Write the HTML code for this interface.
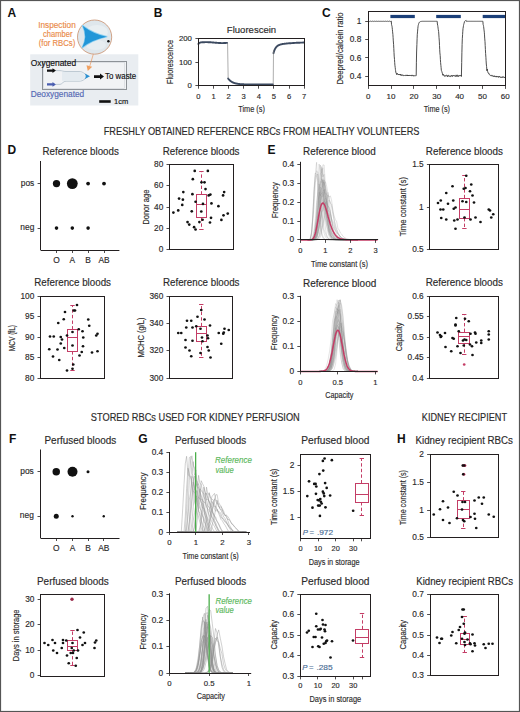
<!DOCTYPE html>
<html><head><meta charset="utf-8"><title>Figure</title>
<style>
html,body{margin:0;padding:0;background:#fff;}
body{width:520px;height:712px;overflow:hidden;}
svg{display:block;}
text{font-family:"Liberation Sans", sans-serif;}
</style></head><body>
<svg width="520" height="712" viewBox="0 0 520 712">
<rect x="0" y="0" width="520" height="712" fill="#fff"/>
<g fill="#2b2a2a">
<rect x="0.5" y="0.5" width="519" height="711" fill="none" stroke="#555" stroke-width="1.2"/>
<text x="7.60" y="16.80" font-size="12" font-weight="bold" fill="#111">A</text>
<text x="57.00" y="28.00" font-size="8.4" text-anchor="middle" fill="#ea8a48" stroke="#ea8a48" stroke-width="0.15" textLength="37.50" lengthAdjust="spacingAndGlyphs">Inspection</text>
<text x="57.70" y="37.20" font-size="8.4" text-anchor="middle" fill="#ea8a48" stroke="#ea8a48" stroke-width="0.15" textLength="29.40" lengthAdjust="spacingAndGlyphs">chamber</text>
<text x="57.00" y="45.80" font-size="8.4" text-anchor="middle" fill="#ea8a48" stroke="#ea8a48" stroke-width="0.15" textLength="36.70" lengthAdjust="spacingAndGlyphs">(for RBCs)</text>
<rect x="30.20" y="54.30" width="108.10" height="51.20" stroke="none" stroke-width="0" fill="#e9edf1"/>
<rect x="42.50" y="61.50" width="84.00" height="28.00" stroke="#8d9297" stroke-width="1.0" fill="#f1f3f5"/>
<rect x="43.50" y="62.50" width="81.00" height="26.00" stroke="#c9ced3" stroke-width="0.5" fill="none"/>
<path d="M56,70.6 L60,70.6 C62,70.6 63,71.5 66,71.5 L79,71.5 C84,71.5 85,75 88,76.3" stroke="#8aa0b0" stroke-width="0.5" fill="none"/>
<path d="M56,84.4 L60,84.4 C62,84.4 63,81.2 66,81.2 L79,81.2 C84,81.2 85,78 88,76.3" stroke="#8aa0b0" stroke-width="0.5" fill="none"/>
<path d="M62,72 L79,72 C83,72 84,76 86,76 C84,77 83,80.8 79,80.8 L62,80.8 Z" stroke="none" stroke-width="0" fill="#e4ebf0"/>
<path d="M84.5,73.3 Q87,76 84.5,79.3 L90,76.3 Z" stroke="none" stroke-width="0" fill="#2a8fd0"/>
<line x1="93.50" y1="53.50" x2="89.80" y2="66.00" stroke="#ea8a48" stroke-width="0.6"/>
<path d="M86.5,65.2 L92.2,66.8 L87.8,71 Z" stroke="none" stroke-width="0" fill="#f0a060"/>
<path d="M47,69.4 L52.5,69.4 L52.5,68.2 L56,70.6 L52.5,73 L52.5,71.8 L47,71.8 Z" stroke="none" stroke-width="0" fill="#111"/>
<path d="M47,83.2 L52.5,83.2 L52.5,82 L56,84.4 L52.5,86.8 L52.5,85.6 L47,85.6 Z" stroke="none" stroke-width="0" fill="#4a5eb0"/>
<path d="M94,75.3 L100,75.3 L100,73.6 L104,76.6 L100,79.6 L100,77.9 L94,77.9 Z" stroke="none" stroke-width="0" fill="#111"/>
<text x="105.00" y="78.90" font-size="8.2" fill="#111" stroke="#111" stroke-width="0.15" textLength="31.20" lengthAdjust="spacingAndGlyphs">To waste</text>
<text x="30.70" y="66.30" font-size="8.8" fill="#111" stroke="#111" stroke-width="0.15" textLength="45.40" lengthAdjust="spacingAndGlyphs">Oxygenated</text>
<text x="30.70" y="96.80" font-size="8.8" fill="#5468b4" stroke="#5468b4" stroke-width="0.15" textLength="53.50" lengthAdjust="spacingAndGlyphs">Deoxygenated</text>
<rect x="99.20" y="100.20" width="11.50" height="2.60" stroke="none" stroke-width="0" fill="#111"/>
<text x="114.00" y="103.50" font-size="7.6" fill="#111" stroke="#111" stroke-width="0.15" textLength="14.20" lengthAdjust="spacingAndGlyphs">1cm</text>
<circle cx="94.6" cy="37.1" r="17.1" fill="#dfe7ec" stroke="#c98f6c" stroke-width="0.8"/>
<ellipse cx="97" cy="32" rx="11" ry="7" fill="#e9eff2" stroke="none"/>
<ellipse cx="96" cy="45" rx="10" ry="5" fill="#e7edf1" stroke="none"/>
<path d="M82.2,25.2 Q93,33.5 107.2,36.6 Q93,39.5 82.0,48.0 Q88,36.5 82.2,25.2 Z" stroke="#8fd0f0" stroke-width="1.2" fill="#8fd0f0"/>
<path d="M82.6,25.8 Q93,34 106.7,36.8 Q93,39.5 82.2,47.4 Q88,36.5 82.6,25.8 Z" stroke="none" stroke-width="0" fill="#2196d8"/>
<circle cx="108.40" cy="41.30" r="1.25" fill="#111"/>
<text x="153.80" y="16.90" font-size="12" font-weight="bold" fill="#111">B</text>
<text x="226.80" y="32.80" font-size="9.3" stroke="#2b2a2a" stroke-width="0.15" textLength="49.40" lengthAdjust="spacingAndGlyphs">Fluorescein</text>
<path d="M198.4,44.0 L198.7,43.5 L199.0,43.2 L199.3,42.9 L199.6,42.8 L199.9,42.7 L200.2,42.6 L200.5,42.5 L200.8,42.4 L201.1,42.4 L201.4,42.4 L201.7,42.3 L202.0,42.3 L202.3,42.3 L202.6,42.3 L202.9,42.2 L203.2,42.2 L203.5,42.2 L203.8,42.2 L204.1,42.2 L204.4,42.2 L204.7,42.2 L205.1,42.1 L205.4,42.1 L205.7,42.1 L206.0,42.1 L206.3,42.1 L206.6,42.1 L206.9,42.1 L207.2,42.1 L207.5,42.1 L207.8,42.2 L208.1,42.2 L208.4,42.2 L208.7,42.2 L209.0,42.2 L209.3,42.2 L209.6,42.2 L209.9,42.2 L210.2,42.3 L210.5,42.3 L210.8,42.3 L211.1,42.3 L211.4,42.4 L211.7,42.4 L212.0,42.4 L212.3,42.4 L212.6,42.5 L212.9,42.5 L213.2,42.5 L213.5,42.5 L213.8,42.6 L214.1,42.6 L214.4,42.6 L214.7,42.6 L215.0,42.7 L215.3,42.7 L215.6,42.7 L215.9,42.8 L216.2,42.8 L216.5,42.8 L216.8,42.8 L217.1,42.9 L217.4,42.9 L217.7,42.9 L218.0,42.9 L218.4,42.9 L218.7,43.0 L219.0,43.0 L219.3,43.0 L219.6,43.0 L219.9,43.0 L220.2,43.0 L220.5,43.0 L220.8,43.1 L221.1,43.1 L221.4,43.1 L221.7,43.1 L222.0,43.1 L222.3,43.1 L222.6,43.1 L222.9,43.1 L223.2,43.1 L223.5,43.1 L223.8,43.0 L224.1,43.0 L224.4,43.0 L224.7,43.0 L225.0,43.0 L225.3,43.0 L225.6,43.0 L225.9,42.9 L226.2,42.9 L226.5,42.9 L226.8,42.9 L227.1,42.9" stroke="#3c4a60" stroke-width="1.9" fill="none" stroke-linejoin="round" stroke-linecap="round"/>
<path d="M228.2,78.6 L228.5,79.0 L228.8,79.4 L229.1,79.7 L229.4,80.0 L229.7,80.3 L230.0,80.6 L230.3,80.8 L230.6,81.1 L230.9,81.3 L231.2,81.5 L231.5,81.7 L231.8,81.9 L232.1,82.0 L232.4,82.2 L232.7,82.4 L233.0,82.5 L233.3,82.6 L233.6,82.7 L233.9,82.9 L234.2,83.0 L234.5,83.1 L234.8,83.2 L235.1,83.3 L235.4,83.3 L235.7,83.4 L236.0,83.5 L236.3,83.5 L236.6,83.6 L236.9,83.7 L237.2,83.7 L237.5,83.8 L237.8,83.8 L238.2,83.9 L238.5,83.9 L238.8,84.0 L239.1,84.0 L239.4,84.0 L239.7,84.1 L240.0,84.1 L240.3,84.1 L240.6,84.1 L240.9,84.2 L241.2,84.2 L241.5,84.2 L241.8,84.2 L242.1,84.2 L242.4,84.3 L242.7,84.3 L243.0,84.3 L243.3,84.3 L243.6,84.3 L243.9,84.3 L244.2,84.4 L244.5,84.4 L244.8,84.4 L245.1,84.4 L245.4,84.4 L245.7,84.4 L246.0,84.4 L246.3,84.4 L246.6,84.4 L246.9,84.4 L247.2,84.4 L247.5,84.4 L247.8,84.4 L248.1,84.5 L248.4,84.5 L248.7,84.5 L249.0,84.5 L249.3,84.5 L249.6,84.5 L249.9,84.5 L250.2,84.5 L250.5,84.5 L250.8,84.5 L251.1,84.5 L251.5,84.5 L251.8,84.5 L252.1,84.5 L252.4,84.5 L252.7,84.5 L253.0,84.5 L253.3,84.5 L253.6,84.5 L253.9,84.5 L254.2,84.5 L254.5,84.5 L254.8,84.5 L255.1,84.5 L255.4,84.5 L255.7,84.5 L256.0,84.5 L256.3,84.5 L256.6,84.5 L256.9,84.5 L257.2,84.5 L257.5,84.5 L257.8,84.5 L258.1,84.5 L258.4,84.5 L258.7,84.5 L259.0,84.5 L259.3,84.5 L259.6,84.5 L259.9,84.5 L260.2,84.5 L260.5,84.5 L260.8,84.5 L261.1,84.5 L261.4,84.5 L261.7,84.5 L262.0,84.5 L262.3,84.5 L262.6,84.5 L262.9,84.5 L263.2,84.5 L263.5,84.5 L263.8,84.5 L264.1,84.5 L264.4,84.5 L264.8,84.5 L265.1,84.5 L265.4,84.5 L265.7,84.5 L266.0,84.5 L266.3,84.5 L266.6,84.5 L266.9,84.5 L267.2,84.5 L267.5,84.5 L267.8,84.5 L268.1,84.5 L268.4,84.5 L268.7,84.5 L269.0,84.5 L269.3,84.5 L269.6,84.5 L269.9,84.5 L270.2,84.5 L270.5,84.5 L270.8,84.5 L271.1,84.5 L271.4,84.5 L271.7,84.5 L272.0,84.5 L272.3,84.5 L272.6,84.5 L272.9,84.5" stroke="#3c4a60" stroke-width="1.9" fill="none" stroke-linejoin="round" stroke-linecap="round"/>
<path d="M273.5,53.2 L273.8,52.1 L274.1,51.2 L274.4,50.4 L274.7,49.7 L275.0,49.0 L275.3,48.5 L275.6,48.0 L275.9,47.5 L276.2,47.1 L276.5,46.8 L276.8,46.5 L277.1,46.2 L277.4,46.0 L277.7,45.7 L278.1,45.5 L278.4,45.4 L278.7,45.2 L279.0,45.1 L279.3,44.9 L279.6,44.8 L279.9,44.7 L280.2,44.6 L280.5,44.5 L280.8,44.4 L281.1,44.4 L281.4,44.3 L281.7,44.2 L282.0,44.2 L282.3,44.1 L282.6,44.0 L282.9,44.0 L283.2,43.9 L283.5,43.9 L283.8,43.9 L284.1,43.8 L284.4,43.8 L284.7,43.7 L285.0,43.7 L285.3,43.7 L285.6,43.6 L285.9,43.6 L286.2,43.6 L286.5,43.5 L286.8,43.5 L287.1,43.5 L287.4,43.4 L287.7,43.4 L288.0,43.4 L288.3,43.4 L288.6,43.3 L288.9,43.3 L289.2,43.3 L289.5,43.3 L289.8,43.2 L290.1,43.2 L290.4,43.2 L290.7,43.2 L291.1,43.2 L291.4,43.1 L291.7,43.1 L292.0,43.1 L292.3,43.1 L292.6,43.1 L292.9,43.0 L293.2,43.0 L293.5,43.0 L293.8,43.0 L294.1,43.0 L294.4,42.9 L294.7,42.9 L295.0,42.9 L295.3,42.9 L295.6,42.9 L295.9,42.9 L296.2,42.8 L296.5,42.8 L296.8,42.8 L297.1,42.8 L297.4,42.8 L297.7,42.8 L298.0,42.8 L298.3,42.7 L298.6,42.7 L298.9,42.7 L299.2,42.7 L299.5,42.7 L299.8,42.7 L300.1,42.7 L300.4,42.6 L300.7,42.6 L301.0,42.6 L301.3,42.6 L301.6,42.6 L301.9,42.6 L302.2,42.6 L302.5,42.6 L302.8,42.6 L303.1,42.5 L303.4,42.5 L303.7,42.5 L304.0,42.5" stroke="#3c4a60" stroke-width="1.9" fill="none" stroke-linejoin="round" stroke-linecap="round"/>
<line x1="227.57" y1="43.31" x2="228.18" y2="78.64" stroke="#777" stroke-width="0.6"/>
<line x1="273.22" y1="84.52" x2="273.52" y2="50.38" stroke="#777" stroke-width="0.6"/>
<rect x="198.50" y="38.50" width="106.00" height="47.00" stroke="#231f20" stroke-width="1.0" fill="none"/>
<line x1="195.40" y1="38.50" x2="198.40" y2="38.50" stroke="#231f20" stroke-width="0.8"/>
<text x="191.90" y="41.10" font-size="7.8" text-anchor="end" stroke="#2b2a2a" stroke-width="0.15">200</text>
<line x1="195.40" y1="62.50" x2="198.40" y2="62.50" stroke="#231f20" stroke-width="0.8"/>
<text x="191.90" y="64.65" font-size="7.8" text-anchor="end" stroke="#2b2a2a" stroke-width="0.15">100</text>
<line x1="195.40" y1="85.50" x2="198.40" y2="85.50" stroke="#231f20" stroke-width="0.8"/>
<text x="191.90" y="88.20" font-size="7.8" text-anchor="end" stroke="#2b2a2a" stroke-width="0.15">0</text>
<line x1="198.50" y1="85.70" x2="198.50" y2="88.70" stroke="#231f20" stroke-width="0.8"/>
<text x="198.40" y="98.90" font-size="7.6" text-anchor="middle" stroke="#2b2a2a" stroke-width="0.15">0</text>
<line x1="213.50" y1="85.70" x2="213.50" y2="88.70" stroke="#231f20" stroke-width="0.8"/>
<text x="213.51" y="98.90" font-size="7.6" text-anchor="middle" stroke="#2b2a2a" stroke-width="0.15">1</text>
<line x1="228.50" y1="85.70" x2="228.50" y2="88.70" stroke="#231f20" stroke-width="0.8"/>
<text x="228.63" y="98.90" font-size="7.6" text-anchor="middle" stroke="#2b2a2a" stroke-width="0.15">2</text>
<line x1="243.50" y1="85.70" x2="243.50" y2="88.70" stroke="#231f20" stroke-width="0.8"/>
<text x="243.74" y="98.90" font-size="7.6" text-anchor="middle" stroke="#2b2a2a" stroke-width="0.15">3</text>
<line x1="258.50" y1="85.70" x2="258.50" y2="88.70" stroke="#231f20" stroke-width="0.8"/>
<text x="258.86" y="98.90" font-size="7.6" text-anchor="middle" stroke="#2b2a2a" stroke-width="0.15">4</text>
<line x1="273.50" y1="85.70" x2="273.50" y2="88.70" stroke="#231f20" stroke-width="0.8"/>
<text x="273.97" y="98.90" font-size="7.6" text-anchor="middle" stroke="#2b2a2a" stroke-width="0.15">5</text>
<line x1="289.50" y1="85.70" x2="289.50" y2="88.70" stroke="#231f20" stroke-width="0.8"/>
<text x="289.09" y="98.90" font-size="7.6" text-anchor="middle" stroke="#2b2a2a" stroke-width="0.15">6</text>
<line x1="304.50" y1="85.70" x2="304.50" y2="88.70" stroke="#231f20" stroke-width="0.8"/>
<text x="304.20" y="98.90" font-size="7.6" text-anchor="middle" stroke="#2b2a2a" stroke-width="0.15">7</text>
<text x="238.20" y="111.80" font-size="9.4" stroke="#2b2a2a" stroke-width="0.15" textLength="26.80" lengthAdjust="spacingAndGlyphs">Time (s)</text>
<text x="173.10" y="62.00" font-size="8.4" text-anchor="middle" stroke="#2b2a2a" stroke-width="0.15" textLength="44.00" lengthAdjust="spacingAndGlyphs" transform="rotate(-90 173.10 62.00)">Fluorescence</text>
<text x="321.90" y="16.80" font-size="12" font-weight="bold" fill="#111">C</text>
<path d="M368.2,21.3 L368.4,21.2 L368.7,21.1 L368.9,21.1 L369.1,21.2 L369.3,21.4 L369.6,21.5 L369.8,21.5 L370.0,21.4 L370.3,21.3 L370.5,21.2 L370.7,21.1 L370.9,21.1 L371.2,21.2 L371.4,21.4 L371.6,21.5 L371.9,21.5 L372.1,21.4 L372.3,21.3 L372.5,21.2 L372.8,21.1 L373.0,21.1 L373.2,21.2 L373.5,21.4 L373.7,21.5 L373.9,21.5 L374.1,21.4 L374.4,21.3 L374.6,21.2 L374.8,21.1 L375.1,21.1 L375.3,21.2 L375.5,21.4 L375.7,21.5 L376.0,21.5 L376.2,21.4 L376.4,21.3 L376.7,21.2 L376.9,21.1 L377.1,21.1 L377.3,21.3 L377.6,21.4 L377.8,21.5 L378.0,21.5 L378.3,21.4 L378.5,21.3 L378.7,21.2 L378.9,21.1 L379.2,21.2 L379.4,21.3 L379.6,21.4 L379.9,21.5 L380.1,21.5 L380.3,21.4 L380.5,21.3 L380.8,21.2 L381.0,21.1 L381.2,21.2 L381.5,21.3 L381.7,21.4 L381.9,21.5 L382.1,21.5 L382.4,21.4 L382.6,21.3 L382.8,21.2 L383.1,21.1 L383.3,21.2 L383.5,21.3 L383.7,21.4 L384.0,21.5 L384.2,21.5 L384.4,21.4 L384.7,21.3 L384.9,21.2 L385.1,21.1 L385.3,21.2 L385.6,21.3 L385.8,21.4 L386.0,21.5 L386.3,21.5 L386.5,21.4 L386.7,21.3 L386.9,21.2 L387.2,21.1 L387.4,21.2 L387.6,21.3 L387.9,21.4 L388.1,21.5 L388.3,21.5 L388.5,21.4 L388.8,21.3 L389.0,21.2 L389.2,21.1 L389.5,21.2 L389.7,21.3 L389.9,21.4 L390.1,21.5 L390.4,21.5 L390.6,21.4 L390.8,21.3 L391.1,21.2 L391.3,21.1 L391.5,24.3 L391.7,25.2 L392.0,26.3 L392.2,27.8 L392.4,29.6 L392.6,31.8 L392.9,34.5 L393.1,37.5 L393.3,40.9 L393.6,44.7 L393.8,48.5 L394.0,52.4 L394.2,56.1 L394.5,59.5 L394.7,62.6 L394.9,65.2 L395.2,67.4 L395.4,69.3 L395.6,70.7 L395.8,72.1 L396.1,73.2 L396.3,73.3 L396.5,74.5 L396.8,74.4 L397.0,73.2 L397.2,73.8 L397.4,73.6 L397.7,74.3 L397.9,74.0 L398.1,74.5 L398.4,74.6 L398.6,74.4 L398.8,74.0 L399.0,74.9 L399.3,74.8 L399.5,74.4 L399.7,74.1 L400.0,74.6 L400.2,74.8 L400.4,74.2 L400.6,75.3 L400.9,74.5 L401.1,75.1 L401.3,75.3 L401.6,75.4 L401.8,75.2 L402.0,74.7 L402.2,75.4 L402.5,75.0 L402.7,74.9 L402.9,75.3 L403.2,75.1 L403.4,75.6 L403.6,75.7 L403.8,75.5 L404.1,75.0 L404.3,75.3 L404.5,75.5 L404.8,75.2 L405.0,75.4 L405.2,75.5 L405.4,75.0 L405.7,75.1 L405.9,75.7 L406.1,75.3 L406.4,75.4 L406.6,75.0 L406.8,75.2 L407.0,75.7 L407.3,74.9 L407.5,75.9 L407.7,75.6 L408.0,75.2 L408.2,75.9 L408.4,75.5 L408.6,76.0 L408.9,75.3 L409.1,75.2 L409.3,75.5 L409.6,75.1 L409.8,75.8 L410.0,75.3 L410.2,75.5 L410.5,75.5 L410.7,75.6 L410.9,75.2 L411.2,75.1 L411.4,75.6 L411.6,75.4 L411.8,76.1 L412.1,75.4 L412.3,75.5 L412.5,75.1 L412.8,75.3 L413.0,75.9 L413.2,75.8 L413.4,75.5 L413.7,76.2 L413.9,75.7 L414.1,75.7 L414.4,75.7 L414.6,75.7 L414.8,75.7 L415.0,75.7 L415.3,75.7 L415.5,75.7 L415.7,75.7 L416.0,75.7 L416.2,75.7 L416.4,62.2 L416.6,52.0 L416.9,44.4 L417.1,38.7 L417.3,34.3 L417.6,31.1 L417.8,28.7 L418.0,26.8 L418.2,25.5 L418.5,24.4 L418.7,23.6 L418.9,23.1 L419.2,22.6 L419.4,22.3 L419.6,22.0 L419.8,21.9 L420.1,21.7 L420.3,21.6 L420.5,21.5 L420.8,21.5 L421.0,21.4 L421.2,21.4 L421.4,21.4 L421.7,21.4 L421.9,21.3 L422.1,21.3 L422.4,21.3 L422.6,21.3 L422.8,21.3 L423.0,21.3 L423.3,21.3 L423.5,21.3 L423.7,21.3 L424.0,21.3 L424.2,21.3 L424.4,21.3 L424.6,21.3 L424.9,21.3 L425.1,21.3 L425.3,21.3 L425.6,21.3 L425.8,21.3 L426.0,21.3 L426.2,21.3 L426.5,21.3 L426.7,21.3 L426.9,21.3 L427.2,21.3 L427.4,21.3 L427.6,21.3 L427.8,21.3 L428.1,21.3 L428.3,21.3 L428.5,21.3 L428.8,21.3 L429.0,21.3 L429.2,21.3 L429.4,21.3 L429.7,21.3 L429.9,21.3 L430.1,21.3 L430.4,21.3 L430.6,21.3 L430.8,21.3 L431.0,21.3 L431.3,21.3 L431.5,21.3 L431.7,21.3 L432.0,21.3 L432.2,21.3 L432.4,21.3 L432.6,21.3 L432.9,21.3 L433.1,21.3 L433.3,21.3 L433.6,21.3 L433.8,21.3 L434.0,21.3 L434.2,21.3 L434.5,21.3 L434.7,21.3 L434.9,21.3 L435.2,21.3 L435.4,21.3 L435.6,21.3 L435.8,21.3 L436.1,21.3 L436.3,21.3 L436.5,21.3 L436.8,21.3 L437.0,21.3 L437.2,21.3 L437.4,24.0 L437.7,25.3 L437.9,26.7 L438.1,28.2 L438.3,29.7 L438.6,31.5 L438.8,34.0 L439.0,37.3 L439.3,41.1 L439.5,45.4 L439.7,49.3 L439.9,52.9 L440.2,55.5 L440.4,59.5 L440.6,62.6 L440.9,65.5 L441.1,67.5 L441.3,70.1 L441.5,70.8 L441.8,71.5 L442.0,71.9 L442.2,72.9 L442.5,73.8 L442.7,75.1 L442.9,75.2 L443.1,75.2 L443.4,74.4 L443.6,74.4 L443.8,75.6 L444.1,76.0 L444.3,76.3 L444.5,76.3 L444.7,75.7 L445.0,75.2 L445.2,75.5 L445.4,76.0 L445.7,76.0 L445.9,76.3 L446.1,76.0 L446.3,75.3 L446.6,75.2 L446.8,75.3 L447.0,75.4 L447.3,75.7 L447.5,76.7 L447.7,75.7 L447.9,75.5 L448.2,75.0 L448.4,75.0 L448.6,75.6 L448.9,76.0 L449.1,76.6 L449.3,76.0 L449.5,76.2 L449.8,75.9 L450.0,75.6 L450.2,75.9 L450.5,76.1 L450.7,76.7 L450.9,76.7 L451.1,76.1 L451.4,75.8 L451.6,75.4 L451.8,76.1 L452.1,75.5 L452.3,76.1 L452.5,76.5 L452.7,76.0 L453.0,75.6 L453.2,75.4 L453.4,76.0 L453.7,75.6 L453.9,75.6 L454.1,76.1 L454.3,75.8 L454.6,75.8 L454.8,75.7 L455.0,75.7 L455.3,76.2 L455.5,75.8 L455.7,76.5 L455.9,76.3 L456.2,74.9 L456.4,75.3 L456.6,75.9 L456.9,75.9 L457.1,76.7 L457.3,76.1 L457.5,75.2 L457.8,75.0 L458.0,75.1 L458.2,75.8 L458.5,76.1 L458.7,76.6 L458.9,75.8 L459.1,75.7 L459.4,75.1 L459.6,75.5 L459.8,75.9 L460.1,75.6 L460.3,75.7 L460.5,75.7 L460.7,75.4 L461.0,75.0 L461.2,75.0 L461.4,76.5 L461.7,62.5 L461.9,52.3 L462.1,44.6 L462.3,38.8 L462.6,34.5 L462.8,31.2 L463.0,28.7 L463.3,26.9 L463.5,25.5 L463.7,24.5 L463.9,23.7 L464.2,23.1 L464.4,21.7 L464.6,21.4 L464.9,21.1 L465.1,21.0 L465.3,20.8 L465.5,20.7 L465.8,20.6 L466.0,20.6 L466.2,20.5 L466.5,21.4 L466.7,21.4 L466.9,21.4 L467.1,21.3 L467.4,21.3 L467.6,21.3 L467.8,21.3 L468.1,21.3 L468.3,21.3 L468.5,21.3 L468.7,21.3 L469.0,21.3 L469.2,21.3 L469.4,21.3 L469.7,21.3 L469.9,21.3 L470.1,21.3 L470.3,21.3 L470.6,21.3 L470.8,21.3 L471.0,21.3 L471.3,21.3 L471.5,21.3 L471.7,21.3 L471.9,21.3 L472.2,21.3 L472.4,21.3 L472.6,21.3 L472.9,21.3 L473.1,21.3 L473.3,21.3 L473.5,21.3 L473.8,21.3 L474.0,21.3 L474.2,21.3 L474.5,21.3 L474.7,21.3 L474.9,21.3 L475.1,21.3 L475.4,21.3 L475.6,21.3 L475.8,21.3 L476.1,21.3 L476.3,21.3 L476.5,21.3 L476.7,21.3 L477.0,21.3 L477.2,21.3 L477.4,21.3 L477.7,21.3 L477.9,21.3 L478.1,21.3 L478.3,21.3 L478.6,21.3 L478.8,21.3 L479.0,21.3 L479.3,21.3 L479.5,21.3 L479.7,21.3 L479.9,21.3 L480.2,21.3 L480.4,21.3 L480.6,21.3 L480.9,21.3 L481.1,21.3 L481.3,21.3 L481.5,21.3 L481.8,21.3 L482.0,21.3 L482.2,21.3 L482.4,21.3 L482.7,21.3 L482.9,21.3 L483.1,24.4 L483.4,25.3 L483.6,26.5 L483.8,28.0 L484.0,29.9 L484.3,32.2 L484.5,34.9 L484.7,38.1 L485.0,41.6 L485.2,45.4 L485.4,49.4 L485.6,53.4 L485.9,57.3 L486.1,60.8 L486.3,64.0 L486.6,66.7 L486.8,69.0 L487.0,70.9 L487.2,69.0 L487.5,70.7 L487.7,71.7 L487.9,72.3 L488.2,73.0 L488.4,73.0 L488.6,73.2 L488.8,74.1 L489.1,73.8 L489.3,74.0 L489.5,74.2 L489.8,75.0 L490.0,75.3 L490.2,75.4 L490.4,75.6 L490.7,75.7 L490.9,75.3 L491.1,75.1 L491.4,75.2 L491.6,75.7 L491.8,75.6 L492.0,75.5 L492.3,76.3 L492.5,75.7 L492.7,75.5 L493.0,75.7 L493.2,75.8 L493.4,76.2 L493.6,76.5 L493.9,75.9 L494.1,76.5 L494.3,76.0 L494.6,75.8 L494.8,76.5 L495.0,76.5 L495.2,76.0 L495.5,76.3 L495.7,76.9 L495.9,77.0 L496.2,77.0 L496.4,76.2 L496.6,76.3 L496.8,77.1 L497.1,76.4 L497.3,76.2 L497.5,76.6 L497.8,77.0 L498.0,76.8 L498.2,77.3 L498.4,77.4 L498.7,76.4 L498.9,76.8 L499.1,76.9 L499.4,76.5 L499.6,77.1 L499.8,76.6 L500.0,76.7 L500.3,77.4 L500.5,77.3 L500.7,77.3 L501.0,77.4 L501.2,77.0 L501.4,77.4 L501.6,77.2 L501.9,77.6 L502.1,76.7 L502.3,77.3 L502.6,77.2 L502.8,77.1 L503.0,76.8 L503.2,77.3 L503.5,76.8 L503.7,77.2 L503.9,77.2 L504.2,77.2 L504.4,77.8 L504.6,77.4 L504.8,77.6 L505.1,77.9 L505.3,77.0" stroke="#3a3a3a" stroke-width="0.9" fill="none"/>
<rect x="390.40" y="14.90" width="24.40" height="3.20" stroke="none" stroke-width="0" fill="#1b3f78"/>
<rect x="436.20" y="14.90" width="24.60" height="3.20" stroke="none" stroke-width="0" fill="#1b3f78"/>
<rect x="482.70" y="14.90" width="22.60" height="3.20" stroke="none" stroke-width="0" fill="#1b3f78"/>
<rect x="368.50" y="11.50" width="137.00" height="74.00" stroke="#231f20" stroke-width="1.0" fill="none"/>
<line x1="365.20" y1="21.50" x2="368.20" y2="21.50" stroke="#231f20" stroke-width="0.8"/>
<text x="361.30" y="23.90" font-size="8.3" text-anchor="end" stroke="#2b2a2a" stroke-width="0.15">1</text>
<line x1="365.20" y1="39.50" x2="368.20" y2="39.50" stroke="#231f20" stroke-width="0.8"/>
<text x="361.30" y="42.20" font-size="8.3" text-anchor="end" stroke="#2b2a2a" stroke-width="0.15">0.8</text>
<line x1="365.20" y1="57.50" x2="368.20" y2="57.50" stroke="#231f20" stroke-width="0.8"/>
<text x="361.30" y="60.50" font-size="8.3" text-anchor="end" stroke="#2b2a2a" stroke-width="0.15">0.6</text>
<line x1="365.20" y1="76.50" x2="368.20" y2="76.50" stroke="#231f20" stroke-width="0.8"/>
<text x="361.30" y="78.80" font-size="8.3" text-anchor="end" stroke="#2b2a2a" stroke-width="0.15">0.4</text>
<line x1="368.50" y1="85.90" x2="368.50" y2="88.90" stroke="#231f20" stroke-width="0.8"/>
<text x="368.20" y="98.90" font-size="8.0" text-anchor="middle" stroke="#2b2a2a" stroke-width="0.15">0</text>
<line x1="391.50" y1="85.90" x2="391.50" y2="88.90" stroke="#231f20" stroke-width="0.8"/>
<text x="391.05" y="98.90" font-size="8.0" text-anchor="middle" stroke="#2b2a2a" stroke-width="0.15">10</text>
<line x1="413.50" y1="85.90" x2="413.50" y2="88.90" stroke="#231f20" stroke-width="0.8"/>
<text x="413.90" y="98.90" font-size="8.0" text-anchor="middle" stroke="#2b2a2a" stroke-width="0.15">20</text>
<line x1="436.50" y1="85.90" x2="436.50" y2="88.90" stroke="#231f20" stroke-width="0.8"/>
<text x="436.75" y="98.90" font-size="8.0" text-anchor="middle" stroke="#2b2a2a" stroke-width="0.15">30</text>
<line x1="459.50" y1="85.90" x2="459.50" y2="88.90" stroke="#231f20" stroke-width="0.8"/>
<text x="459.60" y="98.90" font-size="8.0" text-anchor="middle" stroke="#2b2a2a" stroke-width="0.15">40</text>
<line x1="482.50" y1="85.90" x2="482.50" y2="88.90" stroke="#231f20" stroke-width="0.8"/>
<text x="482.45" y="98.90" font-size="8.0" text-anchor="middle" stroke="#2b2a2a" stroke-width="0.15">50</text>
<line x1="505.50" y1="85.90" x2="505.50" y2="88.90" stroke="#231f20" stroke-width="0.8"/>
<text x="505.30" y="98.90" font-size="8.0" text-anchor="middle" stroke="#2b2a2a" stroke-width="0.15">60</text>
<text x="423.70" y="111.80" font-size="9.4" stroke="#2b2a2a" stroke-width="0.15" textLength="26.30" lengthAdjust="spacingAndGlyphs">Time (s)</text>
<text x="343.02" y="48.45" font-size="9.3" text-anchor="middle" stroke="#2b2a2a" stroke-width="0.15" textLength="71.90" lengthAdjust="spacingAndGlyphs" transform="rotate(-90 343.02 48.45)">Deepred/calcein ratio</text>
<text x="103.70" y="135.40" font-size="10.4" stroke="#2b2a2a" stroke-width="0.15" textLength="315.80" lengthAdjust="spacingAndGlyphs">FRESHLY OBTAINED REFERENCE RBCs FROM HEALTHY VOLUNTEERS</text>
<text x="7.60" y="154.30" font-size="12" font-weight="bold" fill="#111">D</text>
<text x="42.50" y="155.00" font-size="10" stroke="#2b2a2a" stroke-width="0.15" textLength="76.30" lengthAdjust="spacingAndGlyphs">Reference bloods</text>
<line x1="40.50" y1="161.00" x2="40.50" y2="250.00" stroke="#231f20" stroke-width="1.0"/>
<line x1="40.60" y1="250.50" x2="119.40" y2="250.50" stroke="#231f20" stroke-width="1.0"/>
<line x1="37.60" y1="183.50" x2="40.60" y2="183.50" stroke="#231f20" stroke-width="0.8"/>
<text x="34.30" y="185.60" font-size="8.4" text-anchor="end" stroke="#2b2a2a" stroke-width="0.15">pos</text>
<line x1="37.60" y1="228.50" x2="40.60" y2="228.50" stroke="#231f20" stroke-width="0.8"/>
<text x="34.30" y="230.10" font-size="8.4" text-anchor="end" stroke="#2b2a2a" stroke-width="0.15">neg</text>
<line x1="56.50" y1="250.00" x2="56.50" y2="253.00" stroke="#231f20" stroke-width="0.8"/>
<text x="56.50" y="263.20" font-size="8.4" text-anchor="middle" stroke="#2b2a2a" stroke-width="0.15">O</text>
<line x1="72.50" y1="250.00" x2="72.50" y2="253.00" stroke="#231f20" stroke-width="0.8"/>
<text x="72.30" y="263.20" font-size="8.4" text-anchor="middle" stroke="#2b2a2a" stroke-width="0.15">A</text>
<line x1="88.50" y1="250.00" x2="88.50" y2="253.00" stroke="#231f20" stroke-width="0.8"/>
<text x="88.10" y="263.20" font-size="8.4" text-anchor="middle" stroke="#2b2a2a" stroke-width="0.15">B</text>
<line x1="104.50" y1="250.00" x2="104.50" y2="253.00" stroke="#231f20" stroke-width="0.8"/>
<text x="104.00" y="263.20" font-size="8.4" text-anchor="middle" stroke="#2b2a2a" stroke-width="0.15">AB</text>
<circle cx="56.50" cy="183.60" r="3.65" fill="#111"/>
<circle cx="72.30" cy="183.60" r="5.4" fill="#111"/>
<circle cx="88.10" cy="183.60" r="1.9" fill="#111"/>
<circle cx="104.00" cy="183.60" r="1.9" fill="#111"/>
<circle cx="56.50" cy="228.10" r="1.8" fill="#111"/>
<circle cx="72.30" cy="228.10" r="1.8" fill="#111"/>
<circle cx="88.10" cy="228.10" r="1.8" fill="#111"/>
<text x="162.80" y="154.80" font-size="10" stroke="#2b2a2a" stroke-width="0.15" textLength="76.70" lengthAdjust="spacingAndGlyphs">Reference bloods</text>
<rect x="196.50" y="194.50" width="10.00" height="23.00" stroke="#c43d66" stroke-width="1.0" fill="none"/>
<line x1="196.60" y1="204.50" x2="206.20" y2="204.50" stroke="#c43d66" stroke-width="1.0"/>
<line x1="201.50" y1="194.60" x2="201.50" y2="171.30" stroke="#c43d66" stroke-width="1.0" stroke-dasharray="3.4,2.2"/>
<line x1="201.50" y1="217.80" x2="201.50" y2="229.30" stroke="#c43d66" stroke-width="1.0" stroke-dasharray="3.4,2.2"/>
<line x1="199.20" y1="171.50" x2="203.60" y2="171.50" stroke="#c43d66" stroke-width="1.0"/>
<line x1="199.20" y1="229.50" x2="203.60" y2="229.50" stroke="#c43d66" stroke-width="1.0"/>
<circle cx="173.37" cy="212.56" r="1.35" fill="#111"/>
<circle cx="178.23" cy="210.45" r="1.35" fill="#111"/>
<circle cx="179.08" cy="198.60" r="1.35" fill="#111"/>
<circle cx="182.89" cy="199.66" r="1.35" fill="#111"/>
<circle cx="182.25" cy="204.95" r="1.35" fill="#111"/>
<circle cx="183.31" cy="192.04" r="1.35" fill="#111"/>
<circle cx="187.54" cy="222.08" r="1.35" fill="#111"/>
<circle cx="189.23" cy="224.62" r="1.35" fill="#111"/>
<circle cx="191.77" cy="211.29" r="1.35" fill="#111"/>
<circle cx="192.41" cy="194.16" r="1.35" fill="#111"/>
<circle cx="192.83" cy="179.14" r="1.35" fill="#111"/>
<circle cx="194.73" cy="170.89" r="1.35" fill="#111"/>
<circle cx="194.10" cy="227.16" r="1.35" fill="#111"/>
<circle cx="195.58" cy="229.49" r="1.35" fill="#111"/>
<circle cx="195.58" cy="201.77" r="1.35" fill="#111"/>
<circle cx="199.39" cy="222.08" r="1.35" fill="#111"/>
<circle cx="201.29" cy="211.50" r="1.35" fill="#111"/>
<circle cx="201.50" cy="182.31" r="1.35" fill="#111"/>
<circle cx="202.56" cy="219.75" r="1.35" fill="#111"/>
<circle cx="202.98" cy="203.89" r="1.35" fill="#111"/>
<circle cx="204.47" cy="182.31" r="1.35" fill="#111"/>
<circle cx="205.52" cy="189.08" r="1.35" fill="#111"/>
<circle cx="207.85" cy="170.89" r="1.35" fill="#111"/>
<circle cx="208.70" cy="195.43" r="1.35" fill="#111"/>
<circle cx="210.39" cy="194.58" r="1.35" fill="#111"/>
<circle cx="211.02" cy="217.85" r="1.35" fill="#111"/>
<circle cx="211.45" cy="203.47" r="1.35" fill="#111"/>
<circle cx="209.97" cy="222.50" r="1.35" fill="#111"/>
<circle cx="218.43" cy="206.22" r="1.35" fill="#111"/>
<circle cx="221.39" cy="219.97" r="1.35" fill="#111"/>
<circle cx="223.08" cy="195.43" r="1.35" fill="#111"/>
<circle cx="224.14" cy="192.04" r="1.35" fill="#111"/>
<circle cx="223.51" cy="215.31" r="1.35" fill="#111"/>
<circle cx="227.74" cy="213.62" r="1.35" fill="#111"/>
<rect x="169.50" y="164.50" width="64.00" height="85.00" stroke="#231f20" stroke-width="1.0" fill="none"/>
<line x1="166.50" y1="164.50" x2="169.50" y2="164.50" stroke="#231f20" stroke-width="0.8"/>
<text x="163.30" y="166.90" font-size="8.3" text-anchor="end" stroke="#2b2a2a" stroke-width="0.15">80</text>
<line x1="166.50" y1="185.50" x2="169.50" y2="185.50" stroke="#231f20" stroke-width="0.8"/>
<text x="163.30" y="188.28" font-size="8.3" text-anchor="end" stroke="#2b2a2a" stroke-width="0.15">60</text>
<line x1="166.50" y1="207.50" x2="169.50" y2="207.50" stroke="#231f20" stroke-width="0.8"/>
<text x="163.30" y="209.65" font-size="8.3" text-anchor="end" stroke="#2b2a2a" stroke-width="0.15">40</text>
<line x1="166.50" y1="228.50" x2="169.50" y2="228.50" stroke="#231f20" stroke-width="0.8"/>
<text x="163.30" y="231.03" font-size="8.3" text-anchor="end" stroke="#2b2a2a" stroke-width="0.15">20</text>
<line x1="166.50" y1="249.50" x2="169.50" y2="249.50" stroke="#231f20" stroke-width="0.8"/>
<text x="163.30" y="252.40" font-size="8.3" text-anchor="end" stroke="#2b2a2a" stroke-width="0.15">0</text>
<text x="148.72" y="207.15" font-size="9.3" text-anchor="middle" stroke="#2b2a2a" stroke-width="0.15" textLength="34.90" lengthAdjust="spacingAndGlyphs" transform="rotate(-90 148.72 207.15)">Donor age</text>
<text x="267.60" y="154.30" font-size="12" font-weight="bold" fill="#111">E</text>
<text x="303.10" y="154.80" font-size="10" stroke="#2b2a2a" stroke-width="0.15" textLength="72.60" lengthAdjust="spacingAndGlyphs">Reference blood</text>
<path d="M307.8,239.9 L309.1,239.9 L310.3,239.9 L311.6,239.9 L312.8,239.9 L314.1,239.5 L315.3,237.9 L316.6,233.2 L317.8,225.6 L319.1,213.7 L320.4,192.1 L321.6,188.4 L322.9,185.8 L324.1,179.9 L325.4,195.7 L326.6,203.5 L327.9,216.6 L329.1,224.2 L330.4,231.4 L331.6,234.3 L332.9,236.6 L334.1,238.3 L335.4,239.1 L336.7,239.5 L337.9,239.7 L339.2,239.8 L340.4,239.9 L341.7,239.9 L342.9,239.9 L344.2,239.9 L345.4,239.9 L346.7,239.9 L347.9,239.9 L349.2,239.9 L350.4,239.9 L351.7,239.9 L352.9,239.9 L354.2,239.9 L355.5,239.9 L356.7,239.9 L358.0,239.9" stroke="#8a8a8a" stroke-width="0.5" fill="none" stroke-opacity="0.5"/>
<path d="M307.8,239.9 L309.1,239.9 L310.3,239.9 L311.6,239.9 L312.8,239.9 L314.1,239.9 L315.3,239.8 L316.6,239.5 L317.8,238.4 L319.1,235.6 L320.4,230.8 L321.6,225.8 L322.9,214.1 L324.1,206.4 L325.4,202.2 L326.6,201.4 L327.9,192.3 L329.1,199.2 L330.4,201.9 L331.6,207.2 L332.9,214.9 L334.1,220.0 L335.4,227.1 L336.7,229.9 L337.9,233.6 L339.2,235.2 L340.4,236.9 L341.7,238.1 L342.9,238.8 L344.2,239.2 L345.4,239.5 L346.7,239.7 L347.9,239.8 L349.2,239.8 L350.4,239.9 L351.7,239.9 L352.9,239.9 L354.2,239.9 L355.5,239.9 L356.7,239.9 L358.0,239.9" stroke="#8a8a8a" stroke-width="0.5" fill="none" stroke-opacity="0.5"/>
<path d="M307.8,239.9 L309.1,239.9 L310.3,239.9 L311.6,239.9 L312.8,239.9 L314.1,239.9 L315.3,239.6 L316.6,238.4 L317.8,233.9 L319.1,226.0 L320.4,211.2 L321.6,198.6 L322.9,184.4 L324.1,181.7 L325.4,185.9 L326.6,192.5 L327.9,204.5 L329.1,214.0 L330.4,224.4 L331.6,230.3 L332.9,234.6 L334.1,237.1 L335.4,238.6 L336.7,239.3 L337.9,239.6 L339.2,239.8 L340.4,239.8 L341.7,239.9 L342.9,239.9 L344.2,239.9 L345.4,239.9 L346.7,239.9 L347.9,239.9 L349.2,239.9 L350.4,239.9 L351.7,239.9 L352.9,239.9 L354.2,239.9 L355.5,239.9 L356.7,239.9 L358.0,239.9" stroke="#8a8a8a" stroke-width="0.5" fill="none" stroke-opacity="0.5"/>
<path d="M307.8,239.9 L309.1,239.9 L310.3,239.9 L311.6,239.9 L312.8,239.8 L314.1,239.2 L315.3,237.6 L316.6,232.7 L317.8,224.6 L319.1,214.3 L320.4,205.9 L321.6,195.9 L322.9,196.6 L324.1,189.2 L325.4,195.5 L326.6,204.1 L327.9,212.5 L329.1,214.3 L330.4,220.5 L331.6,228.8 L332.9,230.9 L334.1,234.4 L335.4,236.6 L336.7,237.7 L337.9,238.5 L339.2,239.0 L340.4,239.4 L341.7,239.6 L342.9,239.7 L344.2,239.8 L345.4,239.8 L346.7,239.9 L347.9,239.9 L349.2,239.9 L350.4,239.9 L351.7,239.9 L352.9,239.9 L354.2,239.9 L355.5,239.9 L356.7,239.9 L358.0,239.9" stroke="#8a8a8a" stroke-width="0.5" fill="none" stroke-opacity="0.5"/>
<path d="M307.8,239.9 L309.1,239.9 L310.3,239.9 L311.6,239.9 L312.8,239.9 L314.1,239.9 L315.3,239.7 L316.6,238.5 L317.8,233.4 L319.1,223.5 L320.4,200.4 L321.6,184.8 L322.9,164.8 L324.1,165.0 L325.4,184.8 L326.6,196.4 L327.9,216.9 L329.1,227.8 L330.4,232.9 L331.6,237.1 L332.9,238.5 L334.1,239.3 L335.4,239.7 L336.7,239.8 L337.9,239.9 L339.2,239.9 L340.4,239.9 L341.7,239.9 L342.9,239.9 L344.2,239.9 L345.4,239.9 L346.7,239.9 L347.9,239.9 L349.2,239.9 L350.4,239.9 L351.7,239.9 L352.9,239.9 L354.2,239.9 L355.5,239.9 L356.7,239.9 L358.0,239.9" stroke="#8a8a8a" stroke-width="0.5" fill="none" stroke-opacity="0.5"/>
<path d="M307.8,239.9 L309.1,239.9 L310.3,239.4 L311.6,235.0 L312.8,217.0 L314.1,192.4 L315.3,174.5 L316.6,162.3 L317.8,190.9 L319.1,207.6 L320.4,224.9 L321.6,234.6 L322.9,238.0 L324.1,239.3 L325.4,239.7 L326.6,239.8 L327.9,239.9 L329.1,239.9 L330.4,239.9 L331.6,239.9 L332.9,239.9 L334.1,239.9 L335.4,239.9 L336.7,239.9 L337.9,239.9 L339.2,239.9 L340.4,239.9 L341.7,239.9 L342.9,239.9 L344.2,239.9 L345.4,239.9 L346.7,239.9 L347.9,239.9 L349.2,239.9 L350.4,239.9 L351.7,239.9 L352.9,239.9 L354.2,239.9 L355.5,239.9 L356.7,239.9 L358.0,239.9" stroke="#8a8a8a" stroke-width="0.5" fill="none" stroke-opacity="0.5"/>
<path d="M307.8,239.9 L309.1,239.8 L310.3,238.6 L311.6,232.6 L312.8,217.4 L314.1,191.9 L315.3,177.2 L316.6,170.9 L317.8,172.0 L319.1,192.5 L320.4,206.6 L321.6,215.6 L322.9,227.3 L324.1,233.1 L325.4,236.9 L326.6,238.3 L327.9,239.2 L329.1,239.6 L330.4,239.8 L331.6,239.8 L332.9,239.9 L334.1,239.9 L335.4,239.9 L336.7,239.9 L337.9,239.9 L339.2,239.9 L340.4,239.9 L341.7,239.9 L342.9,239.9 L344.2,239.9 L345.4,239.9 L346.7,239.9 L347.9,239.9 L349.2,239.9 L350.4,239.9 L351.7,239.9 L352.9,239.9 L354.2,239.9 L355.5,239.9 L356.7,239.9 L358.0,239.9" stroke="#8a8a8a" stroke-width="0.5" fill="none" stroke-opacity="0.5"/>
<path d="M307.8,239.9 L309.1,239.9 L310.3,239.9 L311.6,239.9 L312.8,239.7 L314.1,238.6 L315.3,234.8 L316.6,227.8 L317.8,211.7 L319.1,195.6 L320.4,190.8 L321.6,178.8 L322.9,184.7 L324.1,191.5 L325.4,206.1 L326.6,214.4 L327.9,223.3 L329.1,231.5 L330.4,235.0 L331.6,236.8 L332.9,238.3 L334.1,239.1 L335.4,239.5 L336.7,239.7 L337.9,239.8 L339.2,239.9 L340.4,239.9 L341.7,239.9 L342.9,239.9 L344.2,239.9 L345.4,239.9 L346.7,239.9 L347.9,239.9 L349.2,239.9 L350.4,239.9 L351.7,239.9 L352.9,239.9 L354.2,239.9 L355.5,239.9 L356.7,239.9 L358.0,239.9" stroke="#8a8a8a" stroke-width="0.5" fill="none" stroke-opacity="0.5"/>
<path d="M307.8,239.9 L309.1,239.9 L310.3,239.9 L311.6,239.9 L312.8,239.9 L314.1,239.8 L315.3,239.6 L316.6,238.5 L317.8,235.5 L319.1,230.2 L320.4,221.4 L321.6,211.3 L322.9,201.1 L324.1,191.8 L325.4,192.9 L326.6,194.3 L327.9,196.0 L329.1,210.1 L330.4,213.7 L331.6,220.2 L332.9,227.6 L334.1,231.9 L335.4,234.0 L336.7,236.7 L337.9,238.0 L339.2,238.7 L340.4,239.2 L341.7,239.5 L342.9,239.7 L344.2,239.8 L345.4,239.8 L346.7,239.9 L347.9,239.9 L349.2,239.9 L350.4,239.9 L351.7,239.9 L352.9,239.9 L354.2,239.9 L355.5,239.9 L356.7,239.9 L358.0,239.9" stroke="#8a8a8a" stroke-width="0.5" fill="none" stroke-opacity="0.5"/>
<path d="M307.8,239.9 L309.1,239.9 L310.3,239.9 L311.6,239.9 L312.8,239.7 L314.1,238.6 L315.3,234.5 L316.6,227.5 L317.8,213.8 L319.1,199.2 L320.4,181.5 L321.6,182.3 L322.9,180.0 L324.1,197.2 L325.4,206.0 L326.6,214.2 L327.9,222.2 L329.1,230.1 L330.4,234.5 L331.6,237.0 L332.9,238.2 L334.1,239.0 L335.4,239.4 L336.7,239.7 L337.9,239.8 L339.2,239.8 L340.4,239.9 L341.7,239.9 L342.9,239.9 L344.2,239.9 L345.4,239.9 L346.7,239.9 L347.9,239.9 L349.2,239.9 L350.4,239.9 L351.7,239.9 L352.9,239.9 L354.2,239.9 L355.5,239.9 L356.7,239.9 L358.0,239.9" stroke="#8a8a8a" stroke-width="0.5" fill="none" stroke-opacity="0.5"/>
<path d="M307.8,239.9 L309.1,239.9 L310.3,239.8 L311.6,239.0 L312.8,235.8 L314.1,230.2 L315.3,219.6 L316.6,203.0 L317.8,192.7 L319.1,184.0 L320.4,189.4 L321.6,196.5 L322.9,202.1 L324.1,206.8 L325.4,218.5 L326.6,224.8 L327.9,229.6 L329.1,233.3 L330.4,235.8 L331.6,237.1 L332.9,238.4 L334.1,239.0 L335.4,239.4 L336.7,239.6 L337.9,239.7 L339.2,239.8 L340.4,239.9 L341.7,239.9 L342.9,239.9 L344.2,239.9 L345.4,239.9 L346.7,239.9 L347.9,239.9 L349.2,239.9 L350.4,239.9 L351.7,239.9 L352.9,239.9 L354.2,239.9 L355.5,239.9 L356.7,239.9 L358.0,239.9" stroke="#8a8a8a" stroke-width="0.5" fill="none" stroke-opacity="0.5"/>
<path d="M307.8,239.9 L309.1,239.9 L310.3,239.9 L311.6,239.9 L312.8,239.9 L314.1,239.6 L315.3,238.1 L316.6,233.1 L317.8,216.7 L319.1,195.6 L320.4,173.7 L321.6,172.5 L322.9,167.8 L324.1,182.0 L325.4,205.6 L326.6,215.6 L327.9,226.0 L329.1,233.0 L330.4,236.7 L331.6,238.5 L332.9,239.3 L334.1,239.7 L335.4,239.8 L336.7,239.9 L337.9,239.9 L339.2,239.9 L340.4,239.9 L341.7,239.9 L342.9,239.9 L344.2,239.9 L345.4,239.9 L346.7,239.9 L347.9,239.9 L349.2,239.9 L350.4,239.9 L351.7,239.9 L352.9,239.9 L354.2,239.9 L355.5,239.9 L356.7,239.9 L358.0,239.9" stroke="#8a8a8a" stroke-width="0.5" fill="none" stroke-opacity="0.5"/>
<path d="M307.8,239.9 L309.1,239.9 L310.3,239.9 L311.6,239.9 L312.8,239.8 L314.1,239.3 L315.3,236.8 L316.6,227.9 L317.8,213.9 L319.1,189.6 L320.4,184.6 L321.6,166.6 L322.9,176.7 L324.1,188.0 L325.4,204.4 L326.6,217.9 L327.9,228.3 L329.1,234.6 L330.4,236.8 L331.6,238.5 L332.9,239.3 L334.1,239.6 L335.4,239.8 L336.7,239.9 L337.9,239.9 L339.2,239.9 L340.4,239.9 L341.7,239.9 L342.9,239.9 L344.2,239.9 L345.4,239.9 L346.7,239.9 L347.9,239.9 L349.2,239.9 L350.4,239.9 L351.7,239.9 L352.9,239.9 L354.2,239.9 L355.5,239.9 L356.7,239.9 L358.0,239.9" stroke="#8a8a8a" stroke-width="0.5" fill="none" stroke-opacity="0.5"/>
<path d="M307.8,239.9 L309.1,239.9 L310.3,239.9 L311.6,239.9 L312.8,239.9 L314.1,239.9 L315.3,239.9 L316.6,239.7 L317.8,238.7 L319.1,235.9 L320.4,228.2 L321.6,217.0 L322.9,203.7 L324.1,185.0 L325.4,181.7 L326.6,185.8 L327.9,193.4 L329.1,197.3 L330.4,211.7 L331.6,219.7 L332.9,228.5 L334.1,233.5 L335.4,236.0 L336.7,237.7 L337.9,238.9 L339.2,239.4 L340.4,239.7 L341.7,239.8 L342.9,239.9 L344.2,239.9 L345.4,239.9 L346.7,239.9 L347.9,239.9 L349.2,239.9 L350.4,239.9 L351.7,239.9 L352.9,239.9 L354.2,239.9 L355.5,239.9 L356.7,239.9 L358.0,239.9" stroke="#8a8a8a" stroke-width="0.5" fill="none" stroke-opacity="0.5"/>
<path d="M307.8,239.9 L309.1,239.9 L310.3,239.9 L311.6,239.9 L312.8,239.8 L314.1,239.5 L315.3,238.5 L316.6,236.2 L317.8,232.1 L319.1,228.7 L320.4,219.9 L321.6,211.2 L322.9,211.0 L324.1,205.3 L325.4,203.6 L326.6,201.6 L327.9,205.0 L329.1,208.3 L330.4,210.7 L331.6,219.9 L332.9,223.6 L334.1,226.9 L335.4,229.9 L336.7,232.6 L337.9,233.2 L339.2,235.2 L340.4,237.1 L341.7,237.7 L342.9,238.4 L344.2,238.9 L345.4,239.2 L346.7,239.4 L347.9,239.6 L349.2,239.7 L350.4,239.8 L351.7,239.8 L352.9,239.8 L354.2,239.9 L355.5,239.9 L356.7,239.9 L358.0,239.9" stroke="#8a8a8a" stroke-width="0.5" fill="none" stroke-opacity="0.5"/>
<path d="M307.8,239.9 L309.1,239.9 L310.3,239.9 L311.6,239.9 L312.8,239.9 L314.1,239.9 L315.3,239.9 L316.6,239.9 L317.8,239.6 L319.1,238.8 L320.4,236.9 L321.6,232.6 L322.9,224.7 L324.1,215.4 L325.4,207.2 L326.6,201.0 L327.9,195.2 L329.1,197.1 L330.4,195.8 L331.6,200.5 L332.9,210.5 L334.1,219.2 L335.4,224.6 L336.7,228.8 L337.9,232.1 L339.2,234.7 L340.4,237.0 L341.7,238.1 L342.9,238.8 L344.2,239.3 L345.4,239.6 L346.7,239.7 L347.9,239.8 L349.2,239.8 L350.4,239.9 L351.7,239.9 L352.9,239.9 L354.2,239.9 L355.5,239.9 L356.7,239.9 L358.0,239.9" stroke="#8a8a8a" stroke-width="0.5" fill="none" stroke-opacity="0.5"/>
<path d="M307.8,239.9 L309.1,239.9 L310.3,239.9 L311.6,239.9 L312.8,239.9 L314.1,239.8 L315.3,239.1 L316.6,237.0 L317.8,231.7 L319.1,221.8 L320.4,211.3 L321.6,197.0 L322.9,190.8 L324.1,190.5 L325.4,189.5 L326.6,194.7 L327.9,209.0 L329.1,214.7 L330.4,222.3 L331.6,226.9 L332.9,231.6 L334.1,235.4 L335.4,236.9 L336.7,238.4 L337.9,239.0 L339.2,239.4 L340.4,239.7 L341.7,239.8 L342.9,239.8 L344.2,239.9 L345.4,239.9 L346.7,239.9 L347.9,239.9 L349.2,239.9 L350.4,239.9 L351.7,239.9 L352.9,239.9 L354.2,239.9 L355.5,239.9 L356.7,239.9 L358.0,239.9" stroke="#8a8a8a" stroke-width="0.5" fill="none" stroke-opacity="0.5"/>
<path d="M307.8,239.9 L309.1,239.7 L310.3,238.2 L311.6,233.0 L312.8,220.3 L314.1,206.2 L315.3,182.8 L316.6,176.0 L317.8,174.0 L319.1,184.5 L320.4,198.5 L321.6,210.2 L322.9,221.2 L324.1,229.6 L325.4,233.1 L326.6,236.6 L327.9,238.0 L329.1,238.8 L330.4,239.3 L331.6,239.6 L332.9,239.8 L334.1,239.8 L335.4,239.9 L336.7,239.9 L337.9,239.9 L339.2,239.9 L340.4,239.9 L341.7,239.9 L342.9,239.9 L344.2,239.9 L345.4,239.9 L346.7,239.9 L347.9,239.9 L349.2,239.9 L350.4,239.9 L351.7,239.9 L352.9,239.9 L354.2,239.9 L355.5,239.9 L356.7,239.9 L358.0,239.9" stroke="#8a8a8a" stroke-width="0.5" fill="none" stroke-opacity="0.5"/>
<path d="M307.8,239.9 L309.1,239.9 L310.3,239.9 L311.6,239.9 L312.8,239.9 L314.1,239.8 L315.3,239.2 L316.6,236.6 L317.8,226.1 L319.1,212.6 L320.4,195.3 L321.6,168.6 L322.9,176.9 L324.1,174.4 L325.4,192.8 L326.6,208.0 L327.9,220.9 L329.1,230.7 L330.4,235.2 L331.6,238.2 L332.9,239.1 L334.1,239.6 L335.4,239.8 L336.7,239.9 L337.9,239.9 L339.2,239.9 L340.4,239.9 L341.7,239.9 L342.9,239.9 L344.2,239.9 L345.4,239.9 L346.7,239.9 L347.9,239.9 L349.2,239.9 L350.4,239.9 L351.7,239.9 L352.9,239.9 L354.2,239.9 L355.5,239.9 L356.7,239.9 L358.0,239.9" stroke="#8a8a8a" stroke-width="0.5" fill="none" stroke-opacity="0.5"/>
<path d="M307.8,239.9 L309.1,239.9 L310.3,239.9 L311.6,239.6 L312.8,238.6 L314.1,235.3 L315.3,228.1 L316.6,220.5 L317.8,204.8 L319.1,192.1 L320.4,195.8 L321.6,191.9 L322.9,192.9 L324.1,197.3 L325.4,210.3 L326.6,218.0 L327.9,223.9 L329.1,227.9 L330.4,231.7 L331.6,235.0 L332.9,236.9 L334.1,238.0 L335.4,238.8 L336.7,239.2 L337.9,239.5 L339.2,239.7 L340.4,239.8 L341.7,239.8 L342.9,239.9 L344.2,239.9 L345.4,239.9 L346.7,239.9 L347.9,239.9 L349.2,239.9 L350.4,239.9 L351.7,239.9 L352.9,239.9 L354.2,239.9 L355.5,239.9 L356.7,239.9 L358.0,239.9" stroke="#8a8a8a" stroke-width="0.5" fill="none" stroke-opacity="0.5"/>
<path d="M307.8,239.9 L309.1,239.9 L310.3,239.9 L311.6,239.9 L312.8,239.7 L314.1,238.2 L315.3,231.1 L316.6,210.4 L317.8,189.1 L319.1,164.0 L320.4,171.6 L321.6,176.1 L322.9,196.3 L324.1,215.4 L325.4,228.1 L326.6,234.7 L327.9,237.7 L329.1,239.1 L330.4,239.6 L331.6,239.8 L332.9,239.9 L334.1,239.9 L335.4,239.9 L336.7,239.9 L337.9,239.9 L339.2,239.9 L340.4,239.9 L341.7,239.9 L342.9,239.9 L344.2,239.9 L345.4,239.9 L346.7,239.9 L347.9,239.9 L349.2,239.9 L350.4,239.9 L351.7,239.9 L352.9,239.9 L354.2,239.9 L355.5,239.9 L356.7,239.9 L358.0,239.9" stroke="#8a8a8a" stroke-width="0.5" fill="none" stroke-opacity="0.5"/>
<path d="M307.8,239.9 L309.1,239.9 L310.3,239.9 L311.6,239.9 L312.8,239.8 L314.1,239.5 L315.3,238.6 L316.6,236.8 L317.8,233.5 L319.1,226.6 L320.4,218.6 L321.6,213.4 L322.9,207.7 L324.1,201.0 L325.4,204.0 L326.6,203.6 L327.9,206.6 L329.1,207.2 L330.4,213.6 L331.6,218.7 L332.9,220.9 L334.1,224.2 L335.4,229.7 L336.7,231.5 L337.9,234.2 L339.2,235.3 L340.4,236.9 L341.7,237.9 L342.9,238.5 L344.2,238.9 L345.4,239.2 L346.7,239.5 L347.9,239.6 L349.2,239.7 L350.4,239.8 L351.7,239.8 L352.9,239.8 L354.2,239.9 L355.5,239.9 L356.7,239.9 L358.0,239.9" stroke="#8a8a8a" stroke-width="0.5" fill="none" stroke-opacity="0.5"/>
<path d="M307.8,239.9 L309.1,239.9 L310.3,239.9 L311.6,239.9 L312.8,239.8 L314.1,239.1 L315.3,236.9 L316.6,231.7 L317.8,221.4 L319.1,209.0 L320.4,192.0 L321.6,191.4 L322.9,178.8 L324.1,189.9 L325.4,197.0 L326.6,208.0 L327.9,215.1 L329.1,223.3 L330.4,229.9 L331.6,233.9 L332.9,236.2 L334.1,237.7 L335.4,238.8 L336.7,239.3 L337.9,239.6 L339.2,239.7 L340.4,239.8 L341.7,239.9 L342.9,239.9 L344.2,239.9 L345.4,239.9 L346.7,239.9 L347.9,239.9 L349.2,239.9 L350.4,239.9 L351.7,239.9 L352.9,239.9 L354.2,239.9 L355.5,239.9 L356.7,239.9 L358.0,239.9" stroke="#8a8a8a" stroke-width="0.5" fill="none" stroke-opacity="0.5"/>
<path d="M307.8,239.9 L309.1,239.9 L310.3,239.9 L311.6,239.9 L312.8,239.9 L314.1,239.6 L315.3,238.4 L316.6,234.5 L317.8,225.5 L319.1,215.1 L320.4,203.7 L321.6,193.1 L322.9,181.6 L324.1,183.6 L325.4,187.6 L326.6,199.2 L327.9,214.1 L329.1,222.5 L330.4,228.5 L331.6,233.0 L332.9,235.3 L334.1,237.2 L335.4,238.6 L336.7,239.2 L337.9,239.5 L339.2,239.7 L340.4,239.8 L341.7,239.9 L342.9,239.9 L344.2,239.9 L345.4,239.9 L346.7,239.9 L347.9,239.9 L349.2,239.9 L350.4,239.9 L351.7,239.9 L352.9,239.9 L354.2,239.9 L355.5,239.9 L356.7,239.9 L358.0,239.9" stroke="#8a8a8a" stroke-width="0.5" fill="none" stroke-opacity="0.5"/>
<path d="M307.8,239.9 L309.1,239.9 L310.3,239.9 L311.6,239.9 L312.8,239.8 L314.1,239.3 L315.3,238.1 L316.6,235.2 L317.8,229.6 L319.1,225.0 L320.4,218.0 L321.6,205.6 L322.9,204.4 L324.1,200.8 L325.4,198.4 L326.6,199.8 L327.9,209.5 L329.1,211.6 L330.4,216.1 L331.6,220.8 L332.9,226.2 L334.1,228.7 L335.4,231.0 L336.7,234.3 L337.9,235.8 L339.2,237.4 L340.4,238.0 L341.7,238.6 L342.9,239.1 L344.2,239.3 L345.4,239.5 L346.7,239.7 L347.9,239.8 L349.2,239.8 L350.4,239.8 L351.7,239.9 L352.9,239.9 L354.2,239.9 L355.5,239.9 L356.7,239.9 L358.0,239.9" stroke="#8a8a8a" stroke-width="0.5" fill="none" stroke-opacity="0.5"/>
<path d="M307.8,239.9 L309.1,239.9 L310.3,239.9 L311.6,239.9 L312.8,239.6 L314.1,237.8 L315.3,232.4 L316.6,215.8 L317.8,194.2 L319.1,186.1 L320.4,165.0 L321.6,178.0 L322.9,185.2 L324.1,201.4 L325.4,218.2 L326.6,226.2 L327.9,232.7 L329.1,236.2 L330.4,238.3 L331.6,239.2 L332.9,239.6 L334.1,239.8 L335.4,239.9 L336.7,239.9 L337.9,239.9 L339.2,239.9 L340.4,239.9 L341.7,239.9 L342.9,239.9 L344.2,239.9 L345.4,239.9 L346.7,239.9 L347.9,239.9 L349.2,239.9 L350.4,239.9 L351.7,239.9 L352.9,239.9 L354.2,239.9 L355.5,239.9 L356.7,239.9 L358.0,239.9" stroke="#8a8a8a" stroke-width="0.5" fill="none" stroke-opacity="0.5"/>
<path d="M307.8,239.9 L309.1,239.9 L310.3,239.8 L311.6,239.5 L312.8,238.3 L314.1,235.0 L315.3,229.3 L316.6,222.8 L317.8,211.6 L319.1,204.2 L320.4,194.8 L321.6,193.0 L322.9,195.6 L324.1,203.5 L325.4,205.1 L326.6,211.8 L327.9,220.3 L329.1,222.5 L330.4,227.9 L331.6,232.4 L332.9,233.6 L334.1,236.4 L335.4,237.4 L336.7,238.2 L337.9,238.8 L339.2,239.2 L340.4,239.5 L341.7,239.6 L342.9,239.7 L344.2,239.8 L345.4,239.8 L346.7,239.9 L347.9,239.9 L349.2,239.9 L350.4,239.9 L351.7,239.9 L352.9,239.9 L354.2,239.9 L355.5,239.9 L356.7,239.9 L358.0,239.9" stroke="#8a8a8a" stroke-width="0.5" fill="none" stroke-opacity="0.5"/>
<path d="M307.8,239.9 L309.1,239.9 L310.3,239.9 L311.6,239.9 L312.8,239.9 L314.1,239.9 L315.3,239.8 L316.6,239.6 L317.8,238.8 L319.1,237.2 L320.4,234.2 L321.6,229.5 L322.9,224.2 L324.1,218.6 L325.4,213.6 L326.6,209.9 L327.9,201.5 L329.1,200.2 L330.4,203.2 L331.6,204.4 L332.9,211.2 L334.1,216.0 L335.4,219.6 L336.7,221.7 L337.9,228.3 L339.2,230.0 L340.4,233.0 L341.7,234.2 L342.9,236.2 L344.2,237.3 L345.4,238.0 L346.7,238.6 L347.9,239.0 L349.2,239.3 L350.4,239.5 L351.7,239.6 L352.9,239.7 L354.2,239.8 L355.5,239.8 L356.7,239.9 L358.0,239.9" stroke="#8a8a8a" stroke-width="0.5" fill="none" stroke-opacity="0.5"/>
<path d="M307.8,239.9 L309.1,239.8 L310.3,238.7 L311.6,231.1 L312.8,214.8 L314.1,187.6 L315.3,173.1 L316.6,174.6 L317.8,181.3 L319.1,203.6 L320.4,222.8 L321.6,231.8 L322.9,236.3 L324.1,238.4 L325.4,239.4 L326.6,239.7 L327.9,239.8 L329.1,239.9 L330.4,239.9 L331.6,239.9 L332.9,239.9 L334.1,239.9 L335.4,239.9 L336.7,239.9 L337.9,239.9 L339.2,239.9 L340.4,239.9 L341.7,239.9 L342.9,239.9 L344.2,239.9 L345.4,239.9 L346.7,239.9 L347.9,239.9 L349.2,239.9 L350.4,239.9 L351.7,239.9 L352.9,239.9 L354.2,239.9 L355.5,239.9 L356.7,239.9 L358.0,239.9" stroke="#8a8a8a" stroke-width="0.5" fill="none" stroke-opacity="0.5"/>
<path d="M307.8,239.9 L309.1,239.9 L310.3,239.9 L311.6,239.5 L312.8,237.9 L314.1,233.3 L315.3,225.0 L316.6,215.7 L317.8,202.0 L319.1,195.1 L320.4,187.2 L321.6,188.4 L322.9,198.5 L324.1,205.8 L325.4,210.4 L326.6,222.3 L327.9,225.3 L329.1,230.1 L330.4,233.6 L331.6,236.5 L332.9,237.8 L334.1,238.7 L335.4,239.2 L336.7,239.5 L337.9,239.7 L339.2,239.8 L340.4,239.8 L341.7,239.9 L342.9,239.9 L344.2,239.9 L345.4,239.9 L346.7,239.9 L347.9,239.9 L349.2,239.9 L350.4,239.9 L351.7,239.9 L352.9,239.9 L354.2,239.9 L355.5,239.9 L356.7,239.9 L358.0,239.9" stroke="#8a8a8a" stroke-width="0.5" fill="none" stroke-opacity="0.5"/>
<path d="M300.8,239.9 L301.3,239.9 L301.8,239.9 L302.2,239.9 L302.7,239.9 L303.2,239.9 L303.7,239.9 L304.2,239.9 L304.6,239.9 L305.1,239.9 L305.6,239.9 L306.1,239.9 L306.6,239.9 L307.0,239.9 L307.5,239.9 L308.0,239.9 L308.5,239.9 L309.0,239.9 L309.4,239.9 L309.9,239.9 L310.4,239.9 L310.9,239.8 L311.3,239.7 L311.8,239.6 L312.3,239.3 L312.8,238.9 L313.3,238.4 L313.7,237.6 L314.2,236.6 L314.7,235.3 L315.2,233.7 L315.7,231.9 L316.1,229.8 L316.6,227.4 L317.1,224.9 L317.6,222.2 L318.1,219.5 L318.5,216.8 L319.0,214.2 L319.5,211.7 L320.0,209.5 L320.5,207.6 L320.9,205.9 L321.4,204.7 L321.9,203.8 L322.4,203.2 L322.9,203.0 L323.3,203.2 L323.8,203.7 L324.3,204.5 L324.8,205.5 L325.3,206.7 L325.7,208.1 L326.2,209.7 L326.7,211.3 L327.2,213.0 L327.7,214.8 L328.1,216.5 L328.6,218.2 L329.1,219.9 L329.6,221.6 L330.0,223.2 L330.5,224.7 L331.0,226.1 L331.5,227.4 L332.0,228.7 L332.4,229.8 L332.9,230.9 L333.4,231.8 L333.9,232.7 L334.4,233.5 L334.8,234.2 L335.3,234.9 L335.8,235.5 L336.3,236.0 L336.8,236.5 L337.2,236.9 L337.7,237.3 L338.2,237.6 L338.7,237.9 L339.2,238.2 L339.6,238.4 L340.1,238.6 L340.6,238.8 L341.1,238.9 L341.6,239.0 L342.0,239.2 L342.5,239.3 L343.0,239.3 L343.5,239.4 L344.0,239.5 L344.4,239.5 L344.9,239.6 L345.4,239.6 L345.9,239.7 L346.4,239.7 L346.8,239.7 L347.3,239.8 L347.8,239.8 L348.3,239.8 L348.7,239.8 L349.2,239.8 L349.7,239.8 L350.2,239.8 L350.7,239.9 L351.1,239.9 L351.6,239.9 L352.1,239.9 L352.6,239.9 L353.1,239.9 L353.5,239.9 L354.0,239.9 L354.5,239.9 L355.0,239.9 L355.5,239.9 L355.9,239.9 L356.4,239.9 L356.9,239.9 L357.4,239.9 L357.9,239.9 L358.3,239.9 L358.8,239.9 L359.3,239.9 L359.8,239.9 L360.3,239.9 L360.7,239.9 L361.2,239.9 L361.7,239.9 L362.2,239.9 L362.7,239.9 L363.1,239.9 L363.6,239.9 L364.1,239.9 L364.6,239.9 L365.0,239.9 L365.5,239.9 L366.0,239.9 L366.5,239.9 L367.0,239.9 L367.4,239.9 L367.9,239.9 L368.4,239.9 L368.9,239.9 L369.4,239.9 L369.8,239.9 L370.3,239.9 L370.8,239.9 L371.3,239.9 L371.8,239.9 L372.2,239.9 L372.7,239.9 L373.2,239.9 L373.7,239.9 L374.2,239.9 L374.6,239.9 L375.1,239.9 L375.6,239.9 L376.1,239.9 L376.6,239.9 L377.0,239.9 L377.5,239.9" stroke="#c43d66" stroke-width="1.5" fill="none"/>
<line x1="300.50" y1="161.80" x2="300.50" y2="239.90" stroke="#231f20" stroke-width="1.0"/>
<line x1="300.30" y1="239.50" x2="378.10" y2="239.50" stroke="#231f20" stroke-width="1.0"/>
<line x1="297.30" y1="164.50" x2="300.30" y2="164.50" stroke="#231f20" stroke-width="0.8"/>
<text x="294.10" y="166.80" font-size="8.3" text-anchor="end" stroke="#2b2a2a" stroke-width="0.15">0.4</text>
<line x1="297.30" y1="183.50" x2="300.30" y2="183.50" stroke="#231f20" stroke-width="0.8"/>
<text x="294.10" y="185.70" font-size="8.3" text-anchor="end" stroke="#2b2a2a" stroke-width="0.15">0.3</text>
<line x1="297.30" y1="202.50" x2="300.30" y2="202.50" stroke="#231f20" stroke-width="0.8"/>
<text x="294.10" y="204.60" font-size="8.3" text-anchor="end" stroke="#2b2a2a" stroke-width="0.15">0.2</text>
<line x1="297.30" y1="221.50" x2="300.30" y2="221.50" stroke="#231f20" stroke-width="0.8"/>
<text x="294.10" y="223.50" font-size="8.3" text-anchor="end" stroke="#2b2a2a" stroke-width="0.15">0.1</text>
<line x1="297.30" y1="239.50" x2="300.30" y2="239.50" stroke="#231f20" stroke-width="0.8"/>
<text x="294.10" y="242.40" font-size="8.3" text-anchor="end" stroke="#2b2a2a" stroke-width="0.15">0</text>
<line x1="300.50" y1="239.90" x2="300.50" y2="242.90" stroke="#231f20" stroke-width="0.8"/>
<text x="300.30" y="252.80" font-size="7.5" text-anchor="middle" stroke="#2b2a2a" stroke-width="0.15">0</text>
<line x1="325.50" y1="239.90" x2="325.50" y2="242.90" stroke="#231f20" stroke-width="0.8"/>
<text x="325.37" y="252.80" font-size="7.5" text-anchor="middle" stroke="#2b2a2a" stroke-width="0.15">1</text>
<line x1="350.50" y1="239.90" x2="350.50" y2="242.90" stroke="#231f20" stroke-width="0.8"/>
<text x="350.44" y="252.80" font-size="7.5" text-anchor="middle" stroke="#2b2a2a" stroke-width="0.15">2</text>
<line x1="375.50" y1="239.90" x2="375.50" y2="242.90" stroke="#231f20" stroke-width="0.8"/>
<text x="375.51" y="252.80" font-size="7.5" text-anchor="middle" stroke="#2b2a2a" stroke-width="0.15">3</text>
<text x="311.00" y="266.80" font-size="9.4" stroke="#2b2a2a" stroke-width="0.15" textLength="57.00" lengthAdjust="spacingAndGlyphs">Time constant (s)</text>
<text x="277.72" y="200.30" font-size="9.3" text-anchor="middle" stroke="#2b2a2a" stroke-width="0.15" textLength="36.00" lengthAdjust="spacingAndGlyphs" transform="rotate(-90 277.72 200.30)">Frequency</text>
<text x="425.80" y="155.00" font-size="10" stroke="#2b2a2a" stroke-width="0.15" textLength="77.20" lengthAdjust="spacingAndGlyphs">Reference bloods</text>
<rect x="459.50" y="198.50" width="10.00" height="20.00" stroke="#c43d66" stroke-width="1.0" fill="none"/>
<line x1="459.30" y1="209.50" x2="469.50" y2="209.50" stroke="#c43d66" stroke-width="1.0"/>
<line x1="464.50" y1="198.25" x2="464.50" y2="175.75" stroke="#c43d66" stroke-width="1.0" stroke-dasharray="3.4,2.2"/>
<line x1="464.50" y1="218.00" x2="464.50" y2="228.00" stroke="#c43d66" stroke-width="1.0" stroke-dasharray="3.4,2.2"/>
<line x1="462.20" y1="175.50" x2="466.60" y2="175.50" stroke="#c43d66" stroke-width="1.0"/>
<line x1="462.20" y1="228.50" x2="466.60" y2="228.50" stroke="#c43d66" stroke-width="1.0"/>
<circle cx="438.00" cy="203.00" r="1.35" fill="#111"/>
<circle cx="440.75" cy="200.50" r="1.35" fill="#111"/>
<circle cx="440.50" cy="209.50" r="1.35" fill="#111"/>
<circle cx="443.25" cy="209.50" r="1.35" fill="#111"/>
<circle cx="441.25" cy="218.00" r="1.35" fill="#111"/>
<circle cx="446.25" cy="219.50" r="1.35" fill="#111"/>
<circle cx="446.25" cy="193.00" r="1.35" fill="#111"/>
<circle cx="448.00" cy="203.75" r="1.35" fill="#111"/>
<circle cx="452.50" cy="186.25" r="1.35" fill="#111"/>
<circle cx="453.25" cy="200.50" r="1.35" fill="#111"/>
<circle cx="453.75" cy="208.75" r="1.35" fill="#111"/>
<circle cx="455.50" cy="207.50" r="1.35" fill="#111"/>
<circle cx="454.25" cy="220.50" r="1.35" fill="#111"/>
<circle cx="455.50" cy="228.75" r="1.35" fill="#111"/>
<circle cx="457.50" cy="219.50" r="1.35" fill="#111"/>
<circle cx="462.50" cy="201.25" r="1.35" fill="#111"/>
<circle cx="463.75" cy="188.75" r="1.35" fill="#111"/>
<circle cx="465.50" cy="188.00" r="1.35" fill="#111"/>
<circle cx="466.25" cy="202.00" r="1.35" fill="#111"/>
<circle cx="464.50" cy="217.50" r="1.35" fill="#111"/>
<circle cx="470.00" cy="191.25" r="1.35" fill="#111"/>
<circle cx="471.25" cy="184.50" r="1.35" fill="#111"/>
<circle cx="472.50" cy="195.50" r="1.35" fill="#111"/>
<circle cx="474.00" cy="202.50" r="1.35" fill="#111"/>
<circle cx="470.50" cy="219.50" r="1.35" fill="#111"/>
<circle cx="475.50" cy="217.50" r="1.35" fill="#111"/>
<circle cx="480.50" cy="222.00" r="1.35" fill="#111"/>
<circle cx="488.75" cy="209.50" r="1.35" fill="#111"/>
<circle cx="490.00" cy="210.50" r="1.35" fill="#111"/>
<circle cx="491.25" cy="217.50" r="1.35" fill="#111"/>
<circle cx="493.25" cy="214.25" r="1.35" fill="#111"/>
<circle cx="466.25" cy="175.75" r="1.35" fill="#111"/>
<rect x="429.50" y="164.50" width="69.00" height="85.00" stroke="#231f20" stroke-width="1.0" fill="none"/>
<line x1="426.90" y1="164.50" x2="429.90" y2="164.50" stroke="#231f20" stroke-width="0.8"/>
<text x="423.70" y="166.90" font-size="8.3" text-anchor="end" stroke="#2b2a2a" stroke-width="0.15">1.5</text>
<line x1="426.90" y1="207.50" x2="429.90" y2="207.50" stroke="#231f20" stroke-width="0.8"/>
<text x="423.70" y="209.65" font-size="8.3" text-anchor="end" stroke="#2b2a2a" stroke-width="0.15">1</text>
<line x1="426.90" y1="249.50" x2="429.90" y2="249.50" stroke="#231f20" stroke-width="0.8"/>
<text x="423.70" y="252.40" font-size="8.3" text-anchor="end" stroke="#2b2a2a" stroke-width="0.15">0.5</text>
<text x="406.42" y="206.65" font-size="9.3" text-anchor="middle" stroke="#2b2a2a" stroke-width="0.15" textLength="59.30" lengthAdjust="spacingAndGlyphs" transform="rotate(-90 406.42 206.65)">Time constant (s)</text>
<text x="34.30" y="286.40" font-size="10" stroke="#2b2a2a" stroke-width="0.15" textLength="76.70" lengthAdjust="spacingAndGlyphs">Reference bloods</text>
<rect x="67.50" y="329.50" width="10.00" height="22.00" stroke="#c43d66" stroke-width="1.0" fill="none"/>
<line x1="67.50" y1="337.50" x2="77.50" y2="337.50" stroke="#c43d66" stroke-width="1.0"/>
<line x1="72.50" y1="329.50" x2="72.50" y2="305.00" stroke="#c43d66" stroke-width="1.0" stroke-dasharray="3.4,2.2"/>
<line x1="72.50" y1="351.25" x2="72.50" y2="370.00" stroke="#c43d66" stroke-width="1.0" stroke-dasharray="3.4,2.2"/>
<line x1="70.30" y1="305.50" x2="74.70" y2="305.50" stroke="#c43d66" stroke-width="1.0"/>
<line x1="70.30" y1="370.50" x2="74.70" y2="370.50" stroke="#c43d66" stroke-width="1.0"/>
<circle cx="49.25" cy="349.25" r="1.35" fill="#111"/>
<circle cx="50.00" cy="336.50" r="1.35" fill="#111"/>
<circle cx="53.00" cy="356.50" r="1.35" fill="#111"/>
<circle cx="53.75" cy="336.50" r="1.35" fill="#111"/>
<circle cx="57.50" cy="349.50" r="1.35" fill="#111"/>
<circle cx="58.25" cy="323.00" r="1.35" fill="#111"/>
<circle cx="59.25" cy="360.00" r="1.35" fill="#111"/>
<circle cx="60.75" cy="337.00" r="1.35" fill="#111"/>
<circle cx="60.75" cy="343.50" r="1.35" fill="#111"/>
<circle cx="62.00" cy="339.50" r="1.35" fill="#111"/>
<circle cx="63.75" cy="319.25" r="1.35" fill="#111"/>
<circle cx="64.25" cy="348.00" r="1.35" fill="#111"/>
<circle cx="65.00" cy="312.00" r="1.35" fill="#111"/>
<circle cx="67.00" cy="335.50" r="1.35" fill="#111"/>
<circle cx="67.00" cy="370.50" r="1.35" fill="#111"/>
<circle cx="72.50" cy="332.00" r="1.35" fill="#111"/>
<circle cx="72.50" cy="345.50" r="1.35" fill="#111"/>
<circle cx="73.25" cy="364.50" r="1.35" fill="#111"/>
<circle cx="73.75" cy="310.50" r="1.35" fill="#111"/>
<circle cx="75.00" cy="310.50" r="1.35" fill="#111"/>
<circle cx="77.00" cy="305.00" r="1.35" fill="#111"/>
<circle cx="78.75" cy="329.25" r="1.35" fill="#111"/>
<circle cx="79.50" cy="355.50" r="1.35" fill="#111"/>
<circle cx="81.75" cy="352.00" r="1.35" fill="#111"/>
<circle cx="82.50" cy="331.25" r="1.35" fill="#111"/>
<circle cx="83.25" cy="337.50" r="1.35" fill="#111"/>
<circle cx="83.00" cy="346.25" r="1.35" fill="#111"/>
<circle cx="88.25" cy="319.50" r="1.35" fill="#111"/>
<circle cx="89.25" cy="325.75" r="1.35" fill="#111"/>
<circle cx="92.00" cy="352.50" r="1.35" fill="#111"/>
<circle cx="96.25" cy="335.50" r="1.35" fill="#111"/>
<circle cx="97.50" cy="333.75" r="1.35" fill="#111"/>
<circle cx="97.50" cy="351.25" r="1.35" fill="#111"/>
<circle cx="72.50" cy="368.75" r="1.35" fill="#111"/>
<rect x="40.50" y="296.50" width="64.00" height="82.00" stroke="#231f20" stroke-width="1.0" fill="none"/>
<line x1="37.50" y1="296.50" x2="40.50" y2="296.50" stroke="#231f20" stroke-width="0.8"/>
<text x="34.30" y="298.80" font-size="8.3" text-anchor="end" stroke="#2b2a2a" stroke-width="0.15">100</text>
<line x1="37.50" y1="316.50" x2="40.50" y2="316.50" stroke="#231f20" stroke-width="0.8"/>
<text x="34.30" y="319.23" font-size="8.3" text-anchor="end" stroke="#2b2a2a" stroke-width="0.15">95</text>
<line x1="37.50" y1="337.50" x2="40.50" y2="337.50" stroke="#231f20" stroke-width="0.8"/>
<text x="34.30" y="339.65" font-size="8.3" text-anchor="end" stroke="#2b2a2a" stroke-width="0.15">90</text>
<line x1="37.50" y1="357.50" x2="40.50" y2="357.50" stroke="#231f20" stroke-width="0.8"/>
<text x="34.30" y="360.07" font-size="8.3" text-anchor="end" stroke="#2b2a2a" stroke-width="0.15">85</text>
<line x1="37.50" y1="378.50" x2="40.50" y2="378.50" stroke="#231f20" stroke-width="0.8"/>
<text x="34.30" y="380.50" font-size="8.3" text-anchor="end" stroke="#2b2a2a" stroke-width="0.15">80</text>
<text x="15.17" y="338.12" font-size="9.3" text-anchor="middle" stroke="#2b2a2a" stroke-width="0.15" textLength="26.25" lengthAdjust="spacingAndGlyphs" transform="rotate(-90 15.17 338.12)">MCV (fL)</text>
<text x="163.00" y="286.40" font-size="10" stroke="#2b2a2a" stroke-width="0.15" textLength="76.50" lengthAdjust="spacingAndGlyphs">Reference bloods</text>
<rect x="196.50" y="326.50" width="10.00" height="15.00" stroke="#c43d66" stroke-width="1.0" fill="none"/>
<line x1="196.25" y1="333.50" x2="206.25" y2="333.50" stroke="#c43d66" stroke-width="1.0"/>
<line x1="201.50" y1="326.25" x2="201.50" y2="304.25" stroke="#c43d66" stroke-width="1.0" stroke-dasharray="3.4,2.2"/>
<line x1="201.50" y1="341.25" x2="201.50" y2="357.50" stroke="#c43d66" stroke-width="1.0" stroke-dasharray="3.4,2.2"/>
<line x1="199.05" y1="304.50" x2="203.45" y2="304.50" stroke="#c43d66" stroke-width="1.0"/>
<line x1="199.05" y1="357.50" x2="203.45" y2="357.50" stroke="#c43d66" stroke-width="1.0"/>
<circle cx="178.25" cy="333.00" r="1.35" fill="#111"/>
<circle cx="181.25" cy="333.00" r="1.35" fill="#111"/>
<circle cx="185.50" cy="340.00" r="1.35" fill="#111"/>
<circle cx="185.50" cy="347.50" r="1.35" fill="#111"/>
<circle cx="186.25" cy="327.50" r="1.35" fill="#111"/>
<circle cx="187.00" cy="320.75" r="1.35" fill="#111"/>
<circle cx="191.25" cy="320.75" r="1.35" fill="#111"/>
<circle cx="189.50" cy="350.50" r="1.35" fill="#111"/>
<circle cx="191.25" cy="356.25" r="1.35" fill="#111"/>
<circle cx="192.50" cy="327.50" r="1.35" fill="#111"/>
<circle cx="192.50" cy="340.75" r="1.35" fill="#111"/>
<circle cx="196.25" cy="326.25" r="1.35" fill="#111"/>
<circle cx="197.50" cy="316.75" r="1.35" fill="#111"/>
<circle cx="200.50" cy="328.75" r="1.35" fill="#111"/>
<circle cx="200.50" cy="353.00" r="1.35" fill="#111"/>
<circle cx="201.25" cy="310.00" r="1.35" fill="#111"/>
<circle cx="202.50" cy="341.25" r="1.35" fill="#111"/>
<circle cx="202.00" cy="337.50" r="1.35" fill="#111"/>
<circle cx="204.50" cy="319.50" r="1.35" fill="#111"/>
<circle cx="207.50" cy="335.50" r="1.35" fill="#111"/>
<circle cx="208.00" cy="338.25" r="1.35" fill="#111"/>
<circle cx="207.50" cy="347.00" r="1.35" fill="#111"/>
<circle cx="208.75" cy="350.50" r="1.35" fill="#111"/>
<circle cx="210.00" cy="325.50" r="1.35" fill="#111"/>
<circle cx="210.50" cy="357.50" r="1.35" fill="#111"/>
<circle cx="218.75" cy="333.00" r="1.35" fill="#111"/>
<circle cx="221.25" cy="343.75" r="1.35" fill="#111"/>
<circle cx="223.25" cy="333.75" r="1.35" fill="#111"/>
<circle cx="224.50" cy="328.75" r="1.35" fill="#111"/>
<circle cx="223.75" cy="332.50" r="1.35" fill="#111"/>
<circle cx="228.75" cy="330.00" r="1.35" fill="#111"/>
<rect x="169.50" y="296.50" width="63.00" height="82.00" stroke="#231f20" stroke-width="1.0" fill="none"/>
<line x1="166.50" y1="296.50" x2="169.50" y2="296.50" stroke="#231f20" stroke-width="0.8"/>
<text x="163.30" y="298.90" font-size="8.3" text-anchor="end" stroke="#2b2a2a" stroke-width="0.15">360</text>
<line x1="166.50" y1="323.50" x2="169.50" y2="323.50" stroke="#231f20" stroke-width="0.8"/>
<text x="163.30" y="326.10" font-size="8.3" text-anchor="end" stroke="#2b2a2a" stroke-width="0.15">340</text>
<line x1="166.50" y1="350.50" x2="169.50" y2="350.50" stroke="#231f20" stroke-width="0.8"/>
<text x="163.30" y="353.30" font-size="8.3" text-anchor="end" stroke="#2b2a2a" stroke-width="0.15">320</text>
<line x1="166.50" y1="378.50" x2="169.50" y2="378.50" stroke="#231f20" stroke-width="0.8"/>
<text x="163.30" y="380.50" font-size="8.3" text-anchor="end" stroke="#2b2a2a" stroke-width="0.15">300</text>
<text x="143.92" y="337.50" font-size="9.3" text-anchor="middle" stroke="#2b2a2a" stroke-width="0.15" textLength="40.00" lengthAdjust="spacingAndGlyphs" transform="rotate(-90 143.92 337.50)">MCHC (g/L)</text>
<text x="303.00" y="286.75" font-size="10" stroke="#2b2a2a" stroke-width="0.15" textLength="73.25" lengthAdjust="spacingAndGlyphs">Reference blood</text>
<path d="M319.1,371.4 L320.6,371.4 L322.1,371.4 L323.6,371.4 L325.1,371.3 L326.6,371.1 L328.1,370.4 L329.6,368.2 L331.1,362.8 L332.6,352.2 L334.1,339.2 L335.6,319.4 L337.1,304.8 L338.6,300.1 L340.1,318.2 L341.6,331.7 L343.1,349.0 L344.6,358.7 L346.1,366.3 L347.6,369.8 L349.1,370.9 L350.6,371.3 L352.1,371.4 L353.6,371.4 L355.1,371.4 L356.6,371.4 L358.1,371.4" stroke="#8a8a8a" stroke-width="0.5" fill="none" stroke-opacity="0.45"/>
<path d="M319.1,371.4 L320.6,371.3 L322.1,371.1 L323.6,370.6 L325.1,369.2 L326.6,365.8 L328.1,359.5 L329.6,351.2 L331.1,339.4 L332.6,320.6 L334.1,313.8 L335.6,306.8 L337.1,309.0 L338.6,321.6 L340.1,331.5 L341.6,346.0 L343.1,356.1 L344.6,364.4 L346.1,368.3 L347.6,370.3 L349.1,371.0 L350.6,371.3 L352.1,371.4 L353.6,371.4 L355.1,371.4 L356.6,371.4 L358.1,371.4" stroke="#8a8a8a" stroke-width="0.5" fill="none" stroke-opacity="0.45"/>
<path d="M319.1,371.4 L320.6,371.4 L322.1,371.4 L323.6,371.4 L325.1,371.3 L326.6,371.1 L328.1,370.4 L329.6,368.7 L331.1,363.5 L332.6,354.7 L334.1,342.5 L335.6,329.0 L337.1,321.7 L338.6,319.4 L340.1,324.1 L341.6,337.3 L343.1,346.3 L344.6,358.9 L346.1,365.2 L347.6,369.2 L349.1,370.7 L350.6,371.2 L352.1,371.4 L353.6,371.4 L355.1,371.4 L356.6,371.4 L358.1,371.4" stroke="#8a8a8a" stroke-width="0.5" fill="none" stroke-opacity="0.45"/>
<path d="M319.1,371.4 L320.6,371.4 L322.1,371.4 L323.6,371.3 L325.1,370.9 L326.6,369.9 L328.1,367.9 L329.6,363.2 L331.1,352.9 L332.6,342.3 L334.1,323.5 L335.6,315.5 L337.1,312.0 L338.6,305.3 L340.1,312.4 L341.6,331.1 L343.1,345.8 L344.6,355.9 L346.1,362.6 L347.6,367.7 L349.1,370.1 L350.6,370.9 L352.1,371.3 L353.6,371.4 L355.1,371.4 L356.6,371.4 L358.1,371.4" stroke="#8a8a8a" stroke-width="0.5" fill="none" stroke-opacity="0.45"/>
<path d="M319.1,371.4 L320.6,371.4 L322.1,371.4 L323.6,371.4 L325.1,371.4 L326.6,371.2 L328.1,370.3 L329.6,367.9 L331.1,360.6 L332.6,351.4 L334.1,336.1 L335.6,327.7 L337.1,330.5 L338.6,336.5 L340.1,352.9 L341.6,361.9 L343.1,368.3 L344.6,370.5 L346.1,371.2 L347.6,371.4 L349.1,371.4 L350.6,371.4 L352.1,371.4 L353.6,371.4 L355.1,371.4 L356.6,371.4 L358.1,371.4" stroke="#8a8a8a" stroke-width="0.5" fill="none" stroke-opacity="0.45"/>
<path d="M319.1,371.4 L320.6,371.4 L322.1,371.4 L323.6,371.4 L325.1,371.4 L326.6,371.4 L328.1,371.2 L329.6,370.5 L331.1,367.8 L332.6,361.3 L334.1,351.2 L335.6,332.5 L337.1,326.4 L338.6,323.7 L340.1,330.3 L341.6,347.4 L343.1,361.4 L344.6,367.1 L346.1,370.3 L347.6,371.2 L349.1,371.4 L350.6,371.4 L352.1,371.4 L353.6,371.4 L355.1,371.4 L356.6,371.4 L358.1,371.4" stroke="#8a8a8a" stroke-width="0.5" fill="none" stroke-opacity="0.45"/>
<path d="M319.1,371.4 L320.6,371.4 L322.1,371.4 L323.6,371.4 L325.1,371.4 L326.6,371.2 L328.1,370.4 L329.6,367.9 L331.1,361.2 L332.6,349.3 L334.1,332.2 L335.6,311.5 L337.1,311.2 L338.6,317.0 L340.1,337.3 L341.6,353.7 L343.1,363.6 L344.6,369.2 L346.1,370.9 L347.6,371.3 L349.1,371.4 L350.6,371.4 L352.1,371.4 L353.6,371.4 L355.1,371.4 L356.6,371.4 L358.1,371.4" stroke="#8a8a8a" stroke-width="0.5" fill="none" stroke-opacity="0.45"/>
<path d="M319.1,371.4 L320.6,371.4 L322.1,371.4 L323.6,371.4 L325.1,371.3 L326.6,371.2 L328.1,370.5 L329.6,368.7 L331.1,364.2 L332.6,352.7 L334.1,337.5 L335.6,324.9 L337.1,312.9 L338.6,302.1 L340.1,308.0 L341.6,331.4 L343.1,343.1 L344.6,357.3 L346.1,365.8 L347.6,369.5 L349.1,370.8 L350.6,371.3 L352.1,371.4 L353.6,371.4 L355.1,371.4 L356.6,371.4 L358.1,371.4" stroke="#8a8a8a" stroke-width="0.5" fill="none" stroke-opacity="0.45"/>
<path d="M319.1,371.4 L320.6,371.4 L322.1,371.4 L323.6,371.4 L325.1,371.4 L326.6,371.4 L328.1,371.3 L329.6,370.9 L331.1,369.3 L332.6,364.0 L334.1,355.7 L335.6,339.9 L337.1,331.9 L338.6,326.2 L340.1,338.3 L341.6,353.6 L343.1,364.0 L344.6,368.7 L346.1,370.8 L347.6,371.3 L349.1,371.4 L350.6,371.4 L352.1,371.4 L353.6,371.4 L355.1,371.4 L356.6,371.4 L358.1,371.4" stroke="#8a8a8a" stroke-width="0.5" fill="none" stroke-opacity="0.45"/>
<path d="M319.1,371.4 L320.6,371.4 L322.1,371.4 L323.6,371.4 L325.1,371.3 L326.6,371.0 L328.1,369.7 L329.6,365.3 L331.1,356.1 L332.6,342.5 L334.1,320.2 L335.6,317.4 L337.1,322.7 L338.6,333.9 L340.1,349.5 L341.6,362.6 L343.1,368.3 L344.6,370.5 L346.1,371.2 L347.6,371.4 L349.1,371.4 L350.6,371.4 L352.1,371.4 L353.6,371.4 L355.1,371.4 L356.6,371.4 L358.1,371.4" stroke="#8a8a8a" stroke-width="0.5" fill="none" stroke-opacity="0.45"/>
<path d="M319.1,371.4 L320.6,371.4 L322.1,371.4 L323.6,371.4 L325.1,371.3 L326.6,371.1 L328.1,370.3 L329.6,368.3 L331.1,363.0 L332.6,353.9 L334.1,343.3 L335.6,331.3 L337.1,325.1 L338.6,330.1 L340.1,338.6 L341.6,349.3 L343.1,356.6 L344.6,364.8 L346.1,368.9 L347.6,370.6 L349.1,371.2 L350.6,371.4 L352.1,371.4 L353.6,371.4 L355.1,371.4 L356.6,371.4 L358.1,371.4" stroke="#8a8a8a" stroke-width="0.5" fill="none" stroke-opacity="0.45"/>
<path d="M319.1,371.4 L320.6,371.4 L322.1,371.4 L323.6,371.4 L325.1,371.4 L326.6,371.4 L328.1,371.4 L329.6,371.4 L331.1,371.3 L332.6,371.0 L334.1,369.4 L335.6,363.9 L337.1,350.2 L338.6,333.2 L340.1,309.2 L341.6,317.8 L343.1,326.9 L344.6,346.1 L346.1,361.0 L347.6,368.5 L349.1,370.8 L350.6,371.3 L352.1,371.4 L353.6,371.4 L355.1,371.4 L356.6,371.4 L358.1,371.4" stroke="#8a8a8a" stroke-width="0.5" fill="none" stroke-opacity="0.45"/>
<path d="M319.1,371.4 L320.6,371.4 L322.1,371.4 L323.6,371.4 L325.1,371.3 L326.6,371.2 L328.1,370.7 L329.6,369.2 L331.1,365.8 L332.6,358.1 L334.1,345.1 L335.6,329.0 L337.1,317.3 L338.6,302.0 L340.1,299.5 L341.6,311.9 L343.1,326.3 L344.6,343.8 L346.1,355.6 L347.6,363.9 L349.1,368.7 L350.6,370.4 L352.1,371.1 L353.6,371.3 L355.1,371.4 L356.6,371.4 L358.1,371.4" stroke="#8a8a8a" stroke-width="0.5" fill="none" stroke-opacity="0.45"/>
<path d="M319.1,371.4 L320.6,371.4 L322.1,371.4 L323.6,371.3 L325.1,371.2 L326.6,370.8 L328.1,369.6 L329.6,366.8 L331.1,362.0 L332.6,352.1 L334.1,339.9 L335.6,326.4 L337.1,308.9 L338.6,310.9 L340.1,303.0 L341.6,320.5 L343.1,328.0 L344.6,343.3 L346.1,356.0 L347.6,362.8 L349.1,367.7 L350.6,370.0 L352.1,370.9 L353.6,371.3 L355.1,371.4 L356.6,371.4 L358.1,371.4" stroke="#8a8a8a" stroke-width="0.5" fill="none" stroke-opacity="0.45"/>
<path d="M319.1,371.4 L320.6,371.4 L322.1,371.4 L323.6,371.4 L325.1,371.3 L326.6,371.0 L328.1,370.2 L329.6,368.6 L331.1,364.8 L332.6,357.4 L334.1,349.7 L335.6,339.5 L337.1,323.9 L338.6,320.6 L340.1,324.1 L341.6,327.7 L343.1,342.7 L344.6,351.8 L346.1,361.5 L347.6,366.4 L349.1,369.3 L350.6,370.6 L352.1,371.2 L353.6,371.3 L355.1,371.4 L356.6,371.4 L358.1,371.4" stroke="#8a8a8a" stroke-width="0.5" fill="none" stroke-opacity="0.45"/>
<path d="M319.1,371.4 L320.6,371.4 L322.1,371.4 L323.6,371.4 L325.1,371.3 L326.6,371.2 L328.1,370.7 L329.6,369.3 L331.1,366.3 L332.6,359.9 L334.1,350.8 L335.6,338.9 L337.1,321.4 L338.6,305.3 L340.1,300.0 L341.6,306.4 L343.1,316.2 L344.6,337.3 L346.1,351.0 L347.6,359.9 L349.1,366.3 L350.6,369.2 L352.1,370.6 L353.6,371.2 L355.1,371.3 L356.6,371.4 L358.1,371.4" stroke="#8a8a8a" stroke-width="0.5" fill="none" stroke-opacity="0.45"/>
<path d="M319.1,371.4 L320.6,371.4 L322.1,371.4 L323.6,371.4 L325.1,371.3 L326.6,371.0 L328.1,369.8 L329.6,366.3 L331.1,359.1 L332.6,343.8 L334.1,325.1 L335.6,316.2 L337.1,317.0 L338.6,325.0 L340.1,333.1 L341.6,353.2 L343.1,361.9 L344.6,368.0 L346.1,370.4 L347.6,371.2 L349.1,371.4 L350.6,371.4 L352.1,371.4 L353.6,371.4 L355.1,371.4 L356.6,371.4 L358.1,371.4" stroke="#8a8a8a" stroke-width="0.5" fill="none" stroke-opacity="0.45"/>
<path d="M319.1,371.4 L320.6,371.4 L322.1,371.4 L323.6,371.3 L325.1,371.2 L326.6,370.6 L328.1,369.1 L329.6,366.3 L331.1,360.2 L332.6,353.4 L334.1,339.4 L335.6,334.7 L337.1,331.5 L338.6,334.4 L340.1,337.4 L341.6,348.6 L343.1,357.3 L344.6,364.2 L346.1,368.1 L347.6,370.3 L349.1,371.0 L350.6,371.3 L352.1,371.4 L353.6,371.4 L355.1,371.4 L356.6,371.4 L358.1,371.4" stroke="#8a8a8a" stroke-width="0.5" fill="none" stroke-opacity="0.45"/>
<path d="M319.1,371.4 L320.6,371.4 L322.1,371.4 L323.6,371.4 L325.1,371.4 L326.6,371.4 L328.1,371.3 L329.6,371.0 L331.1,370.2 L332.6,368.0 L334.1,363.8 L335.6,356.8 L337.1,344.4 L338.6,331.0 L340.1,327.8 L341.6,326.2 L343.1,332.0 L344.6,340.8 L346.1,353.3 L347.6,361.9 L349.1,367.1 L350.6,369.9 L352.1,370.9 L353.6,371.3 L355.1,371.4 L356.6,371.4 L358.1,371.4" stroke="#8a8a8a" stroke-width="0.5" fill="none" stroke-opacity="0.45"/>
<path d="M319.1,371.4 L320.6,371.4 L322.1,371.4 L323.6,371.3 L325.1,371.1 L326.6,370.5 L328.1,369.0 L329.6,364.2 L331.1,356.5 L332.6,346.9 L334.1,329.8 L335.6,313.0 L337.1,299.7 L338.6,307.0 L340.1,314.3 L341.6,327.1 L343.1,344.1 L344.6,356.3 L346.1,365.1 L347.6,368.8 L349.1,370.6 L350.6,371.2 L352.1,371.3 L353.6,371.4 L355.1,371.4 L356.6,371.4 L358.1,371.4" stroke="#8a8a8a" stroke-width="0.5" fill="none" stroke-opacity="0.45"/>
<path d="M319.1,371.4 L320.6,371.4 L322.1,371.4 L323.6,371.3 L325.1,370.9 L326.6,369.9 L328.1,367.0 L329.6,360.8 L331.1,352.2 L332.6,333.9 L334.1,316.2 L335.6,303.5 L337.1,306.2 L338.6,310.6 L340.1,329.7 L341.6,341.5 L343.1,355.3 L344.6,364.7 L346.1,368.9 L347.6,370.5 L349.1,371.1 L350.6,371.3 L352.1,371.4 L353.6,371.4 L355.1,371.4 L356.6,371.4 L358.1,371.4" stroke="#8a8a8a" stroke-width="0.5" fill="none" stroke-opacity="0.45"/>
<path d="M319.1,371.4 L320.6,371.4 L322.1,371.4 L323.6,371.4 L325.1,371.3 L326.6,371.1 L328.1,370.4 L329.6,368.3 L331.1,364.0 L332.6,352.3 L334.1,341.5 L335.6,319.3 L337.1,314.3 L338.6,310.6 L340.1,314.7 L341.6,336.3 L343.1,350.9 L344.6,360.7 L346.1,366.9 L347.6,370.0 L349.1,371.0 L350.6,371.3 L352.1,371.4 L353.6,371.4 L355.1,371.4 L356.6,371.4 L358.1,371.4" stroke="#8a8a8a" stroke-width="0.5" fill="none" stroke-opacity="0.45"/>
<path d="M319.1,371.4 L320.6,371.4 L322.1,371.4 L323.6,371.4 L325.1,371.4 L326.6,371.3 L328.1,371.1 L329.6,370.5 L331.1,368.5 L332.6,363.4 L334.1,356.6 L335.6,343.3 L337.1,324.7 L338.6,312.7 L340.1,299.9 L341.6,305.1 L343.1,319.8 L344.6,334.4 L346.1,351.4 L347.6,362.3 L349.1,367.6 L350.6,370.1 L352.1,371.0 L353.6,371.3 L355.1,371.4 L356.6,371.4 L358.1,371.4" stroke="#8a8a8a" stroke-width="0.5" fill="none" stroke-opacity="0.45"/>
<path d="M319.1,371.4 L320.6,371.4 L322.1,371.4 L323.6,371.4 L325.1,371.4 L326.6,371.3 L328.1,371.0 L329.6,370.2 L331.1,368.0 L332.6,363.5 L334.1,357.3 L335.6,347.5 L337.1,339.0 L338.6,327.3 L340.1,323.2 L341.6,324.5 L343.1,337.0 L344.6,341.6 L346.1,354.4 L347.6,362.4 L349.1,366.9 L350.6,369.7 L352.1,370.8 L353.6,371.2 L355.1,371.4 L356.6,371.4 L358.1,371.4" stroke="#8a8a8a" stroke-width="0.5" fill="none" stroke-opacity="0.45"/>
<path d="M319.1,371.4 L320.6,371.4 L322.1,371.4 L323.6,371.4 L325.1,371.4 L326.6,371.3 L328.1,371.0 L329.6,369.9 L331.1,367.2 L332.6,359.9 L334.1,348.3 L335.6,328.3 L337.1,312.4 L338.6,312.8 L340.1,314.9 L341.6,331.5 L343.1,345.0 L344.6,356.9 L346.1,365.3 L347.6,369.5 L349.1,370.9 L350.6,371.3 L352.1,371.4 L353.6,371.4 L355.1,371.4 L356.6,371.4 L358.1,371.4" stroke="#8a8a8a" stroke-width="0.5" fill="none" stroke-opacity="0.45"/>
<path d="M319.1,371.4 L320.6,371.4 L322.1,371.4 L323.6,371.4 L325.1,371.4 L326.6,371.4 L328.1,371.2 L329.6,370.5 L331.1,368.1 L332.6,361.7 L334.1,353.6 L335.6,336.7 L337.1,331.2 L338.6,326.8 L340.1,333.4 L341.6,343.5 L343.1,357.6 L344.6,365.6 L346.1,369.4 L347.6,370.9 L349.1,371.3 L350.6,371.4 L352.1,371.4 L353.6,371.4 L355.1,371.4 L356.6,371.4 L358.1,371.4" stroke="#8a8a8a" stroke-width="0.5" fill="none" stroke-opacity="0.45"/>
<path d="M319.1,371.4 L320.6,371.4 L322.1,371.4 L323.6,371.4 L325.1,371.4 L326.6,371.4 L328.1,371.4 L329.6,371.2 L331.1,370.4 L332.6,367.6 L334.1,358.8 L335.6,344.3 L337.1,325.8 L338.6,309.4 L340.1,313.6 L341.6,330.8 L343.1,349.7 L344.6,362.6 L346.1,369.0 L347.6,370.8 L349.1,371.3 L350.6,371.4 L352.1,371.4 L353.6,371.4 L355.1,371.4 L356.6,371.4 L358.1,371.4" stroke="#8a8a8a" stroke-width="0.5" fill="none" stroke-opacity="0.45"/>
<path d="M319.1,371.4 L320.6,371.4 L322.1,371.4 L323.6,371.3 L325.1,371.1 L326.6,370.3 L328.1,368.2 L329.6,362.7 L331.1,353.8 L332.6,338.6 L334.1,328.2 L335.6,311.6 L337.1,307.9 L338.6,314.7 L340.1,334.1 L341.6,348.4 L343.1,358.0 L344.6,366.3 L346.1,369.4 L347.6,370.8 L349.1,371.2 L350.6,371.4 L352.1,371.4 L353.6,371.4 L355.1,371.4 L356.6,371.4 L358.1,371.4" stroke="#8a8a8a" stroke-width="0.5" fill="none" stroke-opacity="0.45"/>
<path d="M319.1,371.4 L320.6,371.4 L322.1,371.4 L323.6,371.4 L325.1,371.4 L326.6,371.3 L328.1,371.2 L329.6,370.8 L331.1,369.6 L332.6,367.3 L334.1,361.8 L335.6,355.3 L337.1,346.7 L338.6,331.8 L340.1,327.7 L341.6,322.8 L343.1,333.3 L344.6,340.0 L346.1,349.0 L347.6,360.1 L349.1,365.4 L350.6,368.5 L352.1,370.4 L353.6,371.1 L355.1,371.3 L356.6,371.4 L358.1,371.4" stroke="#8a8a8a" stroke-width="0.5" fill="none" stroke-opacity="0.45"/>
<path d="M319.1,371.4 L320.6,371.4 L322.1,371.4 L323.6,371.4 L325.1,371.4 L326.6,371.3 L328.1,371.0 L329.6,370.3 L331.1,368.6 L332.6,364.8 L334.1,359.2 L335.6,349.9 L337.1,342.6 L338.6,335.0 L340.1,329.8 L341.6,330.9 L343.1,332.4 L344.6,342.2 L346.1,352.0 L347.6,361.1 L349.1,366.2 L350.6,369.0 L352.1,370.5 L353.6,371.1 L355.1,371.3 L356.6,371.4 L358.1,371.4" stroke="#8a8a8a" stroke-width="0.5" fill="none" stroke-opacity="0.45"/>
<path d="M300.3,371.4 L300.7,371.4 L301.1,371.4 L301.5,371.4 L301.8,371.4 L302.2,371.4 L302.6,371.4 L303.0,371.4 L303.4,371.4 L303.8,371.4 L304.2,371.4 L304.5,371.4 L304.9,371.4 L305.3,371.4 L305.7,371.4 L306.1,371.4 L306.5,371.4 L306.9,371.4 L307.3,371.4 L307.6,371.4 L308.0,371.4 L308.4,371.4 L308.8,371.4 L309.2,371.4 L309.6,371.4 L310.0,371.4 L310.3,371.4 L310.7,371.4 L311.1,371.4 L311.5,371.4 L311.9,371.4 L312.3,371.4 L312.7,371.4 L313.0,371.4 L313.4,371.4 L313.8,371.4 L314.2,371.4 L314.6,371.4 L315.0,371.4 L315.4,371.4 L315.8,371.4 L316.1,371.4 L316.5,371.4 L316.9,371.4 L317.3,371.4 L317.7,371.4 L318.1,371.4 L318.5,371.4 L318.8,371.4 L319.2,371.4 L319.6,371.4 L320.0,371.4 L320.4,371.4 L320.8,371.3 L321.2,371.3 L321.5,371.3 L321.9,371.3 L322.3,371.2 L322.7,371.2 L323.1,371.1 L323.5,371.0 L323.9,370.9 L324.2,370.8 L324.6,370.7 L325.0,370.5 L325.4,370.2 L325.8,369.9 L326.2,369.6 L326.6,369.2 L327.0,368.7 L327.3,368.1 L327.7,367.5 L328.1,366.7 L328.5,365.8 L328.9,364.8 L329.3,363.7 L329.7,362.5 L330.0,361.1 L330.4,359.7 L330.8,358.1 L331.2,356.3 L331.6,354.5 L332.0,352.6 L332.4,350.6 L332.7,348.6 L333.1,346.5 L333.5,344.4 L333.9,342.4 L334.3,340.4 L334.7,338.5 L335.1,336.7 L335.4,335.1 L335.8,333.7 L336.2,332.5 L336.6,331.5 L337.0,330.8 L337.4,330.3 L337.8,330.2 L338.2,330.3 L338.5,330.7 L338.9,331.3 L339.3,332.3 L339.7,333.4 L340.1,334.8 L340.5,336.4 L340.9,338.2 L341.2,340.0 L341.6,342.0 L342.0,344.0 L342.4,346.1 L342.8,348.2 L343.2,350.2 L343.6,352.2 L343.9,354.2 L344.3,356.0 L344.7,357.8 L345.1,359.4 L345.5,360.9 L345.9,362.3 L346.3,363.5 L346.7,364.7 L347.0,365.7 L347.4,366.6 L347.8,367.3 L348.2,368.0 L348.6,368.6 L349.0,369.1 L349.4,369.5 L349.7,369.9 L350.1,370.2 L350.5,370.4 L350.9,370.6 L351.3,370.8 L351.7,370.9 L352.1,371.0 L352.4,371.1 L352.8,371.2 L353.2,371.2 L353.6,371.3 L354.0,371.3 L354.4,371.3 L354.8,371.3 L355.1,371.4 L355.5,371.4 L355.9,371.4 L356.3,371.4 L356.7,371.4 L357.1,371.4 L357.5,371.4 L357.9,371.4 L358.2,371.4 L358.6,371.4 L359.0,371.4 L359.4,371.4 L359.8,371.4 L360.2,371.4 L360.6,371.4 L360.9,371.4 L361.3,371.4 L361.7,371.4 L362.1,371.4 L362.5,371.4 L362.9,371.4 L363.3,371.4 L363.6,371.4 L364.0,371.4 L364.4,371.4 L364.8,371.4 L365.2,371.4 L365.6,371.4 L366.0,371.4 L366.3,371.4 L366.7,371.4 L367.1,371.4 L367.5,371.4 L367.9,371.4 L368.3,371.4 L368.7,371.4 L369.1,371.4 L369.4,371.4 L369.8,371.4 L370.2,371.4 L370.6,371.4 L371.0,371.4 L371.4,371.4 L371.8,371.4 L372.1,371.4 L372.5,371.4 L372.9,371.4 L373.3,371.4 L373.7,371.4 L374.1,371.4 L374.5,371.4 L374.8,371.4 L375.2,371.4 L375.6,371.4 L376.0,371.4 L376.4,371.4 L376.8,371.4 L377.2,371.4 L377.6,371.4" stroke="#c43d66" stroke-width="1.5" fill="none"/>
<line x1="300.50" y1="295.80" x2="300.50" y2="371.40" stroke="#231f20" stroke-width="1.0"/>
<line x1="300.30" y1="371.50" x2="377.50" y2="371.50" stroke="#231f20" stroke-width="1.0"/>
<line x1="297.30" y1="296.50" x2="300.30" y2="296.50" stroke="#231f20" stroke-width="0.8"/>
<text x="294.10" y="298.90" font-size="8.3" text-anchor="end" stroke="#2b2a2a" stroke-width="0.15">0.3</text>
<line x1="297.30" y1="321.50" x2="300.30" y2="321.50" stroke="#231f20" stroke-width="0.8"/>
<text x="294.10" y="323.90" font-size="8.3" text-anchor="end" stroke="#2b2a2a" stroke-width="0.15">0.2</text>
<line x1="297.30" y1="346.50" x2="300.30" y2="346.50" stroke="#231f20" stroke-width="0.8"/>
<text x="294.10" y="348.90" font-size="8.3" text-anchor="end" stroke="#2b2a2a" stroke-width="0.15">0.1</text>
<line x1="297.30" y1="371.50" x2="300.30" y2="371.50" stroke="#231f20" stroke-width="0.8"/>
<text x="294.10" y="373.90" font-size="8.3" text-anchor="end" stroke="#2b2a2a" stroke-width="0.15">0</text>
<line x1="300.50" y1="371.40" x2="300.50" y2="374.40" stroke="#231f20" stroke-width="0.8"/>
<text x="300.30" y="384.60" font-size="7.6" text-anchor="middle" stroke="#2b2a2a" stroke-width="0.15">0</text>
<line x1="337.50" y1="371.40" x2="337.50" y2="374.40" stroke="#231f20" stroke-width="0.8"/>
<text x="337.80" y="384.60" font-size="7.6" text-anchor="middle" stroke="#2b2a2a" stroke-width="0.15">0.5</text>
<line x1="375.50" y1="371.40" x2="375.50" y2="374.40" stroke="#231f20" stroke-width="0.8"/>
<text x="375.30" y="384.60" font-size="7.6" text-anchor="middle" stroke="#2b2a2a" stroke-width="0.15">1</text>
<text x="325.30" y="397.90" font-size="9.8" stroke="#2b2a2a" stroke-width="0.15" textLength="28.20" lengthAdjust="spacingAndGlyphs">Capacity</text>
<text x="276.92" y="332.50" font-size="9.3" text-anchor="middle" stroke="#2b2a2a" stroke-width="0.15" textLength="35.00" lengthAdjust="spacingAndGlyphs" transform="rotate(-90 276.92 332.50)">Frequency</text>
<text x="425.75" y="286.25" font-size="10" stroke="#2b2a2a" stroke-width="0.15" textLength="77.25" lengthAdjust="spacingAndGlyphs">Reference bloods</text>
<rect x="458.50" y="332.50" width="11.00" height="11.00" stroke="#c43d66" stroke-width="1.0" fill="none"/>
<line x1="458.90" y1="336.50" x2="469.50" y2="336.50" stroke="#c43d66" stroke-width="1.0"/>
<line x1="464.50" y1="332.00" x2="464.50" y2="314.25" stroke="#c43d66" stroke-width="1.0" stroke-dasharray="3.4,2.2"/>
<line x1="464.50" y1="343.75" x2="464.50" y2="354.50" stroke="#c43d66" stroke-width="1.0" stroke-dasharray="3.4,2.2"/>
<line x1="462.00" y1="314.50" x2="466.40" y2="314.50" stroke="#c43d66" stroke-width="1.0"/>
<line x1="462.00" y1="354.50" x2="466.40" y2="354.50" stroke="#c43d66" stroke-width="1.0"/>
<circle cx="437.50" cy="332.50" r="1.35" fill="#111"/>
<circle cx="440.00" cy="335.00" r="1.35" fill="#111"/>
<circle cx="440.75" cy="337.00" r="1.35" fill="#111"/>
<circle cx="441.25" cy="336.25" r="1.35" fill="#111"/>
<circle cx="445.00" cy="333.00" r="1.35" fill="#111"/>
<circle cx="445.50" cy="347.00" r="1.35" fill="#111"/>
<circle cx="451.25" cy="351.25" r="1.35" fill="#111"/>
<circle cx="452.50" cy="338.00" r="1.35" fill="#111"/>
<circle cx="453.75" cy="338.75" r="1.35" fill="#111"/>
<circle cx="455.50" cy="324.50" r="1.35" fill="#111"/>
<circle cx="455.50" cy="325.50" r="1.35" fill="#111"/>
<circle cx="456.25" cy="318.00" r="1.35" fill="#111"/>
<circle cx="457.50" cy="346.25" r="1.35" fill="#111"/>
<circle cx="458.75" cy="331.25" r="1.35" fill="#111"/>
<circle cx="460.50" cy="353.00" r="1.35" fill="#111"/>
<circle cx="463.00" cy="340.50" r="1.35" fill="#111"/>
<circle cx="463.75" cy="345.50" r="1.35" fill="#111"/>
<circle cx="464.50" cy="339.50" r="1.35" fill="#111"/>
<circle cx="465.00" cy="318.75" r="1.35" fill="#111"/>
<circle cx="466.25" cy="340.00" r="1.35" fill="#111"/>
<circle cx="468.75" cy="321.25" r="1.35" fill="#111"/>
<circle cx="470.00" cy="344.50" r="1.35" fill="#111"/>
<circle cx="470.50" cy="333.75" r="1.35" fill="#111"/>
<circle cx="472.00" cy="346.25" r="1.35" fill="#111"/>
<circle cx="472.50" cy="355.00" r="1.35" fill="#111"/>
<circle cx="475.00" cy="332.50" r="1.35" fill="#111"/>
<circle cx="475.50" cy="333.75" r="1.35" fill="#111"/>
<circle cx="476.25" cy="342.50" r="1.35" fill="#111"/>
<circle cx="481.25" cy="340.50" r="1.35" fill="#111"/>
<circle cx="481.25" cy="343.00" r="1.35" fill="#111"/>
<circle cx="488.75" cy="331.25" r="1.35" fill="#111"/>
<circle cx="488.75" cy="334.50" r="1.35" fill="#111"/>
<circle cx="488.75" cy="339.50" r="1.35" fill="#111"/>
<circle cx="464.20" cy="364.50" r="1.35" fill="#c43d66"/>
<rect x="429.50" y="296.50" width="69.00" height="82.00" stroke="#231f20" stroke-width="1.0" fill="none"/>
<line x1="426.90" y1="296.50" x2="429.90" y2="296.50" stroke="#231f20" stroke-width="0.8"/>
<text x="423.70" y="298.90" font-size="8.3" text-anchor="end" stroke="#2b2a2a" stroke-width="0.15">0.6</text>
<line x1="426.90" y1="316.50" x2="429.90" y2="316.50" stroke="#231f20" stroke-width="0.8"/>
<text x="423.70" y="319.32" font-size="8.3" text-anchor="end" stroke="#2b2a2a" stroke-width="0.15">0.55</text>
<line x1="426.90" y1="337.50" x2="429.90" y2="337.50" stroke="#231f20" stroke-width="0.8"/>
<text x="423.70" y="339.75" font-size="8.3" text-anchor="end" stroke="#2b2a2a" stroke-width="0.15">0.5</text>
<line x1="426.90" y1="357.50" x2="429.90" y2="357.50" stroke="#231f20" stroke-width="0.8"/>
<text x="423.70" y="360.18" font-size="8.3" text-anchor="end" stroke="#2b2a2a" stroke-width="0.15">0.45</text>
<line x1="426.90" y1="378.50" x2="429.90" y2="378.50" stroke="#231f20" stroke-width="0.8"/>
<text x="423.70" y="380.60" font-size="8.3" text-anchor="end" stroke="#2b2a2a" stroke-width="0.15">0.4</text>
<text x="401.92" y="336.88" font-size="9.3" text-anchor="middle" stroke="#2b2a2a" stroke-width="0.15" textLength="28.75" lengthAdjust="spacingAndGlyphs" transform="rotate(-90 401.92 336.88)">Capacity</text>
<text x="90.80" y="421.10" font-size="10.4" stroke="#2b2a2a" stroke-width="0.15" textLength="209.00" lengthAdjust="spacingAndGlyphs">STORED RBCs USED FOR KIDNEY PERFUSION</text>
<text x="421.80" y="421.30" font-size="10.4" stroke="#2b2a2a" stroke-width="0.15" textLength="85.20" lengthAdjust="spacingAndGlyphs">KIDNEY RECIPIENT</text>
<text x="9.00" y="443.00" font-size="12" font-weight="bold" fill="#111">F</text>
<text x="44.50" y="443.75" font-size="10" stroke="#2b2a2a" stroke-width="0.15" textLength="71.75" lengthAdjust="spacingAndGlyphs">Perfused bloods</text>
<line x1="40.50" y1="449.50" x2="40.50" y2="538.00" stroke="#231f20" stroke-width="1.0"/>
<line x1="40.50" y1="538.50" x2="119.50" y2="538.50" stroke="#231f20" stroke-width="1.0"/>
<line x1="37.50" y1="471.50" x2="40.50" y2="471.50" stroke="#231f20" stroke-width="0.8"/>
<text x="33.80" y="473.75" font-size="8.4" text-anchor="end" stroke="#2b2a2a" stroke-width="0.15">pos</text>
<line x1="37.50" y1="516.50" x2="40.50" y2="516.50" stroke="#231f20" stroke-width="0.8"/>
<text x="33.80" y="518.25" font-size="8.4" text-anchor="end" stroke="#2b2a2a" stroke-width="0.15">neg</text>
<line x1="56.50" y1="538.00" x2="56.50" y2="541.00" stroke="#231f20" stroke-width="0.8"/>
<text x="56.25" y="550.80" font-size="8.4" text-anchor="middle" stroke="#2b2a2a" stroke-width="0.15">O</text>
<line x1="72.50" y1="538.00" x2="72.50" y2="541.00" stroke="#231f20" stroke-width="0.8"/>
<text x="72.50" y="550.80" font-size="8.4" text-anchor="middle" stroke="#2b2a2a" stroke-width="0.15">A</text>
<line x1="88.50" y1="538.00" x2="88.50" y2="541.00" stroke="#231f20" stroke-width="0.8"/>
<text x="88.00" y="550.80" font-size="8.4" text-anchor="middle" stroke="#2b2a2a" stroke-width="0.15">B</text>
<line x1="103.50" y1="538.00" x2="103.50" y2="541.00" stroke="#231f20" stroke-width="0.8"/>
<text x="103.75" y="550.80" font-size="8.4" text-anchor="middle" stroke="#2b2a2a" stroke-width="0.15">AB</text>
<circle cx="56.25" cy="471.75" r="3.75" fill="#111"/>
<circle cx="72.50" cy="471.75" r="5.0" fill="#111"/>
<circle cx="88.00" cy="471.75" r="1.5" fill="#111"/>
<circle cx="56.25" cy="516.25" r="2.5" fill="#111"/>
<circle cx="72.50" cy="516.25" r="1.2" fill="#111"/>
<circle cx="103.75" cy="516.25" r="1.2" fill="#111"/>
<text x="37.00" y="584.50" font-size="10" stroke="#2b2a2a" stroke-width="0.15" textLength="71.75" lengthAdjust="spacingAndGlyphs">Perfused bloods</text>
<rect x="67.50" y="640.50" width="10.00" height="10.00" stroke="#c43d66" stroke-width="1.0" fill="none"/>
<line x1="67.30" y1="646.50" x2="77.70" y2="646.50" stroke="#c43d66" stroke-width="1.0"/>
<line x1="72.50" y1="640.50" x2="72.50" y2="630.00" stroke="#c43d66" stroke-width="1.0" stroke-dasharray="3.4,2.2"/>
<line x1="72.50" y1="650.50" x2="72.50" y2="665.50" stroke="#c43d66" stroke-width="1.0" stroke-dasharray="3.4,2.2"/>
<line x1="70.30" y1="630.50" x2="74.70" y2="630.50" stroke="#c43d66" stroke-width="1.0"/>
<line x1="70.30" y1="665.50" x2="74.70" y2="665.50" stroke="#c43d66" stroke-width="1.0"/>
<circle cx="44.50" cy="643.00" r="1.35" fill="#111"/>
<circle cx="48.25" cy="645.00" r="1.35" fill="#111"/>
<circle cx="52.50" cy="640.00" r="1.35" fill="#111"/>
<circle cx="53.25" cy="650.50" r="1.35" fill="#111"/>
<circle cx="55.00" cy="643.00" r="1.35" fill="#111"/>
<circle cx="57.00" cy="653.00" r="1.35" fill="#111"/>
<circle cx="61.75" cy="648.00" r="1.35" fill="#111"/>
<circle cx="63.00" cy="640.00" r="1.35" fill="#111"/>
<circle cx="63.00" cy="643.00" r="1.35" fill="#111"/>
<circle cx="66.25" cy="640.50" r="1.35" fill="#111"/>
<circle cx="67.00" cy="655.50" r="1.35" fill="#111"/>
<circle cx="68.75" cy="663.25" r="1.35" fill="#111"/>
<circle cx="70.75" cy="653.00" r="1.35" fill="#111"/>
<circle cx="71.75" cy="648.00" r="1.35" fill="#111"/>
<circle cx="72.50" cy="643.00" r="1.35" fill="#111"/>
<circle cx="73.00" cy="653.00" r="1.35" fill="#111"/>
<circle cx="73.75" cy="650.50" r="1.35" fill="#111"/>
<circle cx="75.75" cy="665.75" r="1.35" fill="#111"/>
<circle cx="76.75" cy="658.00" r="1.35" fill="#111"/>
<circle cx="77.50" cy="630.00" r="1.35" fill="#111"/>
<circle cx="78.00" cy="650.50" r="1.35" fill="#111"/>
<circle cx="80.00" cy="637.50" r="1.35" fill="#111"/>
<circle cx="82.50" cy="645.00" r="1.35" fill="#111"/>
<circle cx="83.75" cy="632.50" r="1.35" fill="#111"/>
<circle cx="85.00" cy="643.00" r="1.35" fill="#111"/>
<circle cx="94.50" cy="648.00" r="1.35" fill="#111"/>
<circle cx="95.00" cy="642.50" r="1.35" fill="#111"/>
<circle cx="96.25" cy="640.50" r="1.35" fill="#111"/>
<circle cx="72.00" cy="599.30" r="1.7" fill="#9a2a4a"/>
<rect x="40.50" y="594.50" width="64.00" height="82.00" stroke="#231f20" stroke-width="1.0" fill="none"/>
<line x1="37.60" y1="599.50" x2="40.60" y2="599.50" stroke="#231f20" stroke-width="0.8"/>
<text x="34.40" y="601.90" font-size="8.3" text-anchor="end" stroke="#2b2a2a" stroke-width="0.15">30</text>
<line x1="37.60" y1="624.50" x2="40.60" y2="624.50" stroke="#231f20" stroke-width="0.8"/>
<text x="34.40" y="627.30" font-size="8.3" text-anchor="end" stroke="#2b2a2a" stroke-width="0.15">20</text>
<line x1="37.60" y1="650.50" x2="40.60" y2="650.50" stroke="#231f20" stroke-width="0.8"/>
<text x="34.40" y="652.70" font-size="8.3" text-anchor="end" stroke="#2b2a2a" stroke-width="0.15">10</text>
<line x1="37.60" y1="675.50" x2="40.60" y2="675.50" stroke="#231f20" stroke-width="0.8"/>
<text x="34.40" y="678.10" font-size="8.3" text-anchor="end" stroke="#2b2a2a" stroke-width="0.15">0</text>
<text x="19.42" y="635.38" font-size="9.3" text-anchor="middle" stroke="#2b2a2a" stroke-width="0.15" textLength="51.75" lengthAdjust="spacingAndGlyphs" transform="rotate(-90 19.42 635.38)">Days in storage</text>
<text x="138.20" y="443.00" font-size="12" font-weight="bold" fill="#111">G</text>
<text x="175.00" y="443.75" font-size="10" stroke="#2b2a2a" stroke-width="0.15" textLength="71.25" lengthAdjust="spacingAndGlyphs">Perfused bloods</text>
<path d="M177.3,532.0 L178.7,532.0 L180.0,532.0 L181.3,531.8 L182.7,508.9 L184.0,484.7 L185.3,463.7 L186.6,456.3 L188.0,474.7 L189.3,475.6 L190.6,477.2 L191.9,486.6 L193.2,491.1 L194.6,502.6 L195.9,506.2 L197.2,512.8 L198.6,517.2 L199.9,522.4 L201.2,527.9 L202.5,531.6 L203.9,532.0 L205.2,532.0 L206.5,532.0 L207.8,532.0 L209.2,532.0 L210.5,532.0 L211.8,532.0 L213.1,532.0 L214.5,532.0 L215.8,532.0 L217.1,532.0 L218.4,532.0 L219.8,532.0 L221.1,532.0 L222.4,532.0 L223.7,532.0 L225.1,532.0 L226.4,532.0 L227.7,532.0 L229.0,532.0 L230.3,532.0 L231.7,532.0 L233.0,532.0 L234.3,532.0 L235.6,532.0 L237.0,532.0 L238.3,532.0 L239.6,532.0 L240.9,532.0 L242.3,532.0 L243.6,532.0 L244.9,532.0 L246.2,532.0" stroke="#8f8f8f" stroke-width="0.55" fill="none" stroke-opacity="0.75"/>
<path d="M177.3,532.0 L178.7,532.0 L180.0,532.0 L181.3,532.0 L182.7,532.0 L184.0,532.0 L185.3,532.0 L186.6,510.4 L188.0,479.5 L189.3,457.6 L190.6,456.5 L191.9,473.7 L193.2,476.1 L194.6,488.9 L195.9,497.2 L197.2,498.8 L198.6,509.9 L199.9,516.6 L201.2,521.5 L202.5,528.3 L203.9,532.0 L205.2,532.0 L206.5,532.0 L207.8,532.0 L209.2,532.0 L210.5,532.0 L211.8,532.0 L213.1,532.0 L214.5,532.0 L215.8,532.0 L217.1,532.0 L218.4,532.0 L219.8,532.0 L221.1,532.0 L222.4,532.0 L223.7,532.0 L225.1,532.0 L226.4,532.0 L227.7,532.0 L229.0,532.0 L230.3,532.0 L231.7,532.0 L233.0,532.0 L234.3,532.0 L235.6,532.0 L237.0,532.0 L238.3,532.0 L239.6,532.0 L240.9,532.0 L242.3,532.0 L243.6,532.0 L244.9,532.0 L246.2,532.0" stroke="#8f8f8f" stroke-width="0.55" fill="none" stroke-opacity="0.75"/>
<path d="M177.3,532.0 L178.7,532.0 L180.0,532.0 L181.3,532.0 L182.7,532.0 L184.0,532.0 L185.3,532.0 L186.6,532.0 L188.0,508.3 L189.3,480.6 L190.6,460.7 L191.9,455.8 L193.2,465.3 L194.6,468.0 L195.9,474.9 L197.2,486.5 L198.6,491.3 L199.9,497.9 L201.2,503.0 L202.5,508.2 L203.9,511.8 L205.2,515.5 L206.5,521.6 L207.8,524.7 L209.2,529.1 L210.5,532.0 L211.8,532.0 L213.1,532.0 L214.5,532.0 L215.8,532.0 L217.1,532.0 L218.4,532.0 L219.8,532.0 L221.1,532.0 L222.4,532.0 L223.7,532.0 L225.1,532.0 L226.4,532.0 L227.7,532.0 L229.0,532.0 L230.3,532.0 L231.7,532.0 L233.0,532.0 L234.3,532.0 L235.6,532.0 L237.0,532.0 L238.3,532.0 L239.6,532.0 L240.9,532.0 L242.3,532.0 L243.6,532.0 L244.9,532.0 L246.2,532.0" stroke="#8f8f8f" stroke-width="0.55" fill="none" stroke-opacity="0.75"/>
<path d="M177.3,532.0 L178.7,532.0 L180.0,532.0 L181.3,532.0 L182.7,532.0 L184.0,532.0 L185.3,532.0 L186.6,532.0 L188.0,532.0 L189.3,521.7 L190.6,500.0 L191.9,476.1 L193.2,461.6 L194.6,475.4 L195.9,469.9 L197.2,485.6 L198.6,483.7 L199.9,488.4 L201.2,499.8 L202.5,499.6 L203.9,507.0 L205.2,510.8 L206.5,517.4 L207.8,521.4 L209.2,525.1 L210.5,528.2 L211.8,531.9 L213.1,532.0 L214.5,532.0 L215.8,532.0 L217.1,532.0 L218.4,532.0 L219.8,532.0 L221.1,532.0 L222.4,532.0 L223.7,532.0 L225.1,532.0 L226.4,532.0 L227.7,532.0 L229.0,532.0 L230.3,532.0 L231.7,532.0 L233.0,532.0 L234.3,532.0 L235.6,532.0 L237.0,532.0 L238.3,532.0 L239.6,532.0 L240.9,532.0 L242.3,532.0 L243.6,532.0 L244.9,532.0 L246.2,532.0" stroke="#8f8f8f" stroke-width="0.55" fill="none" stroke-opacity="0.75"/>
<path d="M177.3,532.0 L178.7,532.0 L180.0,532.0 L181.3,532.0 L182.7,532.0 L184.0,532.0 L185.3,516.3 L186.6,488.3 L188.0,468.2 L189.3,473.6 L190.6,477.2 L191.9,480.4 L193.2,491.9 L194.6,492.0 L195.9,497.3 L197.2,502.4 L198.6,511.6 L199.9,512.8 L201.2,520.2 L202.5,523.9 L203.9,527.7 L205.2,531.5 L206.5,532.0 L207.8,532.0 L209.2,532.0 L210.5,532.0 L211.8,532.0 L213.1,532.0 L214.5,532.0 L215.8,532.0 L217.1,532.0 L218.4,532.0 L219.8,532.0 L221.1,532.0 L222.4,532.0 L223.7,532.0 L225.1,532.0 L226.4,532.0 L227.7,532.0 L229.0,532.0 L230.3,532.0 L231.7,532.0 L233.0,532.0 L234.3,532.0 L235.6,532.0 L237.0,532.0 L238.3,532.0 L239.6,532.0 L240.9,532.0 L242.3,532.0 L243.6,532.0 L244.9,532.0 L246.2,532.0" stroke="#8f8f8f" stroke-width="0.55" fill="none" stroke-opacity="0.75"/>
<path d="M177.3,532.0 L178.7,532.0 L180.0,532.0 L181.3,532.0 L182.7,532.0 L184.0,532.0 L185.3,532.0 L186.6,532.0 L188.0,532.0 L189.3,522.4 L190.6,510.2 L191.9,499.0 L193.2,486.6 L194.6,476.0 L195.9,482.5 L197.2,487.0 L198.6,487.6 L199.9,491.0 L201.2,502.3 L202.5,507.8 L203.9,508.5 L205.2,515.5 L206.5,520.6 L207.8,525.3 L209.2,529.1 L210.5,532.0 L211.8,532.0 L213.1,532.0 L214.5,532.0 L215.8,532.0 L217.1,532.0 L218.4,532.0 L219.8,532.0 L221.1,532.0 L222.4,532.0 L223.7,532.0 L225.1,532.0 L226.4,532.0 L227.7,532.0 L229.0,532.0 L230.3,532.0 L231.7,532.0 L233.0,532.0 L234.3,532.0 L235.6,532.0 L237.0,532.0 L238.3,532.0 L239.6,532.0 L240.9,532.0 L242.3,532.0 L243.6,532.0 L244.9,532.0 L246.2,532.0" stroke="#8f8f8f" stroke-width="0.55" fill="none" stroke-opacity="0.75"/>
<path d="M177.3,532.0 L178.7,532.0 L180.0,532.0 L181.3,532.0 L182.7,532.0 L184.0,532.0 L185.3,532.0 L186.6,528.5 L188.0,516.8 L189.3,499.8 L190.6,493.2 L191.9,476.2 L193.2,478.0 L194.6,489.9 L195.9,489.8 L197.2,493.6 L198.6,500.9 L199.9,505.0 L201.2,512.9 L202.5,516.0 L203.9,521.1 L205.2,523.9 L206.5,528.5 L207.8,531.7 L209.2,532.0 L210.5,532.0 L211.8,532.0 L213.1,532.0 L214.5,532.0 L215.8,532.0 L217.1,532.0 L218.4,532.0 L219.8,532.0 L221.1,532.0 L222.4,532.0 L223.7,532.0 L225.1,532.0 L226.4,532.0 L227.7,532.0 L229.0,532.0 L230.3,532.0 L231.7,532.0 L233.0,532.0 L234.3,532.0 L235.6,532.0 L237.0,532.0 L238.3,532.0 L239.6,532.0 L240.9,532.0 L242.3,532.0 L243.6,532.0 L244.9,532.0 L246.2,532.0" stroke="#8f8f8f" stroke-width="0.55" fill="none" stroke-opacity="0.75"/>
<path d="M177.3,532.0 L178.7,532.0 L180.0,532.0 L181.3,532.0 L182.7,532.0 L184.0,532.0 L185.3,532.0 L186.6,532.0 L188.0,532.0 L189.3,532.0 L190.6,532.0 L191.9,523.0 L193.2,506.9 L194.6,495.0 L195.9,480.3 L197.2,481.6 L198.6,487.6 L199.9,492.7 L201.2,495.3 L202.5,500.5 L203.9,502.3 L205.2,502.3 L206.5,506.1 L207.8,511.1 L209.2,514.8 L210.5,518.4 L211.8,521.9 L213.1,524.3 L214.5,526.5 L215.8,529.2 L217.1,531.7 L218.4,532.0 L219.8,532.0 L221.1,532.0 L222.4,532.0 L223.7,532.0 L225.1,532.0 L226.4,532.0 L227.7,532.0 L229.0,532.0 L230.3,532.0 L231.7,532.0 L233.0,532.0 L234.3,532.0 L235.6,532.0 L237.0,532.0 L238.3,532.0 L239.6,532.0 L240.9,532.0 L242.3,532.0 L243.6,532.0 L244.9,532.0 L246.2,532.0" stroke="#8f8f8f" stroke-width="0.55" fill="none" stroke-opacity="0.75"/>
<path d="M177.3,532.0 L178.7,532.0 L180.0,532.0 L181.3,532.0 L182.7,532.0 L184.0,532.0 L185.3,532.0 L186.6,532.0 L188.0,532.0 L189.3,532.0 L190.6,532.0 L191.9,532.0 L193.2,532.0 L194.6,524.3 L195.9,508.3 L197.2,492.4 L198.6,475.3 L199.9,483.5 L201.2,484.2 L202.5,491.9 L203.9,494.0 L205.2,495.9 L206.5,500.4 L207.8,506.4 L209.2,506.9 L210.5,511.9 L211.8,515.7 L213.1,520.6 L214.5,522.6 L215.8,526.1 L217.1,528.6 L218.4,531.3 L219.8,532.0 L221.1,532.0 L222.4,532.0 L223.7,532.0 L225.1,532.0 L226.4,532.0 L227.7,532.0 L229.0,532.0 L230.3,532.0 L231.7,532.0 L233.0,532.0 L234.3,532.0 L235.6,532.0 L237.0,532.0 L238.3,532.0 L239.6,532.0 L240.9,532.0 L242.3,532.0 L243.6,532.0 L244.9,532.0 L246.2,532.0" stroke="#8f8f8f" stroke-width="0.55" fill="none" stroke-opacity="0.75"/>
<path d="M177.3,532.0 L178.7,532.0 L180.0,532.0 L181.3,532.0 L182.7,532.0 L184.0,532.0 L185.3,532.0 L186.6,532.0 L188.0,532.0 L189.3,532.0 L190.6,532.0 L191.9,532.0 L193.2,532.0 L194.6,532.0 L195.9,532.0 L197.2,520.2 L198.6,506.3 L199.9,496.1 L201.2,480.7 L202.5,483.5 L203.9,486.4 L205.2,493.9 L206.5,493.7 L207.8,497.1 L209.2,501.8 L210.5,503.7 L211.8,507.4 L213.1,512.6 L214.5,515.7 L215.8,519.7 L217.1,521.1 L218.4,524.0 L219.8,527.3 L221.1,529.8 L222.4,531.9 L223.7,532.0 L225.1,532.0 L226.4,532.0 L227.7,532.0 L229.0,532.0 L230.3,532.0 L231.7,532.0 L233.0,532.0 L234.3,532.0 L235.6,532.0 L237.0,532.0 L238.3,532.0 L239.6,532.0 L240.9,532.0 L242.3,532.0 L243.6,532.0 L244.9,532.0 L246.2,532.0" stroke="#8f8f8f" stroke-width="0.55" fill="none" stroke-opacity="0.75"/>
<path d="M177.3,532.0 L178.7,532.0 L180.0,532.0 L181.3,532.0 L182.7,532.0 L184.0,532.0 L185.3,532.0 L186.6,532.0 L188.0,532.0 L189.3,532.0 L190.6,532.0 L191.9,532.0 L193.2,532.0 L194.6,527.2 L195.9,516.4 L197.2,507.1 L198.6,496.7 L199.9,488.8 L201.2,490.4 L202.5,492.6 L203.9,497.0 L205.2,499.7 L206.5,506.9 L207.8,509.0 L209.2,510.6 L210.5,512.8 L211.8,517.2 L213.1,518.7 L214.5,521.7 L215.8,525.3 L217.1,527.2 L218.4,529.7 L219.8,531.7 L221.1,532.0 L222.4,532.0 L223.7,532.0 L225.1,532.0 L226.4,532.0 L227.7,532.0 L229.0,532.0 L230.3,532.0 L231.7,532.0 L233.0,532.0 L234.3,532.0 L235.6,532.0 L237.0,532.0 L238.3,532.0 L239.6,532.0 L240.9,532.0 L242.3,532.0 L243.6,532.0 L244.9,532.0 L246.2,532.0" stroke="#8f8f8f" stroke-width="0.55" fill="none" stroke-opacity="0.75"/>
<path d="M177.3,532.0 L178.7,532.0 L180.0,532.0 L181.3,532.0 L182.7,532.0 L184.0,532.0 L185.3,532.0 L186.6,532.0 L188.0,532.0 L189.3,532.0 L190.6,532.0 L191.9,532.0 L193.2,532.0 L194.6,532.0 L195.9,532.0 L197.2,532.0 L198.6,532.0 L199.9,532.0 L201.2,518.3 L202.5,502.9 L203.9,487.1 L205.2,492.8 L206.5,493.6 L207.8,498.6 L209.2,501.6 L210.5,506.1 L211.8,511.9 L213.1,513.6 L214.5,520.3 L215.8,523.0 L217.1,526.7 L218.4,529.8 L219.8,532.0 L221.1,532.0 L222.4,532.0 L223.7,532.0 L225.1,532.0 L226.4,532.0 L227.7,532.0 L229.0,532.0 L230.3,532.0 L231.7,532.0 L233.0,532.0 L234.3,532.0 L235.6,532.0 L237.0,532.0 L238.3,532.0 L239.6,532.0 L240.9,532.0 L242.3,532.0 L243.6,532.0 L244.9,532.0 L246.2,532.0" stroke="#8f8f8f" stroke-width="0.55" fill="none" stroke-opacity="0.75"/>
<path d="M177.3,532.0 L178.7,532.0 L180.0,532.0 L181.3,532.0 L182.7,532.0 L184.0,532.0 L185.3,532.0 L186.6,532.0 L188.0,532.0 L189.3,532.0 L190.6,532.0 L191.9,532.0 L193.2,532.0 L194.6,532.0 L195.9,532.0 L197.2,532.0 L198.6,532.0 L199.9,532.0 L201.2,532.0 L202.5,530.2 L203.9,516.5 L205.2,504.9 L206.5,487.1 L207.8,494.4 L209.2,493.6 L210.5,497.9 L211.8,499.1 L213.1,499.8 L214.5,503.5 L215.8,508.4 L217.1,509.3 L218.4,512.8 L219.8,516.4 L221.1,519.5 L222.4,520.8 L223.7,523.3 L225.1,525.2 L226.4,527.6 L227.7,530.0 L229.0,531.8 L230.3,532.0 L231.7,532.0 L233.0,532.0 L234.3,532.0 L235.6,532.0 L237.0,532.0 L238.3,532.0 L239.6,532.0 L240.9,532.0 L242.3,532.0 L243.6,532.0 L244.9,532.0 L246.2,532.0" stroke="#8f8f8f" stroke-width="0.55" fill="none" stroke-opacity="0.75"/>
<path d="M177.3,532.0 L178.7,532.0 L180.0,532.0 L181.3,532.0 L182.7,532.0 L184.0,532.0 L185.3,532.0 L186.6,532.0 L188.0,532.0 L189.3,532.0 L190.6,532.0 L191.9,532.0 L193.2,532.0 L194.6,532.0 L195.9,532.0 L197.2,532.0 L198.6,532.0 L199.9,527.1 L201.2,520.4 L202.5,512.5 L203.9,502.1 L205.2,493.2 L206.5,499.8 L207.8,499.6 L209.2,501.4 L210.5,507.3 L211.8,510.0 L213.1,513.7 L214.5,516.3 L215.8,517.2 L217.1,521.5 L218.4,523.2 L219.8,526.0 L221.1,528.9 L222.4,531.1 L223.7,532.0 L225.1,532.0 L226.4,532.0 L227.7,532.0 L229.0,532.0 L230.3,532.0 L231.7,532.0 L233.0,532.0 L234.3,532.0 L235.6,532.0 L237.0,532.0 L238.3,532.0 L239.6,532.0 L240.9,532.0 L242.3,532.0 L243.6,532.0 L244.9,532.0 L246.2,532.0" stroke="#8f8f8f" stroke-width="0.55" fill="none" stroke-opacity="0.75"/>
<path d="M177.3,532.0 L178.7,532.0 L180.0,532.0 L181.3,532.0 L182.7,532.0 L184.0,532.0 L185.3,532.0 L186.6,532.0 L188.0,532.0 L189.3,532.0 L190.6,532.0 L191.9,532.0 L193.2,532.0 L194.6,532.0 L195.9,532.0 L197.2,532.0 L198.6,532.0 L199.9,532.0 L201.2,532.0 L202.5,532.0 L203.9,532.0 L205.2,525.3 L206.5,515.8 L207.8,506.8 L209.2,492.6 L210.5,498.3 L211.8,501.8 L213.1,502.7 L214.5,506.8 L215.8,506.2 L217.1,509.2 L218.4,511.9 L219.8,512.0 L221.1,514.0 L222.4,518.5 L223.7,518.9 L225.1,521.4 L226.4,522.0 L227.7,524.2 L229.0,526.6 L230.3,528.2 L231.7,529.8 L233.0,531.1 L234.3,532.0 L235.6,532.0 L237.0,532.0 L238.3,532.0 L239.6,532.0 L240.9,532.0 L242.3,532.0 L243.6,532.0 L244.9,532.0 L246.2,532.0" stroke="#8f8f8f" stroke-width="0.55" fill="none" stroke-opacity="0.75"/>
<path d="M177.3,532.0 L178.7,532.0 L180.0,532.0 L181.3,532.0 L182.7,532.0 L184.0,532.0 L185.3,532.0 L186.6,532.0 L188.0,532.0 L189.3,532.0 L190.6,532.0 L191.9,532.0 L193.2,532.0 L194.6,532.0 L195.9,532.0 L197.2,532.0 L198.6,532.0 L199.9,532.0 L201.2,532.0 L202.5,532.0 L203.9,532.0 L205.2,530.3 L206.5,523.8 L207.8,517.7 L209.2,510.6 L210.5,504.3 L211.8,496.8 L213.1,495.1 L214.5,493.4 L215.8,499.8 L217.1,501.4 L218.4,505.5 L219.8,508.7 L221.1,510.5 L222.4,513.7 L223.7,516.9 L225.1,518.6 L226.4,521.8 L227.7,525.3 L229.0,527.4 L230.3,529.5 L231.7,531.5 L233.0,532.0 L234.3,532.0 L235.6,532.0 L237.0,532.0 L238.3,532.0 L239.6,532.0 L240.9,532.0 L242.3,532.0 L243.6,532.0 L244.9,532.0 L246.2,532.0" stroke="#8f8f8f" stroke-width="0.55" fill="none" stroke-opacity="0.75"/>
<path d="M177.3,532.0 L178.7,532.0 L180.0,532.0 L181.3,532.0 L182.7,532.0 L184.0,532.0 L185.3,532.0 L186.6,532.0 L188.0,532.0 L189.3,532.0 L190.6,532.0 L191.9,532.0 L193.2,532.0 L194.6,532.0 L195.9,532.0 L197.2,532.0 L198.6,532.0 L199.9,532.0 L201.2,532.0 L202.5,532.0 L203.9,532.0 L205.2,532.0 L206.5,531.4 L207.8,526.1 L209.2,522.0 L210.5,514.8 L211.8,510.8 L213.1,504.9 L214.5,498.8 L215.8,501.2 L217.1,504.0 L218.4,503.6 L219.8,508.2 L221.1,510.0 L222.4,509.8 L223.7,514.3 L225.1,515.6 L226.4,515.6 L227.7,519.6 L229.0,519.3 L230.3,521.4 L231.7,523.5 L233.0,525.3 L234.3,526.2 L235.6,527.7 L237.0,529.6 L238.3,530.8 L239.6,531.9 L240.9,532.0 L242.3,532.0 L243.6,532.0 L244.9,532.0 L246.2,532.0" stroke="#8f8f8f" stroke-width="0.55" fill="none" stroke-opacity="0.75"/>
<path d="M177.3,532.0 L178.7,532.0 L180.0,532.0 L181.3,532.0 L182.7,532.0 L184.0,532.0 L185.3,532.0 L186.6,532.0 L188.0,532.0 L189.3,532.0 L190.6,532.0 L191.9,532.0 L193.2,532.0 L194.6,532.0 L195.9,532.0 L197.2,532.0 L198.6,532.0 L199.9,532.0 L201.2,532.0 L202.5,532.0 L203.9,532.0 L205.2,532.0 L206.5,532.0 L207.8,532.0 L209.2,532.0 L210.5,532.0 L211.8,527.0 L213.1,521.1 L214.5,515.7 L215.8,507.9 L217.1,500.2 L218.4,506.5 L219.8,507.5 L221.1,506.6 L222.4,508.8 L223.7,511.3 L225.1,515.6 L226.4,515.1 L227.7,516.3 L229.0,518.3 L230.3,520.9 L231.7,523.9 L233.0,524.3 L234.3,526.7 L235.6,527.9 L237.0,529.3 L238.3,530.9 L239.6,532.0 L240.9,532.0 L242.3,532.0 L243.6,532.0 L244.9,532.0 L246.2,532.0" stroke="#8f8f8f" stroke-width="0.55" fill="none" stroke-opacity="0.75"/>
<path d="M177.3,532.0 L178.7,532.0 L180.0,532.0 L181.3,532.0 L182.7,532.0 L184.0,532.0 L185.3,532.0 L186.6,532.0 L188.0,532.0 L189.3,532.0 L190.6,532.0 L191.9,532.0 L193.2,532.0 L194.6,532.0 L195.9,532.0 L197.2,532.0 L198.6,532.0 L199.9,532.0 L201.2,532.0 L202.5,532.0 L203.9,532.0 L205.2,532.0 L206.5,532.0 L207.8,532.0 L209.2,528.3 L210.5,520.0 L211.8,515.0 L213.1,506.0 L214.5,499.9 L215.8,494.8 L217.1,494.6 L218.4,501.9 L219.8,504.5 L221.1,506.1 L222.4,510.6 L223.7,513.6 L225.1,514.6 L226.4,517.2 L227.7,520.0 L229.0,524.3 L230.3,526.5 L231.7,529.1 L233.0,531.2 L234.3,532.0 L235.6,532.0 L237.0,532.0 L238.3,532.0 L239.6,532.0 L240.9,532.0 L242.3,532.0 L243.6,532.0 L244.9,532.0 L246.2,532.0" stroke="#8f8f8f" stroke-width="0.55" fill="none" stroke-opacity="0.75"/>
<path d="M177.3,532.0 L178.7,532.0 L180.0,532.0 L181.3,532.0 L182.7,532.0 L184.0,532.0 L185.3,532.0 L186.6,532.0 L188.0,532.0 L189.3,532.0 L190.6,532.0 L191.9,531.6 L193.2,520.8 L194.6,512.4 L195.9,504.6 L197.2,490.5 L198.6,498.1 L199.9,498.1 L201.2,502.3 L202.5,503.5 L203.9,508.7 L205.2,511.6 L206.5,516.1 L207.8,518.2 L209.2,521.8 L210.5,523.8 L211.8,526.9 L213.1,529.7 L214.5,531.7 L215.8,532.0 L217.1,532.0 L218.4,532.0 L219.8,532.0 L221.1,532.0 L222.4,532.0 L223.7,532.0 L225.1,532.0 L226.4,532.0 L227.7,532.0 L229.0,532.0 L230.3,532.0 L231.7,532.0 L233.0,532.0 L234.3,532.0 L235.6,532.0 L237.0,532.0 L238.3,532.0 L239.6,532.0 L240.9,532.0 L242.3,532.0 L243.6,532.0 L244.9,532.0 L246.2,532.0" stroke="#8f8f8f" stroke-width="0.55" fill="none" stroke-opacity="0.75"/>
<path d="M177.3,532.0 L178.7,532.0 L180.0,532.0 L181.3,532.0 L182.7,532.0 L184.0,532.0 L185.3,532.0 L186.6,532.0 L188.0,532.0 L189.3,532.0 L190.6,516.6 L191.9,502.7 L193.2,482.1 L194.6,487.4 L195.9,496.5 L197.2,496.6 L198.6,504.6 L199.9,508.5 L201.2,510.4 L202.5,515.8 L203.9,517.9 L205.2,522.8 L206.5,526.6 L207.8,529.6 L209.2,532.0 L210.5,532.0 L211.8,532.0 L213.1,532.0 L214.5,532.0 L215.8,532.0 L217.1,532.0 L218.4,532.0 L219.8,532.0 L221.1,532.0 L222.4,532.0 L223.7,532.0 L225.1,532.0 L226.4,532.0 L227.7,532.0 L229.0,532.0 L230.3,532.0 L231.7,532.0 L233.0,532.0 L234.3,532.0 L235.6,532.0 L237.0,532.0 L238.3,532.0 L239.6,532.0 L240.9,532.0 L242.3,532.0 L243.6,532.0 L244.9,532.0 L246.2,532.0" stroke="#8f8f8f" stroke-width="0.55" fill="none" stroke-opacity="0.75"/>
<path d="M177.3,532.0 L178.7,532.0 L180.0,532.0 L181.3,532.0 L182.7,532.0 L184.0,532.0 L185.3,532.0 L186.6,532.0 L188.0,532.0 L189.3,532.0 L190.6,532.0 L191.9,532.0 L193.2,532.0 L194.6,532.0 L195.9,532.0 L197.2,532.0 L198.6,532.0 L199.9,532.0 L201.2,532.0 L202.5,532.0 L203.9,532.0 L205.2,532.0 L206.5,532.0 L207.8,531.4 L209.2,523.1 L210.5,514.5 L211.8,501.5 L213.1,505.0 L214.5,509.1 L215.8,511.3 L217.1,509.4 L218.4,512.5 L219.8,513.7 L221.1,517.7 L222.4,517.9 L223.7,520.3 L225.1,522.1 L226.4,523.5 L227.7,524.6 L229.0,526.5 L230.3,527.9 L231.7,529.4 L233.0,530.5 L234.3,531.7 L235.6,532.0 L237.0,532.0 L238.3,532.0 L239.6,532.0 L240.9,532.0 L242.3,532.0 L243.6,532.0 L244.9,532.0 L246.2,532.0" stroke="#8f8f8f" stroke-width="0.55" fill="none" stroke-opacity="0.75"/>
<line x1="195.63" y1="532.00" x2="195.63" y2="452.20" stroke="#4aae4a" stroke-width="1.3"/>
<line x1="169.50" y1="452.00" x2="169.50" y2="532.00" stroke="#231f20" stroke-width="1.0"/>
<line x1="169.40" y1="532.50" x2="250.00" y2="532.50" stroke="#231f20" stroke-width="1.0"/>
<line x1="166.40" y1="452.50" x2="169.40" y2="452.50" stroke="#231f20" stroke-width="0.8"/>
<text x="163.20" y="454.70" font-size="8.3" text-anchor="end" stroke="#2b2a2a" stroke-width="0.15">0.4</text>
<line x1="166.40" y1="472.50" x2="169.40" y2="472.50" stroke="#231f20" stroke-width="0.8"/>
<text x="163.20" y="474.65" font-size="8.3" text-anchor="end" stroke="#2b2a2a" stroke-width="0.15">0.3</text>
<line x1="166.40" y1="492.50" x2="169.40" y2="492.50" stroke="#231f20" stroke-width="0.8"/>
<text x="163.20" y="494.60" font-size="8.3" text-anchor="end" stroke="#2b2a2a" stroke-width="0.15">0.2</text>
<line x1="166.40" y1="512.50" x2="169.40" y2="512.50" stroke="#231f20" stroke-width="0.8"/>
<text x="163.20" y="514.55" font-size="8.3" text-anchor="end" stroke="#2b2a2a" stroke-width="0.15">0.1</text>
<line x1="166.40" y1="532.50" x2="169.40" y2="532.50" stroke="#231f20" stroke-width="0.8"/>
<text x="163.20" y="534.50" font-size="8.3" text-anchor="end" stroke="#2b2a2a" stroke-width="0.15">0</text>
<line x1="169.50" y1="532.00" x2="169.50" y2="535.00" stroke="#231f20" stroke-width="0.8"/>
<text x="169.40" y="544.80" font-size="7.8" text-anchor="middle" stroke="#2b2a2a" stroke-width="0.15">0</text>
<line x1="195.50" y1="532.00" x2="195.50" y2="535.00" stroke="#231f20" stroke-width="0.8"/>
<text x="195.90" y="544.80" font-size="7.8" text-anchor="middle" stroke="#2b2a2a" stroke-width="0.15">1</text>
<line x1="222.50" y1="532.00" x2="222.50" y2="535.00" stroke="#231f20" stroke-width="0.8"/>
<text x="222.40" y="544.80" font-size="7.8" text-anchor="middle" stroke="#2b2a2a" stroke-width="0.15">2</text>
<line x1="248.50" y1="532.00" x2="248.50" y2="535.00" stroke="#231f20" stroke-width="0.8"/>
<text x="248.90" y="544.80" font-size="7.8" text-anchor="middle" stroke="#2b2a2a" stroke-width="0.15">3</text>
<text x="182.50" y="558.50" font-size="9.6" stroke="#2b2a2a" stroke-width="0.15" textLength="56.30" lengthAdjust="spacingAndGlyphs">Time constant (s)</text>
<text x="146.42" y="491.25" font-size="9.3" text-anchor="middle" stroke="#2b2a2a" stroke-width="0.15" textLength="37.50" lengthAdjust="spacingAndGlyphs" transform="rotate(-90 146.42 491.25)">Frequency</text>
<text x="215.00" y="462.50" font-size="8.4" fill="#5cb85c" stroke="#5cb85c" stroke-width="0.15" font-style="italic" textLength="37.00" lengthAdjust="spacingAndGlyphs">Reference</text>
<text x="215.50" y="472.50" font-size="8.4" fill="#5cb85c" stroke="#5cb85c" stroke-width="0.15" font-style="italic" textLength="18.30" lengthAdjust="spacingAndGlyphs">value</text>
<text x="175.00" y="585.00" font-size="10" stroke="#2b2a2a" stroke-width="0.15" textLength="71.25" lengthAdjust="spacingAndGlyphs">Perfused bloods</text>
<path d="M185.3,673.0 L186.9,673.0 L188.5,673.0 L190.1,673.0 L191.7,673.0 L193.2,673.0 L194.8,673.0 L196.4,672.9 L198.0,672.5 L199.6,670.9 L201.2,665.6 L202.8,658.0 L204.4,643.4 L206.0,631.7 L207.6,639.9 L209.2,647.9 L210.7,660.3 L212.3,668.9 L213.9,671.8 L215.5,672.8 L217.1,673.0 L218.7,673.0 L220.3,673.0 L221.9,673.0 L223.5,673.0 L225.1,673.0 L226.6,673.0 L228.2,673.0 L229.8,673.0 L231.4,673.0 L233.0,673.0" stroke="#8f8f8f" stroke-width="0.55" fill="none" stroke-opacity="0.75"/>
<path d="M185.3,673.0 L186.9,673.0 L188.5,673.0 L190.1,673.0 L191.7,673.0 L193.2,673.0 L194.8,672.8 L196.4,672.3 L198.0,670.2 L199.6,665.7 L201.2,656.1 L202.8,643.5 L204.4,628.0 L206.0,619.3 L207.6,629.5 L209.2,642.5 L210.7,658.0 L212.3,666.3 L213.9,670.9 L215.5,672.5 L217.1,672.9 L218.7,673.0 L220.3,673.0 L221.9,673.0 L223.5,673.0 L225.1,673.0 L226.6,673.0 L228.2,673.0 L229.8,673.0 L231.4,673.0 L233.0,673.0" stroke="#8f8f8f" stroke-width="0.55" fill="none" stroke-opacity="0.75"/>
<path d="M185.3,673.0 L186.9,673.0 L188.5,673.0 L190.1,673.0 L191.7,673.0 L193.2,673.0 L194.8,672.7 L196.4,671.2 L198.0,665.6 L199.6,653.6 L201.2,637.3 L202.8,620.9 L204.4,621.3 L206.0,635.5 L207.6,651.8 L209.2,666.2 L210.7,671.1 L212.3,672.7 L213.9,673.0 L215.5,673.0 L217.1,673.0 L218.7,673.0 L220.3,673.0 L221.9,673.0 L223.5,673.0 L225.1,673.0 L226.6,673.0 L228.2,673.0 L229.8,673.0 L231.4,673.0 L233.0,673.0" stroke="#8f8f8f" stroke-width="0.55" fill="none" stroke-opacity="0.75"/>
<path d="M185.3,673.0 L186.9,673.0 L188.5,673.0 L190.1,673.0 L191.7,673.0 L193.2,673.0 L194.8,673.0 L196.4,673.0 L198.0,672.9 L199.6,672.6 L201.2,671.5 L202.8,668.7 L204.4,662.8 L206.0,655.7 L207.6,644.5 L209.2,634.9 L210.7,640.9 L212.3,644.8 L213.9,656.6 L215.5,663.7 L217.1,668.9 L218.7,671.7 L220.3,672.6 L221.9,672.9 L223.5,673.0 L225.1,673.0 L226.6,673.0 L228.2,673.0 L229.8,673.0 L231.4,673.0 L233.0,673.0" stroke="#8f8f8f" stroke-width="0.55" fill="none" stroke-opacity="0.75"/>
<path d="M185.3,673.0 L186.9,673.0 L188.5,673.0 L190.1,673.0 L191.7,673.0 L193.2,673.0 L194.8,673.0 L196.4,672.9 L198.0,671.9 L199.6,668.0 L201.2,659.4 L202.8,646.0 L204.4,636.1 L206.0,640.6 L207.6,657.7 L209.2,667.9 L210.7,671.9 L212.3,672.8 L213.9,673.0 L215.5,673.0 L217.1,673.0 L218.7,673.0 L220.3,673.0 L221.9,673.0 L223.5,673.0 L225.1,673.0 L226.6,673.0 L228.2,673.0 L229.8,673.0 L231.4,673.0 L233.0,673.0" stroke="#8f8f8f" stroke-width="0.55" fill="none" stroke-opacity="0.75"/>
<path d="M185.3,673.0 L186.9,673.0 L188.5,673.0 L190.1,673.0 L191.7,673.0 L193.2,673.0 L194.8,673.0 L196.4,673.0 L198.0,673.0 L199.6,672.8 L201.2,671.5 L202.8,666.6 L204.4,652.2 L206.0,628.9 L207.6,624.3 L209.2,625.2 L210.7,644.6 L212.3,662.9 L213.9,670.3 L215.5,672.5 L217.1,672.9 L218.7,673.0 L220.3,673.0 L221.9,673.0 L223.5,673.0 L225.1,673.0 L226.6,673.0 L228.2,673.0 L229.8,673.0 L231.4,673.0 L233.0,673.0" stroke="#8f8f8f" stroke-width="0.55" fill="none" stroke-opacity="0.75"/>
<path d="M185.3,673.0 L186.9,673.0 L188.5,673.0 L190.1,673.0 L191.7,673.0 L193.2,673.0 L194.8,673.0 L196.4,673.0 L198.0,672.9 L199.6,672.7 L201.2,671.9 L202.8,669.6 L204.4,664.3 L206.0,657.9 L207.6,646.4 L209.2,641.3 L210.7,635.8 L212.3,637.3 L213.9,647.0 L215.5,656.7 L217.1,665.9 L218.7,669.9 L220.3,671.9 L221.9,672.7 L223.5,672.9 L225.1,673.0 L226.6,673.0 L228.2,673.0 L229.8,673.0 L231.4,673.0 L233.0,673.0" stroke="#8f8f8f" stroke-width="0.55" fill="none" stroke-opacity="0.75"/>
<path d="M185.3,673.0 L186.9,673.0 L188.5,673.0 L190.1,673.0 L191.7,673.0 L193.2,673.0 L194.8,673.0 L196.4,673.0 L198.0,673.0 L199.6,672.8 L201.2,671.9 L202.8,669.0 L204.4,660.5 L206.0,648.5 L207.6,637.5 L209.2,621.2 L210.7,628.0 L212.3,639.4 L213.9,655.1 L215.5,664.9 L217.1,670.4 L218.7,672.3 L220.3,672.9 L221.9,673.0 L223.5,673.0 L225.1,673.0 L226.6,673.0 L228.2,673.0 L229.8,673.0 L231.4,673.0 L233.0,673.0" stroke="#8f8f8f" stroke-width="0.55" fill="none" stroke-opacity="0.75"/>
<path d="M185.3,673.0 L186.9,673.0 L188.5,673.0 L190.1,673.0 L191.7,673.0 L193.2,672.8 L194.8,672.2 L196.4,669.9 L198.0,665.6 L199.6,654.6 L201.2,642.4 L202.8,636.3 L204.4,635.3 L206.0,646.8 L207.6,656.0 L209.2,665.7 L210.7,670.4 L212.3,672.3 L213.9,672.9 L215.5,673.0 L217.1,673.0 L218.7,673.0 L220.3,673.0 L221.9,673.0 L223.5,673.0 L225.1,673.0 L226.6,673.0 L228.2,673.0 L229.8,673.0 L231.4,673.0 L233.0,673.0" stroke="#8f8f8f" stroke-width="0.55" fill="none" stroke-opacity="0.75"/>
<path d="M185.3,673.0 L186.9,673.0 L188.5,673.0 L190.1,673.0 L191.7,672.9 L193.2,672.7 L194.8,672.0 L196.4,669.8 L198.0,664.1 L199.6,656.0 L201.2,642.1 L202.8,634.0 L204.4,622.0 L206.0,630.7 L207.6,642.2 L209.2,649.9 L210.7,663.0 L212.3,668.2 L213.9,671.5 L215.5,672.6 L217.1,672.9 L218.7,673.0 L220.3,673.0 L221.9,673.0 L223.5,673.0 L225.1,673.0 L226.6,673.0 L228.2,673.0 L229.8,673.0 L231.4,673.0 L233.0,673.0" stroke="#8f8f8f" stroke-width="0.55" fill="none" stroke-opacity="0.75"/>
<path d="M185.3,673.0 L186.9,673.0 L188.5,673.0 L190.1,673.0 L191.7,673.0 L193.2,673.0 L194.8,673.0 L196.4,673.0 L198.0,673.0 L199.6,672.9 L201.2,672.7 L202.8,671.6 L204.4,668.8 L206.0,662.4 L207.6,652.3 L209.2,641.5 L210.7,635.3 L212.3,644.1 L213.9,654.7 L215.5,662.8 L217.1,669.3 L218.7,671.8 L220.3,672.7 L221.9,673.0 L223.5,673.0 L225.1,673.0 L226.6,673.0 L228.2,673.0 L229.8,673.0 L231.4,673.0 L233.0,673.0" stroke="#8f8f8f" stroke-width="0.55" fill="none" stroke-opacity="0.75"/>
<path d="M185.3,673.0 L186.9,673.0 L188.5,673.0 L190.1,673.0 L191.7,673.0 L193.2,672.8 L194.8,672.0 L196.4,669.4 L198.0,661.5 L199.6,646.1 L201.2,626.9 L202.8,617.9 L204.4,613.3 L206.0,634.3 L207.6,648.4 L209.2,662.2 L210.7,669.4 L212.3,672.1 L213.9,672.8 L215.5,673.0 L217.1,673.0 L218.7,673.0 L220.3,673.0 L221.9,673.0 L223.5,673.0 L225.1,673.0 L226.6,673.0 L228.2,673.0 L229.8,673.0 L231.4,673.0 L233.0,673.0" stroke="#8f8f8f" stroke-width="0.55" fill="none" stroke-opacity="0.75"/>
<path d="M185.3,673.0 L186.9,673.0 L188.5,673.0 L190.1,673.0 L191.7,673.0 L193.2,673.0 L194.8,673.0 L196.4,673.0 L198.0,672.9 L199.6,672.4 L201.2,669.8 L202.8,663.3 L204.4,649.3 L206.0,641.6 L207.6,637.3 L209.2,651.9 L210.7,664.1 L212.3,670.3 L213.9,672.4 L215.5,672.9 L217.1,673.0 L218.7,673.0 L220.3,673.0 L221.9,673.0 L223.5,673.0 L225.1,673.0 L226.6,673.0 L228.2,673.0 L229.8,673.0 L231.4,673.0 L233.0,673.0" stroke="#8f8f8f" stroke-width="0.55" fill="none" stroke-opacity="0.75"/>
<path d="M185.3,673.0 L186.9,673.0 L188.5,673.0 L190.1,673.0 L191.7,673.0 L193.2,673.0 L194.8,673.0 L196.4,672.8 L198.0,671.9 L199.6,669.3 L201.2,662.1 L202.8,647.6 L204.4,634.8 L206.0,622.0 L207.6,633.0 L209.2,638.1 L210.7,654.2 L212.3,665.7 L213.9,670.7 L215.5,672.4 L217.1,672.9 L218.7,673.0 L220.3,673.0 L221.9,673.0 L223.5,673.0 L225.1,673.0 L226.6,673.0 L228.2,673.0 L229.8,673.0 L231.4,673.0 L233.0,673.0" stroke="#8f8f8f" stroke-width="0.55" fill="none" stroke-opacity="0.75"/>
<path d="M185.3,673.0 L186.9,673.0 L188.5,673.0 L190.1,673.0 L191.7,673.0 L193.2,673.0 L194.8,673.0 L196.4,672.8 L198.0,672.2 L199.6,669.9 L201.2,662.0 L202.8,647.5 L204.4,629.4 L206.0,608.4 L207.6,606.3 L209.2,626.9 L210.7,642.1 L212.3,659.7 L213.9,668.4 L215.5,671.8 L217.1,672.8 L218.7,673.0 L220.3,673.0 L221.9,673.0 L223.5,673.0 L225.1,673.0 L226.6,673.0 L228.2,673.0 L229.8,673.0 L231.4,673.0 L233.0,673.0" stroke="#8f8f8f" stroke-width="0.55" fill="none" stroke-opacity="0.75"/>
<path d="M185.3,673.0 L186.9,673.0 L188.5,673.0 L190.1,673.0 L191.7,673.0 L193.2,673.0 L194.8,673.0 L196.4,673.0 L198.0,673.0 L199.6,672.8 L201.2,671.6 L202.8,666.7 L204.4,651.5 L206.0,634.5 L207.6,615.2 L209.2,623.3 L210.7,645.0 L212.3,662.0 L213.9,670.5 L215.5,672.6 L217.1,673.0 L218.7,673.0 L220.3,673.0 L221.9,673.0 L223.5,673.0 L225.1,673.0 L226.6,673.0 L228.2,673.0 L229.8,673.0 L231.4,673.0 L233.0,673.0" stroke="#8f8f8f" stroke-width="0.55" fill="none" stroke-opacity="0.75"/>
<path d="M185.3,673.0 L186.9,673.0 L188.5,673.0 L190.1,673.0 L191.7,672.9 L193.2,672.6 L194.8,671.4 L196.4,667.3 L198.0,658.8 L199.6,646.1 L201.2,630.0 L202.8,617.0 L204.4,625.8 L206.0,640.5 L207.6,654.3 L209.2,665.0 L210.7,670.4 L212.3,672.4 L213.9,672.9 L215.5,673.0 L217.1,673.0 L218.7,673.0 L220.3,673.0 L221.9,673.0 L223.5,673.0 L225.1,673.0 L226.6,673.0 L228.2,673.0 L229.8,673.0 L231.4,673.0 L233.0,673.0" stroke="#8f8f8f" stroke-width="0.55" fill="none" stroke-opacity="0.75"/>
<path d="M185.3,673.0 L186.9,673.0 L188.5,673.0 L190.1,673.0 L191.7,673.0 L193.2,673.0 L194.8,673.0 L196.4,673.0 L198.0,672.9 L199.6,672.5 L201.2,669.9 L202.8,659.5 L204.4,643.3 L206.0,613.2 L207.6,612.7 L209.2,627.6 L210.7,652.3 L212.3,667.1 L213.9,671.9 L215.5,672.9 L217.1,673.0 L218.7,673.0 L220.3,673.0 L221.9,673.0 L223.5,673.0 L225.1,673.0 L226.6,673.0 L228.2,673.0 L229.8,673.0 L231.4,673.0 L233.0,673.0" stroke="#8f8f8f" stroke-width="0.55" fill="none" stroke-opacity="0.75"/>
<path d="M185.3,673.0 L186.9,673.0 L188.5,673.0 L190.1,673.0 L191.7,673.0 L193.2,673.0 L194.8,672.7 L196.4,671.5 L198.0,667.0 L199.6,659.0 L201.2,645.8 L202.8,636.0 L204.4,635.5 L206.0,640.7 L207.6,655.8 L209.2,667.1 L210.7,671.3 L212.3,672.7 L213.9,673.0 L215.5,673.0 L217.1,673.0 L218.7,673.0 L220.3,673.0 L221.9,673.0 L223.5,673.0 L225.1,673.0 L226.6,673.0 L228.2,673.0 L229.8,673.0 L231.4,673.0 L233.0,673.0" stroke="#8f8f8f" stroke-width="0.55" fill="none" stroke-opacity="0.75"/>
<path d="M185.3,673.0 L186.9,673.0 L188.5,673.0 L190.1,673.0 L191.7,673.0 L193.2,673.0 L194.8,673.0 L196.4,673.0 L198.0,672.9 L199.6,672.6 L201.2,670.9 L202.8,666.2 L204.4,654.7 L206.0,640.8 L207.6,627.1 L209.2,621.5 L210.7,634.8 L212.3,649.2 L213.9,661.4 L215.5,669.8 L217.1,672.1 L218.7,672.8 L220.3,673.0 L221.9,673.0 L223.5,673.0 L225.1,673.0 L226.6,673.0 L228.2,673.0 L229.8,673.0 L231.4,673.0 L233.0,673.0" stroke="#8f8f8f" stroke-width="0.55" fill="none" stroke-opacity="0.75"/>
<path d="M185.3,673.0 L186.9,673.0 L188.5,673.0 L190.1,673.0 L191.7,672.9 L193.2,672.7 L194.8,671.9 L196.4,669.6 L198.0,663.5 L199.6,655.0 L201.2,646.7 L202.8,641.1 L204.4,639.4 L206.0,646.0 L207.6,654.0 L209.2,663.0 L210.7,669.1 L212.3,671.8 L213.9,672.7 L215.5,672.9 L217.1,673.0 L218.7,673.0 L220.3,673.0 L221.9,673.0 L223.5,673.0 L225.1,673.0 L226.6,673.0 L228.2,673.0 L229.8,673.0 L231.4,673.0 L233.0,673.0" stroke="#8f8f8f" stroke-width="0.55" fill="none" stroke-opacity="0.75"/>
<path d="M185.3,673.0 L186.9,673.0 L188.5,673.0 L190.1,673.0 L191.7,673.0 L193.2,673.0 L194.8,673.0 L196.4,673.0 L198.0,672.8 L199.6,672.2 L201.2,670.0 L202.8,664.5 L204.4,656.5 L206.0,640.8 L207.6,625.0 L209.2,609.4 L210.7,610.6 L212.3,623.7 L213.9,637.0 L215.5,655.2 L217.1,665.5 L218.7,670.3 L220.3,672.2 L221.9,672.8 L223.5,673.0 L225.1,673.0 L226.6,673.0 L228.2,673.0 L229.8,673.0 L231.4,673.0 L233.0,673.0" stroke="#8f8f8f" stroke-width="0.55" fill="none" stroke-opacity="0.75"/>
<path d="M185.3,673.0 L186.9,673.0 L188.5,673.0 L190.1,673.0 L191.7,673.0 L193.2,673.0 L194.8,672.9 L196.4,672.7 L198.0,671.6 L199.6,668.3 L201.2,661.0 L202.8,646.8 L204.4,631.7 L206.0,623.6 L207.6,622.3 L209.2,638.4 L210.7,651.3 L212.3,663.7 L213.9,670.2 L215.5,672.2 L217.1,672.8 L218.7,673.0 L220.3,673.0 L221.9,673.0 L223.5,673.0 L225.1,673.0 L226.6,673.0 L228.2,673.0 L229.8,673.0 L231.4,673.0 L233.0,673.0" stroke="#8f8f8f" stroke-width="0.55" fill="none" stroke-opacity="0.75"/>
<path d="M185.3,673.0 L186.9,673.0 L188.5,673.0 L190.1,673.0 L191.7,673.0 L193.2,673.0 L194.8,673.0 L196.4,673.0 L198.0,672.9 L199.6,672.3 L201.2,669.8 L202.8,662.4 L204.4,647.5 L206.0,631.0 L207.6,626.6 L209.2,629.0 L210.7,646.0 L212.3,661.3 L213.9,668.6 L215.5,672.0 L217.1,672.8 L218.7,673.0 L220.3,673.0 L221.9,673.0 L223.5,673.0 L225.1,673.0 L226.6,673.0 L228.2,673.0 L229.8,673.0 L231.4,673.0 L233.0,673.0" stroke="#8f8f8f" stroke-width="0.55" fill="none" stroke-opacity="0.75"/>
<path d="M185.3,673.0 L186.9,673.0 L188.5,673.0 L190.1,673.0 L191.7,673.0 L193.2,673.0 L194.8,673.0 L196.4,673.0 L198.0,673.0 L199.6,673.0 L201.2,673.0 L202.8,673.0 L204.4,672.9 L206.0,672.6 L207.6,671.7 L209.2,669.3 L210.7,665.1 L212.3,659.3 L213.9,648.3 L215.5,642.7 L217.1,637.1 L218.7,642.2 L220.3,648.8 L221.9,653.6 L223.5,663.9 L225.1,668.6 L226.6,671.1 L228.2,672.4 L229.8,672.8 L231.4,673.0 L233.0,673.0" stroke="#8f8f8f" stroke-width="0.55" fill="none" stroke-opacity="0.75"/>
<path d="M185.3,673.0 L186.9,673.0 L188.5,673.0 L190.1,673.0 L191.7,673.0 L193.2,673.0 L194.8,673.0 L196.4,673.0 L198.0,673.0 L199.6,673.0 L201.2,673.0 L202.8,673.0 L204.4,673.0 L206.0,672.9 L207.6,672.5 L209.2,670.7 L210.7,664.9 L212.3,654.8 L213.9,642.3 L215.5,628.5 L217.1,632.8 L218.7,646.2 L220.3,657.0 L221.9,667.1 L223.5,671.2 L225.1,672.6 L226.6,672.9 L228.2,673.0 L229.8,673.0 L231.4,673.0 L233.0,673.0" stroke="#8f8f8f" stroke-width="0.55" fill="none" stroke-opacity="0.75"/>
<path d="M185.3,673.0 L186.9,673.0 L188.5,673.0 L190.1,673.0 L191.7,673.0 L193.2,673.0 L194.8,673.0 L196.4,673.0 L198.0,673.0 L199.6,673.0 L201.2,673.0 L202.8,673.0 L204.4,673.0 L206.0,672.9 L207.6,672.4 L209.2,670.7 L210.7,666.8 L212.3,657.9 L213.9,645.5 L215.5,638.0 L217.1,640.5 L218.7,642.6 L220.3,656.3 L221.9,664.0 L223.5,669.3 L225.1,672.0 L226.6,672.8 L228.2,673.0 L229.8,673.0 L231.4,673.0 L233.0,673.0" stroke="#8f8f8f" stroke-width="0.55" fill="none" stroke-opacity="0.75"/>
<path d="M185.3,673.0 L186.9,673.0 L188.5,673.0 L190.1,673.0 L191.7,673.0 L193.2,673.0 L194.8,673.0 L196.4,673.0 L198.0,673.0 L199.6,673.0 L201.2,673.0 L202.8,673.0 L204.4,672.9 L206.0,672.7 L207.6,672.1 L209.2,670.5 L210.7,667.0 L212.3,660.1 L213.9,649.8 L215.5,642.3 L217.1,634.6 L218.7,629.9 L220.3,638.3 L221.9,646.1 L223.5,656.4 L225.1,663.6 L226.6,669.5 L228.2,671.6 L229.8,672.5 L231.4,672.9 L233.0,673.0" stroke="#8f8f8f" stroke-width="0.55" fill="none" stroke-opacity="0.75"/>
<line x1="209.15" y1="673.00" x2="209.15" y2="594.25" stroke="#4aae4a" stroke-width="1.3"/>
<line x1="169.50" y1="593.30" x2="169.50" y2="673.00" stroke="#231f20" stroke-width="1.0"/>
<line x1="169.40" y1="673.50" x2="251.20" y2="673.50" stroke="#231f20" stroke-width="1.0"/>
<line x1="166.40" y1="594.50" x2="169.40" y2="594.50" stroke="#231f20" stroke-width="0.8"/>
<text x="163.20" y="596.75" font-size="8.3" text-anchor="end" stroke="#2b2a2a" stroke-width="0.15">0.3</text>
<line x1="166.40" y1="620.50" x2="169.40" y2="620.50" stroke="#231f20" stroke-width="0.8"/>
<text x="163.20" y="623.00" font-size="8.3" text-anchor="end" stroke="#2b2a2a" stroke-width="0.15">0.2</text>
<line x1="166.40" y1="646.50" x2="169.40" y2="646.50" stroke="#231f20" stroke-width="0.8"/>
<text x="163.20" y="649.25" font-size="8.3" text-anchor="end" stroke="#2b2a2a" stroke-width="0.15">0.1</text>
<line x1="166.40" y1="673.50" x2="169.40" y2="673.50" stroke="#231f20" stroke-width="0.8"/>
<text x="163.20" y="675.50" font-size="8.3" text-anchor="end" stroke="#2b2a2a" stroke-width="0.15">0</text>
<line x1="169.50" y1="673.00" x2="169.50" y2="676.00" stroke="#231f20" stroke-width="0.8"/>
<text x="169.40" y="685.80" font-size="7.8" text-anchor="middle" stroke="#2b2a2a" stroke-width="0.15">0</text>
<line x1="209.50" y1="673.00" x2="209.50" y2="676.00" stroke="#231f20" stroke-width="0.8"/>
<text x="209.15" y="685.80" font-size="7.8" text-anchor="middle" stroke="#2b2a2a" stroke-width="0.15">0.5</text>
<line x1="248.50" y1="673.00" x2="248.50" y2="676.00" stroke="#231f20" stroke-width="0.8"/>
<text x="248.90" y="685.80" font-size="7.8" text-anchor="middle" stroke="#2b2a2a" stroke-width="0.15">1</text>
<text x="196.70" y="699.40" font-size="9.8" stroke="#2b2a2a" stroke-width="0.15" textLength="28.30" lengthAdjust="spacingAndGlyphs">Capacity</text>
<text x="145.92" y="631.62" font-size="9.3" text-anchor="middle" stroke="#2b2a2a" stroke-width="0.15" textLength="35.75" lengthAdjust="spacingAndGlyphs" transform="rotate(-90 145.92 631.62)">Frequency</text>
<text x="215.50" y="603.75" font-size="8.4" fill="#5cb85c" stroke="#5cb85c" stroke-width="0.15" font-style="italic" textLength="36.50" lengthAdjust="spacingAndGlyphs">Reference</text>
<text x="215.50" y="613.00" font-size="8.4" fill="#5cb85c" stroke="#5cb85c" stroke-width="0.15" font-style="italic" textLength="18.30" lengthAdjust="spacingAndGlyphs">value</text>
<text x="301.25" y="443.75" font-size="10" stroke="#2b2a2a" stroke-width="0.15" textLength="68.25" lengthAdjust="spacingAndGlyphs">Perfused blood</text>
<circle cx="307.30" cy="496.04" r="1.35" fill="#111"/>
<circle cx="309.03" cy="481.33" r="1.35" fill="#111"/>
<circle cx="312.49" cy="507.63" r="1.35" fill="#111"/>
<circle cx="314.22" cy="483.93" r="1.35" fill="#111"/>
<circle cx="315.61" cy="483.93" r="1.35" fill="#111"/>
<circle cx="316.30" cy="486.52" r="1.35" fill="#111"/>
<circle cx="315.95" cy="493.79" r="1.35" fill="#111"/>
<circle cx="317.68" cy="500.02" r="1.35" fill="#111"/>
<circle cx="318.20" cy="505.55" r="1.35" fill="#111"/>
<circle cx="318.89" cy="500.36" r="1.35" fill="#111"/>
<circle cx="319.41" cy="474.07" r="1.35" fill="#111"/>
<circle cx="319.76" cy="505.55" r="1.35" fill="#111"/>
<circle cx="319.93" cy="515.93" r="1.35" fill="#111"/>
<circle cx="320.28" cy="498.98" r="1.35" fill="#111"/>
<circle cx="320.80" cy="501.75" r="1.35" fill="#111"/>
<circle cx="321.66" cy="503.48" r="1.35" fill="#111"/>
<circle cx="322.87" cy="460.92" r="1.35" fill="#111"/>
<circle cx="323.22" cy="470.61" r="1.35" fill="#111"/>
<circle cx="322.87" cy="491.71" r="1.35" fill="#111"/>
<circle cx="323.74" cy="493.44" r="1.35" fill="#111"/>
<circle cx="324.26" cy="496.04" r="1.35" fill="#111"/>
<circle cx="324.60" cy="458.49" r="1.35" fill="#111"/>
<circle cx="325.12" cy="483.06" r="1.35" fill="#111"/>
<circle cx="325.47" cy="507.28" r="1.35" fill="#111"/>
<circle cx="326.68" cy="487.91" r="1.35" fill="#111"/>
<circle cx="330.14" cy="495.52" r="1.35" fill="#111"/>
<circle cx="331.87" cy="460.22" r="1.35" fill="#111"/>
<circle cx="353.15" cy="510.74" r="1.35" fill="#111"/>
<rect x="355.50" y="483.50" width="13.00" height="19.00" stroke="#c43d66" stroke-width="1.0" fill="none"/>
<line x1="355.40" y1="494.50" x2="368.20" y2="494.50" stroke="#c43d66" stroke-width="1.0"/>
<line x1="361.50" y1="483.40" x2="361.50" y2="458.50" stroke="#c43d66" stroke-width="1.0" stroke-dasharray="3.4,2.2"/>
<line x1="361.50" y1="502.10" x2="361.50" y2="515.90" stroke="#c43d66" stroke-width="1.0" stroke-dasharray="3.4,2.2"/>
<line x1="359.60" y1="458.50" x2="364.00" y2="458.50" stroke="#c43d66" stroke-width="1.0"/>
<line x1="359.60" y1="515.50" x2="364.00" y2="515.50" stroke="#c43d66" stroke-width="1.0"/>
<rect x="300.50" y="454.50" width="70.00" height="84.00" stroke="#231f20" stroke-width="1.0" fill="none"/>
<line x1="297.50" y1="465.50" x2="300.50" y2="465.50" stroke="#231f20" stroke-width="0.8"/>
<text x="294.30" y="467.80" font-size="8.3" text-anchor="end" stroke="#2b2a2a" stroke-width="0.15">2</text>
<line x1="297.50" y1="491.50" x2="300.50" y2="491.50" stroke="#231f20" stroke-width="0.8"/>
<text x="294.30" y="493.80" font-size="8.3" text-anchor="end" stroke="#2b2a2a" stroke-width="0.15">1.5</text>
<line x1="297.50" y1="517.50" x2="300.50" y2="517.50" stroke="#231f20" stroke-width="0.8"/>
<text x="294.30" y="519.80" font-size="8.3" text-anchor="end" stroke="#2b2a2a" stroke-width="0.15">1</text>
<line x1="300.50" y1="538.30" x2="300.50" y2="541.30" stroke="#231f20" stroke-width="0.8"/>
<text x="300.50" y="550.70" font-size="7.4" text-anchor="middle" stroke="#2b2a2a" stroke-width="0.15">0</text>
<line x1="318.50" y1="538.30" x2="318.50" y2="541.30" stroke="#231f20" stroke-width="0.8"/>
<text x="318.07" y="550.70" font-size="7.4" text-anchor="middle" stroke="#2b2a2a" stroke-width="0.15">10</text>
<line x1="335.50" y1="538.30" x2="335.50" y2="541.30" stroke="#231f20" stroke-width="0.8"/>
<text x="335.64" y="550.70" font-size="7.4" text-anchor="middle" stroke="#2b2a2a" stroke-width="0.15">20</text>
<line x1="353.50" y1="538.30" x2="353.50" y2="541.30" stroke="#231f20" stroke-width="0.8"/>
<text x="353.21" y="550.70" font-size="7.4" text-anchor="middle" stroke="#2b2a2a" stroke-width="0.15">30</text>
<line x1="361.50" y1="538.30" x2="361.50" y2="541.30" stroke="#231f20" stroke-width="0.8"/>
<text x="302.80" y="534.60" font-size="7.8" fill="#4a6c94" stroke="#4a6c94" stroke-width="0.15" font-style="italic">P</text>
<text x="309.60" y="534.60" font-size="7.8" fill="#4a6c94" stroke="#4a6c94" stroke-width="0.15">=</text>
<text x="316.90" y="534.60" font-size="7.8" fill="#4a6c94" stroke="#4a6c94" stroke-width="0.15" textLength="16.30" lengthAdjust="spacingAndGlyphs">.972</text>
<text x="308.70" y="565.00" font-size="9.6" stroke="#2b2a2a" stroke-width="0.15" textLength="50.90" lengthAdjust="spacingAndGlyphs">Days in storage</text>
<text x="276.92" y="496.88" font-size="9.3" text-anchor="middle" stroke="#2b2a2a" stroke-width="0.15" textLength="56.25" lengthAdjust="spacingAndGlyphs" transform="rotate(-90 276.92 496.88)">Time constant (s)</text>
<text x="301.25" y="584.50" font-size="10" stroke="#2b2a2a" stroke-width="0.15" textLength="68.25" lengthAdjust="spacingAndGlyphs">Perfused blood</text>
<circle cx="307.00" cy="632.50" r="1.35" fill="#111"/>
<circle cx="308.75" cy="630.75" r="1.35" fill="#111"/>
<circle cx="312.50" cy="647.00" r="1.35" fill="#111"/>
<circle cx="313.75" cy="637.00" r="1.35" fill="#111"/>
<circle cx="315.50" cy="637.00" r="1.35" fill="#111"/>
<circle cx="316.25" cy="613.75" r="1.35" fill="#111"/>
<circle cx="316.25" cy="626.25" r="1.35" fill="#111"/>
<circle cx="318.00" cy="629.50" r="1.35" fill="#111"/>
<circle cx="318.25" cy="646.25" r="1.35" fill="#111"/>
<circle cx="319.50" cy="647.00" r="1.35" fill="#111"/>
<circle cx="320.00" cy="629.50" r="1.35" fill="#111"/>
<circle cx="320.75" cy="628.75" r="1.35" fill="#111"/>
<circle cx="322.50" cy="620.00" r="1.35" fill="#111"/>
<circle cx="322.00" cy="637.50" r="1.35" fill="#111"/>
<circle cx="323.00" cy="624.50" r="1.35" fill="#111"/>
<circle cx="323.75" cy="643.75" r="1.35" fill="#111"/>
<circle cx="324.50" cy="629.50" r="1.35" fill="#111"/>
<circle cx="325.00" cy="631.25" r="1.35" fill="#111"/>
<circle cx="325.50" cy="643.00" r="1.35" fill="#111"/>
<circle cx="326.25" cy="641.25" r="1.35" fill="#111"/>
<circle cx="325.50" cy="625.00" r="1.35" fill="#111"/>
<circle cx="327.00" cy="640.50" r="1.35" fill="#111"/>
<circle cx="332.00" cy="641.25" r="1.35" fill="#111"/>
<circle cx="330.50" cy="657.50" r="1.35" fill="#111"/>
<circle cx="353.00" cy="640.50" r="1.35" fill="#111"/>
<rect x="355.50" y="629.50" width="13.00" height="14.00" stroke="#c43d66" stroke-width="1.0" fill="none"/>
<line x1="355.90" y1="637.50" x2="368.10" y2="637.50" stroke="#c43d66" stroke-width="1.0"/>
<line x1="362.50" y1="629.25" x2="362.50" y2="613.75" stroke="#c43d66" stroke-width="1.0" stroke-dasharray="3.4,2.2"/>
<line x1="362.50" y1="643.75" x2="362.50" y2="657.50" stroke="#c43d66" stroke-width="1.0" stroke-dasharray="3.4,2.2"/>
<line x1="359.80" y1="613.50" x2="364.20" y2="613.50" stroke="#c43d66" stroke-width="1.0"/>
<line x1="359.80" y1="657.50" x2="364.20" y2="657.50" stroke="#c43d66" stroke-width="1.0"/>
<rect x="300.50" y="594.50" width="70.00" height="82.00" stroke="#231f20" stroke-width="1.0" fill="none"/>
<line x1="297.30" y1="594.50" x2="300.30" y2="594.50" stroke="#231f20" stroke-width="0.8"/>
<text x="294.10" y="596.90" font-size="8.3" text-anchor="end" stroke="#2b2a2a" stroke-width="0.15">0.7</text>
<line x1="297.30" y1="614.50" x2="300.30" y2="614.50" stroke="#231f20" stroke-width="0.8"/>
<text x="294.10" y="617.40" font-size="8.3" text-anchor="end" stroke="#2b2a2a" stroke-width="0.15">0.6</text>
<line x1="297.30" y1="635.50" x2="300.30" y2="635.50" stroke="#231f20" stroke-width="0.8"/>
<text x="294.10" y="637.90" font-size="8.3" text-anchor="end" stroke="#2b2a2a" stroke-width="0.15">0.5</text>
<line x1="297.30" y1="655.50" x2="300.30" y2="655.50" stroke="#231f20" stroke-width="0.8"/>
<text x="294.10" y="658.40" font-size="8.3" text-anchor="end" stroke="#2b2a2a" stroke-width="0.15">0.4</text>
<line x1="297.30" y1="676.50" x2="300.30" y2="676.50" stroke="#231f20" stroke-width="0.8"/>
<text x="294.10" y="678.90" font-size="8.3" text-anchor="end" stroke="#2b2a2a" stroke-width="0.15">0.3</text>
<line x1="300.50" y1="676.40" x2="300.50" y2="679.40" stroke="#231f20" stroke-width="0.8"/>
<text x="300.30" y="688.00" font-size="7.4" text-anchor="middle" stroke="#2b2a2a" stroke-width="0.15">0</text>
<line x1="317.50" y1="676.40" x2="317.50" y2="679.40" stroke="#231f20" stroke-width="0.8"/>
<text x="317.93" y="688.00" font-size="7.4" text-anchor="middle" stroke="#2b2a2a" stroke-width="0.15">10</text>
<line x1="335.50" y1="676.40" x2="335.50" y2="679.40" stroke="#231f20" stroke-width="0.8"/>
<text x="335.56" y="688.00" font-size="7.4" text-anchor="middle" stroke="#2b2a2a" stroke-width="0.15">20</text>
<line x1="353.50" y1="676.40" x2="353.50" y2="679.40" stroke="#231f20" stroke-width="0.8"/>
<text x="353.19" y="688.00" font-size="7.4" text-anchor="middle" stroke="#2b2a2a" stroke-width="0.15">30</text>
<line x1="362.50" y1="676.40" x2="362.50" y2="679.40" stroke="#231f20" stroke-width="0.8"/>
<text x="302.30" y="670.40" font-size="7.8" fill="#4a6c94" stroke="#4a6c94" stroke-width="0.15" font-style="italic">P</text>
<text x="309.10" y="670.40" font-size="7.8" fill="#4a6c94" stroke="#4a6c94" stroke-width="0.15">=</text>
<text x="316.40" y="670.40" font-size="7.8" fill="#4a6c94" stroke="#4a6c94" stroke-width="0.15" textLength="16.30" lengthAdjust="spacingAndGlyphs">.285</text>
<text x="309.50" y="702.00" font-size="9.6" stroke="#2b2a2a" stroke-width="0.15" textLength="51.70" lengthAdjust="spacingAndGlyphs">Days in storage</text>
<text x="276.92" y="634.75" font-size="9.3" text-anchor="middle" stroke="#2b2a2a" stroke-width="0.15" textLength="29.50" lengthAdjust="spacingAndGlyphs" transform="rotate(-90 276.92 634.75)">Capacity</text>
<text x="397.00" y="443.00" font-size="12" font-weight="bold" fill="#111">H</text>
<text x="415.50" y="443.75" font-size="10" stroke="#2b2a2a" stroke-width="0.15" textLength="97.50" lengthAdjust="spacingAndGlyphs">Kidney recipient RBCs</text>
<rect x="457.50" y="500.50" width="12.00" height="18.00" stroke="#c43d66" stroke-width="1.0" fill="none"/>
<line x1="457.05" y1="509.50" x2="469.45" y2="509.50" stroke="#c43d66" stroke-width="1.0"/>
<line x1="463.50" y1="500.50" x2="463.50" y2="491.25" stroke="#c43d66" stroke-width="1.0" stroke-dasharray="3.4,2.2"/>
<line x1="463.50" y1="518.00" x2="463.50" y2="528.00" stroke="#c43d66" stroke-width="1.0" stroke-dasharray="3.4,2.2"/>
<line x1="461.05" y1="491.50" x2="465.45" y2="491.50" stroke="#c43d66" stroke-width="1.0"/>
<line x1="461.05" y1="528.50" x2="465.45" y2="528.50" stroke="#c43d66" stroke-width="1.0"/>
<circle cx="433.75" cy="514.50" r="1.35" fill="#111"/>
<circle cx="440.00" cy="509.25" r="1.35" fill="#111"/>
<circle cx="443.00" cy="501.25" r="1.35" fill="#111"/>
<circle cx="443.00" cy="520.00" r="1.35" fill="#111"/>
<circle cx="448.00" cy="507.50" r="1.35" fill="#111"/>
<circle cx="449.50" cy="523.00" r="1.35" fill="#111"/>
<circle cx="453.75" cy="491.75" r="1.35" fill="#111"/>
<circle cx="457.50" cy="495.50" r="1.35" fill="#111"/>
<circle cx="457.00" cy="518.25" r="1.35" fill="#111"/>
<circle cx="462.00" cy="509.50" r="1.35" fill="#111"/>
<circle cx="462.50" cy="502.00" r="1.35" fill="#111"/>
<circle cx="463.00" cy="520.00" r="1.35" fill="#111"/>
<circle cx="464.25" cy="521.25" r="1.35" fill="#111"/>
<circle cx="465.00" cy="502.00" r="1.35" fill="#111"/>
<circle cx="470.50" cy="517.00" r="1.35" fill="#111"/>
<circle cx="474.50" cy="500.50" r="1.35" fill="#111"/>
<circle cx="474.50" cy="513.75" r="1.35" fill="#111"/>
<circle cx="475.00" cy="518.75" r="1.35" fill="#111"/>
<circle cx="476.25" cy="528.00" r="1.35" fill="#111"/>
<circle cx="478.75" cy="497.50" r="1.35" fill="#111"/>
<circle cx="482.00" cy="503.75" r="1.35" fill="#111"/>
<circle cx="483.75" cy="497.50" r="1.35" fill="#111"/>
<circle cx="488.75" cy="514.50" r="1.35" fill="#111"/>
<circle cx="493.75" cy="516.75" r="1.35" fill="#111"/>
<circle cx="463.35" cy="465.50" r="1.5" fill="#c43d66"/>
<circle cx="462.75" cy="465.50" r="1.3" fill="#111"/>
<circle cx="464.85" cy="465.50" r="1.5" fill="#c43d66"/>
<circle cx="464.25" cy="465.50" r="1.3" fill="#111"/>
<circle cx="463.85" cy="474.25" r="1.5" fill="#c43d66"/>
<circle cx="463.25" cy="474.25" r="1.3" fill="#111"/>
<rect x="430.50" y="454.50" width="68.00" height="83.00" stroke="#231f20" stroke-width="1.0" fill="none"/>
<line x1="427.10" y1="454.50" x2="430.10" y2="454.50" stroke="#231f20" stroke-width="0.8"/>
<text x="423.90" y="457.30" font-size="8.3" text-anchor="end" stroke="#2b2a2a" stroke-width="0.15">2</text>
<line x1="427.10" y1="482.50" x2="430.10" y2="482.50" stroke="#231f20" stroke-width="0.8"/>
<text x="423.90" y="484.97" font-size="8.3" text-anchor="end" stroke="#2b2a2a" stroke-width="0.15">1.5</text>
<line x1="427.10" y1="510.50" x2="430.10" y2="510.50" stroke="#231f20" stroke-width="0.8"/>
<text x="423.90" y="512.63" font-size="8.3" text-anchor="end" stroke="#2b2a2a" stroke-width="0.15">1</text>
<line x1="427.10" y1="537.50" x2="430.10" y2="537.50" stroke="#231f20" stroke-width="0.8"/>
<text x="423.90" y="540.30" font-size="8.3" text-anchor="end" stroke="#2b2a2a" stroke-width="0.15">0.5</text>
<text x="406.42" y="497.50" font-size="9.3" text-anchor="middle" stroke="#2b2a2a" stroke-width="0.15" textLength="55.00" lengthAdjust="spacingAndGlyphs" transform="rotate(-90 406.42 497.50)">Time constant (s)</text>
<text x="416.25" y="584.50" font-size="10" stroke="#2b2a2a" stroke-width="0.15" textLength="96.75" lengthAdjust="spacingAndGlyphs">Kidney recipient RBCs</text>
<rect x="460.50" y="633.50" width="9.00" height="11.00" stroke="#c43d66" stroke-width="1.0" fill="none"/>
<line x1="460.00" y1="639.50" x2="469.50" y2="639.50" stroke="#c43d66" stroke-width="1.0"/>
<line x1="464.50" y1="633.25" x2="464.50" y2="616.25" stroke="#c43d66" stroke-width="1.0" stroke-dasharray="3.4,2.2"/>
<line x1="464.50" y1="644.25" x2="464.50" y2="652.00" stroke="#c43d66" stroke-width="1.0" stroke-dasharray="3.4,2.2"/>
<line x1="462.55" y1="616.50" x2="466.95" y2="616.50" stroke="#c43d66" stroke-width="1.0"/>
<line x1="462.55" y1="652.50" x2="466.95" y2="652.50" stroke="#c43d66" stroke-width="1.0"/>
<circle cx="437.00" cy="637.50" r="1.35" fill="#111"/>
<circle cx="439.50" cy="643.00" r="1.35" fill="#111"/>
<circle cx="441.25" cy="638.75" r="1.35" fill="#111"/>
<circle cx="442.00" cy="638.75" r="1.35" fill="#111"/>
<circle cx="451.25" cy="635.50" r="1.35" fill="#111"/>
<circle cx="452.50" cy="632.00" r="1.35" fill="#111"/>
<circle cx="456.25" cy="643.25" r="1.35" fill="#111"/>
<circle cx="458.75" cy="630.00" r="1.35" fill="#111"/>
<circle cx="460.00" cy="627.00" r="1.35" fill="#111"/>
<circle cx="462.00" cy="638.75" r="1.35" fill="#111"/>
<circle cx="462.00" cy="617.00" r="1.35" fill="#111"/>
<circle cx="462.50" cy="609.50" r="1.35" fill="#111"/>
<circle cx="463.75" cy="623.75" r="1.35" fill="#111"/>
<circle cx="464.50" cy="633.75" r="1.35" fill="#111"/>
<circle cx="465.00" cy="632.50" r="1.35" fill="#111"/>
<circle cx="465.00" cy="645.00" r="1.35" fill="#111"/>
<circle cx="464.50" cy="642.00" r="1.35" fill="#111"/>
<circle cx="467.50" cy="639.50" r="1.35" fill="#111"/>
<circle cx="470.00" cy="643.25" r="1.35" fill="#111"/>
<circle cx="470.50" cy="644.25" r="1.35" fill="#111"/>
<circle cx="472.50" cy="634.50" r="1.35" fill="#111"/>
<circle cx="472.50" cy="651.25" r="1.35" fill="#111"/>
<circle cx="474.50" cy="643.25" r="1.35" fill="#111"/>
<circle cx="475.00" cy="645.50" r="1.35" fill="#111"/>
<circle cx="483.75" cy="644.25" r="1.35" fill="#111"/>
<circle cx="485.50" cy="648.00" r="1.35" fill="#111"/>
<circle cx="488.75" cy="643.75" r="1.35" fill="#111"/>
<circle cx="492.50" cy="643.75" r="1.35" fill="#111"/>
<circle cx="463.75" cy="609.50" r="1.35" fill="#111"/>
<rect x="430.50" y="594.50" width="68.00" height="81.00" stroke="#231f20" stroke-width="1.0" fill="none"/>
<line x1="427.10" y1="594.50" x2="430.10" y2="594.50" stroke="#231f20" stroke-width="0.8"/>
<text x="423.90" y="596.90" font-size="8.3" text-anchor="end" stroke="#2b2a2a" stroke-width="0.15">0.7</text>
<line x1="427.10" y1="614.50" x2="430.10" y2="614.50" stroke="#231f20" stroke-width="0.8"/>
<text x="423.90" y="617.23" font-size="8.3" text-anchor="end" stroke="#2b2a2a" stroke-width="0.15">0.6</text>
<line x1="427.10" y1="635.50" x2="430.10" y2="635.50" stroke="#231f20" stroke-width="0.8"/>
<text x="423.90" y="637.55" font-size="8.3" text-anchor="end" stroke="#2b2a2a" stroke-width="0.15">0.5</text>
<line x1="427.10" y1="655.50" x2="430.10" y2="655.50" stroke="#231f20" stroke-width="0.8"/>
<text x="423.90" y="657.88" font-size="8.3" text-anchor="end" stroke="#2b2a2a" stroke-width="0.15">0.4</text>
<line x1="427.10" y1="675.50" x2="430.10" y2="675.50" stroke="#231f20" stroke-width="0.8"/>
<text x="423.90" y="678.20" font-size="8.3" text-anchor="end" stroke="#2b2a2a" stroke-width="0.15">0.3</text>
<text x="406.42" y="634.75" font-size="9.3" text-anchor="middle" stroke="#2b2a2a" stroke-width="0.15" textLength="29.50" lengthAdjust="spacingAndGlyphs" transform="rotate(-90 406.42 634.75)">Capacity</text>
</g>
</svg>
</body></html>
